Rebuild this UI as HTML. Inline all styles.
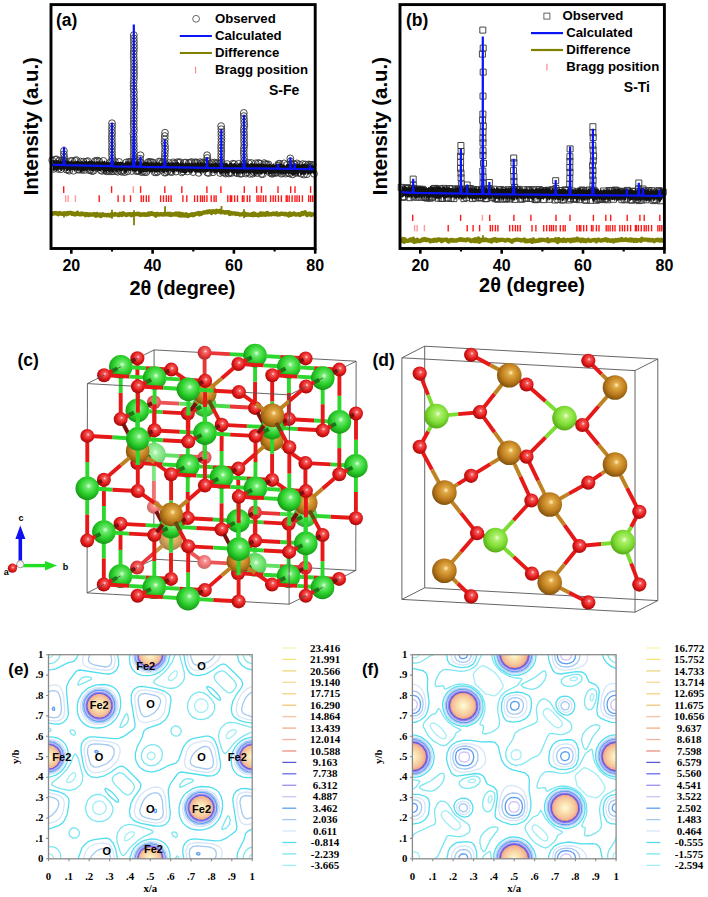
<!DOCTYPE html>
<html><head><meta charset="utf-8"><title>figure</title><style>
html,body{margin:0;padding:0;background:#fff;}
svg{display:block;}
text{font-family:"Liberation Sans",sans-serif;}
.pl{font-weight:bold;font-size:17.5px;}
.lg{font-weight:bold;font-size:13.2px;}
.sp{font-weight:bold;font-size:14px;}
.tk{font-weight:bold;font-size:16px;}
.ax{font-weight:bold;font-size:19.9px;}
.ay{font-weight:bold;font-size:20.4px;}
.fe{font-weight:bold;font-size:11px;}
.ai{font-weight:bold;font-size:9px;}
.tl{font-size:10.8px;}
.lv{font-size:11px;}
.sf{font-family:"Liberation Serif",serif;font-weight:bold;}
</style></head>
<body><svg width="708" height="897" viewBox="0 0 708 897">
<rect width="708" height="897" fill="#fff"/>
<line x1="63.7" y1="186.2" x2="63.7" y2="192.9" stroke="#ff1a1a" stroke-width="1.4"/>
<line x1="111.6" y1="186.2" x2="111.6" y2="192.9" stroke="#ff1a1a" stroke-width="1.4"/>
<line x1="133.3" y1="186.2" x2="133.3" y2="192.9" stroke="#ff9a9a" stroke-width="1.4"/>
<line x1="140.6" y1="186.2" x2="140.6" y2="192.9" stroke="#ff1a1a" stroke-width="1.4"/>
<line x1="164.8" y1="186.2" x2="164.8" y2="192.9" stroke="#ff1a1a" stroke-width="1.4"/>
<line x1="181.8" y1="186.2" x2="181.8" y2="192.9" stroke="#ff1a1a" stroke-width="1.4"/>
<line x1="206.9" y1="186.2" x2="206.9" y2="192.9" stroke="#ff1a1a" stroke-width="1.4"/>
<line x1="220.9" y1="186.2" x2="220.9" y2="192.9" stroke="#ff1a1a" stroke-width="1.4"/>
<line x1="244.3" y1="186.2" x2="244.3" y2="192.9" stroke="#ff1a1a" stroke-width="1.4"/>
<line x1="256.6" y1="186.2" x2="256.6" y2="192.9" stroke="#ff1a1a" stroke-width="1.4"/>
<line x1="261.5" y1="186.2" x2="261.5" y2="192.9" stroke="#ff1a1a" stroke-width="1.4"/>
<line x1="278.0" y1="186.2" x2="278.0" y2="192.9" stroke="#ff1a1a" stroke-width="1.4"/>
<line x1="290.7" y1="186.2" x2="290.7" y2="192.9" stroke="#ff1a1a" stroke-width="1.4"/>
<line x1="295.0" y1="186.2" x2="295.0" y2="192.9" stroke="#ff1a1a" stroke-width="1.4"/>
<line x1="310.6" y1="186.2" x2="310.6" y2="192.9" stroke="#ff1a1a" stroke-width="1.4"/>
<line x1="65.6" y1="195.3" x2="65.6" y2="202.0" stroke="#ff9a9a" stroke-width="1.4"/>
<line x1="68.1" y1="195.3" x2="68.1" y2="202.0" stroke="#ff9a9a" stroke-width="1.4"/>
<line x1="75.4" y1="195.3" x2="75.4" y2="202.0" stroke="#ff9a9a" stroke-width="1.4"/>
<line x1="99.2" y1="195.3" x2="99.2" y2="202.0" stroke="#ff1a1a" stroke-width="1.4"/>
<line x1="118.1" y1="195.3" x2="118.1" y2="202.0" stroke="#ff1a1a" stroke-width="1.4"/>
<line x1="124.0" y1="195.3" x2="124.0" y2="202.0" stroke="#ff1a1a" stroke-width="1.4"/>
<line x1="130.5" y1="195.3" x2="130.5" y2="202.0" stroke="#ff1a1a" stroke-width="1.4"/>
<line x1="141.2" y1="195.3" x2="141.2" y2="202.0" stroke="#ff1a1a" stroke-width="1.4"/>
<line x1="143.4" y1="195.3" x2="143.4" y2="202.0" stroke="#ff1a1a" stroke-width="1.4"/>
<line x1="146.3" y1="195.3" x2="146.3" y2="202.0" stroke="#ff1a1a" stroke-width="1.4"/>
<line x1="148.8" y1="195.3" x2="148.8" y2="202.0" stroke="#ff1a1a" stroke-width="1.4"/>
<line x1="160.6" y1="195.3" x2="160.6" y2="202.0" stroke="#ff1a1a" stroke-width="1.4"/>
<line x1="163.5" y1="195.3" x2="163.5" y2="202.0" stroke="#ff1a1a" stroke-width="1.4"/>
<line x1="166.3" y1="195.3" x2="166.3" y2="202.0" stroke="#ff1a1a" stroke-width="1.4"/>
<line x1="168.6" y1="195.3" x2="168.6" y2="202.0" stroke="#ff1a1a" stroke-width="1.4"/>
<line x1="171.1" y1="195.3" x2="171.1" y2="202.0" stroke="#ff1a1a" stroke-width="1.4"/>
<line x1="182.9" y1="195.3" x2="182.9" y2="202.0" stroke="#ff1a1a" stroke-width="1.4"/>
<line x1="186.8" y1="195.3" x2="186.8" y2="202.0" stroke="#ff1a1a" stroke-width="1.4"/>
<line x1="194.6" y1="195.3" x2="194.6" y2="202.0" stroke="#ff1a1a" stroke-width="1.4"/>
<line x1="197.5" y1="195.3" x2="197.5" y2="202.0" stroke="#ff1a1a" stroke-width="1.4"/>
<line x1="200.5" y1="195.3" x2="200.5" y2="202.0" stroke="#ff1a1a" stroke-width="1.4"/>
<line x1="202.4" y1="195.3" x2="202.4" y2="202.0" stroke="#ff1a1a" stroke-width="1.4"/>
<line x1="204.4" y1="195.3" x2="204.4" y2="202.0" stroke="#ff1a1a" stroke-width="1.4"/>
<line x1="206.9" y1="195.3" x2="206.9" y2="202.0" stroke="#ff1a1a" stroke-width="1.4"/>
<line x1="211.2" y1="195.3" x2="211.2" y2="202.0" stroke="#ff1a1a" stroke-width="1.4"/>
<line x1="214.1" y1="195.3" x2="214.1" y2="202.0" stroke="#ff1a1a" stroke-width="1.4"/>
<line x1="216.1" y1="195.3" x2="216.1" y2="202.0" stroke="#ff1a1a" stroke-width="1.4"/>
<line x1="227.8" y1="195.3" x2="227.8" y2="202.0" stroke="#ff1a1a" stroke-width="1.4"/>
<line x1="230.3" y1="195.3" x2="230.3" y2="202.0" stroke="#ff1a1a" stroke-width="1.4"/>
<line x1="231.7" y1="195.3" x2="231.7" y2="202.0" stroke="#ff1a1a" stroke-width="1.4"/>
<line x1="234.6" y1="195.3" x2="234.6" y2="202.0" stroke="#ff1a1a" stroke-width="1.4"/>
<line x1="237.5" y1="195.3" x2="237.5" y2="202.0" stroke="#ff1a1a" stroke-width="1.4"/>
<line x1="242.4" y1="195.3" x2="242.4" y2="202.0" stroke="#ff1a1a" stroke-width="1.4"/>
<line x1="243.9" y1="195.3" x2="243.9" y2="202.0" stroke="#ff1a1a" stroke-width="1.4"/>
<line x1="247.3" y1="195.3" x2="247.3" y2="202.0" stroke="#ff1a1a" stroke-width="1.4"/>
<line x1="249.8" y1="195.3" x2="249.8" y2="202.0" stroke="#ff1a1a" stroke-width="1.4"/>
<line x1="257.0" y1="195.3" x2="257.0" y2="202.0" stroke="#ff1a1a" stroke-width="1.4"/>
<line x1="258.9" y1="195.3" x2="258.9" y2="202.0" stroke="#ff1a1a" stroke-width="1.4"/>
<line x1="260.9" y1="195.3" x2="260.9" y2="202.0" stroke="#ff1a1a" stroke-width="1.4"/>
<line x1="263.4" y1="195.3" x2="263.4" y2="202.0" stroke="#ff1a1a" stroke-width="1.4"/>
<line x1="265.8" y1="195.3" x2="265.8" y2="202.0" stroke="#ff1a1a" stroke-width="1.4"/>
<line x1="270.6" y1="195.3" x2="270.6" y2="202.0" stroke="#ff1a1a" stroke-width="1.4"/>
<line x1="273.2" y1="195.3" x2="273.2" y2="202.0" stroke="#ff1a1a" stroke-width="1.4"/>
<line x1="275.5" y1="195.3" x2="275.5" y2="202.0" stroke="#ff1a1a" stroke-width="1.4"/>
<line x1="278.4" y1="195.3" x2="278.4" y2="202.0" stroke="#ff1a1a" stroke-width="1.4"/>
<line x1="281.4" y1="195.3" x2="281.4" y2="202.0" stroke="#ff1a1a" stroke-width="1.4"/>
<line x1="286.2" y1="195.3" x2="286.2" y2="202.0" stroke="#ff1a1a" stroke-width="1.4"/>
<line x1="287.2" y1="195.3" x2="287.2" y2="202.0" stroke="#ff1a1a" stroke-width="1.4"/>
<line x1="289.2" y1="195.3" x2="289.2" y2="202.0" stroke="#ff1a1a" stroke-width="1.4"/>
<line x1="292.1" y1="195.3" x2="292.1" y2="202.0" stroke="#ff1a1a" stroke-width="1.4"/>
<line x1="295.0" y1="195.3" x2="295.0" y2="202.0" stroke="#ff1a1a" stroke-width="1.4"/>
<line x1="297.0" y1="195.3" x2="297.0" y2="202.0" stroke="#ff1a1a" stroke-width="1.4"/>
<line x1="299.3" y1="195.3" x2="299.3" y2="202.0" stroke="#ff1a1a" stroke-width="1.4"/>
<line x1="302.4" y1="195.3" x2="302.4" y2="202.0" stroke="#ff1a1a" stroke-width="1.4"/>
<line x1="308.7" y1="195.3" x2="308.7" y2="202.0" stroke="#ff1a1a" stroke-width="1.4"/>
<line x1="310.6" y1="195.3" x2="310.6" y2="202.0" stroke="#ff1a1a" stroke-width="1.4"/>
<line x1="312.6" y1="195.3" x2="312.6" y2="202.0" stroke="#ff1a1a" stroke-width="1.4"/>
<line x1="314.5" y1="195.3" x2="314.5" y2="202.0" stroke="#ff1a1a" stroke-width="1.4"/>
<path d="M51.0,213.8 L52.0,213.9 L53.0,213.5 L54.0,213.1 L55.1,213.3 L56.1,213.0 L57.1,213.6 L58.1,214.3 L59.1,213.2 L60.1,213.1 L61.2,213.8 L62.2,213.8 L63.2,213.6 L64.2,213.1 L65.2,213.7 L66.2,214.2 L67.3,213.0 L68.3,213.6 L69.3,212.8 L70.3,213.2 L71.3,212.9 L72.3,213.9 L73.4,213.4 L74.4,214.3 L75.4,214.3 L76.4,214.1 L77.4,212.7 L78.4,214.0 L79.5,214.3 L80.5,214.4 L81.5,213.4 L82.5,214.1 L83.5,213.8 L84.5,214.0 L85.5,215.1 L86.6,214.0 L87.6,214.5 L88.6,215.1 L89.6,214.2 L90.6,214.5 L91.6,214.7 L92.7,214.7 L93.7,214.0 L94.7,214.8 L95.7,215.6 L96.7,213.9 L97.7,215.3 L98.8,214.9 L99.8,214.5 L100.8,216.1 L101.8,215.3 L102.8,214.2 L103.8,214.9 L104.9,215.2 L105.9,214.8 L106.9,215.3 L107.9,214.8 L108.9,215.2 L109.9,215.7 L111.0,214.4 L112.0,214.9 L113.0,214.5 L114.0,214.8 L115.0,214.0 L116.0,214.3 L117.0,214.5 L118.1,215.1 L119.1,215.2 L120.1,213.7 L121.1,214.0 L122.1,214.9 L123.1,213.3 L124.2,214.1 L125.2,214.3 L126.2,215.1 L127.2,214.8 L128.2,214.2 L129.2,214.1 L130.3,214.2 L131.3,215.2 L132.3,214.1 L133.3,214.1 L134.3,214.5 L135.3,214.2 L136.4,214.2 L137.4,213.6 L138.4,214.3 L139.4,214.0 L140.4,215.0 L141.4,214.7 L142.5,214.3 L143.5,214.7 L144.5,214.1 L145.5,214.9 L146.5,214.3 L147.5,214.7 L148.6,213.5 L149.6,214.5 L150.6,213.3 L151.6,213.1 L152.6,214.1 L153.6,213.8 L154.6,214.4 L155.7,215.6 L156.7,213.8 L157.7,213.9 L158.7,214.4 L159.7,214.6 L160.7,214.2 L161.8,214.2 L162.8,214.7 L163.8,214.6 L164.8,213.7 L165.8,214.3 L166.8,214.3 L167.9,213.7 L168.9,214.5 L169.9,213.8 L170.9,215.0 L171.9,214.5 L172.9,214.5 L174.0,214.1 L175.0,214.5 L176.0,213.4 L177.0,214.0 L178.0,215.0 L179.0,213.5 L180.1,215.4 L181.1,213.9 L182.1,215.5 L183.1,214.6 L184.1,215.6 L185.1,215.3 L186.1,214.3 L187.2,215.9 L188.2,216.0 L189.2,215.0 L190.2,214.8 L191.2,214.8 L192.2,214.2 L193.3,215.3 L194.3,214.1 L195.3,214.3 L196.3,213.6 L197.3,213.6 L198.3,213.0 L199.4,214.3 L200.4,213.3 L201.4,213.8 L202.4,213.1 L203.4,212.5 L204.4,212.5 L205.5,212.2 L206.5,212.4 L207.5,212.1 L208.5,212.0 L209.5,211.2 L210.5,211.5 L211.6,212.9 L212.6,211.4 L213.6,211.1 L214.6,211.9 L215.6,212.5 L216.6,210.8 L217.6,211.6 L218.7,211.4 L219.7,210.8 L220.7,212.4 L221.7,212.0 L222.7,212.2 L223.7,211.8 L224.8,212.7 L225.8,212.2 L226.8,212.6 L227.8,212.2 L228.8,212.2 L229.8,213.9 L230.9,212.9 L231.9,213.5 L232.9,213.4 L233.9,213.3 L234.9,213.4 L235.9,214.1 L237.0,213.7 L238.0,213.8 L239.0,214.0 L240.0,214.7 L241.0,214.5 L242.0,214.3 L243.1,213.8 L244.1,213.3 L245.1,214.8 L246.1,214.8 L247.1,214.2 L248.1,214.6 L249.2,214.7 L250.2,214.8 L251.2,214.8 L252.2,214.0 L253.2,215.2 L254.2,213.5 L255.2,214.8 L256.3,214.6 L257.3,214.8 L258.3,215.4 L259.3,215.2 L260.3,213.6 L261.3,213.3 L262.4,214.8 L263.4,213.7 L264.4,214.3 L265.4,214.8 L266.4,213.3 L267.4,213.0 L268.5,214.5 L269.5,214.3 L270.5,214.2 L271.5,214.3 L272.5,213.8 L273.5,213.4 L274.6,214.2 L275.6,213.7 L276.6,213.3 L277.6,214.6 L278.6,214.3 L279.6,214.5 L280.7,213.7 L281.7,213.9 L282.7,213.7 L283.7,213.8 L284.7,214.4 L285.7,213.8 L286.7,214.5 L287.8,214.5 L288.8,215.5 L289.8,213.5 L290.8,214.8 L291.8,214.2 L292.8,214.3 L293.9,213.4 L294.9,214.0 L295.9,214.7 L296.9,214.3 L297.9,214.3 L298.9,214.1 L300.0,215.0 L301.0,214.3 L302.0,213.0 L303.0,213.9 L304.0,213.1 L305.0,212.3 L306.1,214.0 L307.1,215.1 L308.1,214.3 L309.1,213.6 L310.1,213.7 L311.1,215.0 L312.2,214.4 L313.2,214.3 L314.2,214.3 L315.2,214.3" fill="none" stroke="#7f7f00" stroke-width="4.3" stroke-linejoin="round"/>
<line x1="134.0" y1="214.3" x2="134.0" y2="225.3" stroke="#7f7f00" stroke-width="1.8"/>
<line x1="134.0" y1="214.3" x2="134.0" y2="210.3" stroke="#7f7f00" stroke-width="1.8"/>
<line x1="112.0" y1="214.8" x2="112.0" y2="209.8" stroke="#7f7f00" stroke-width="1.8"/>
<line x1="112.0" y1="214.8" x2="112.0" y2="218.8" stroke="#7f7f00" stroke-width="1.8"/>
<line x1="165.0" y1="214.3" x2="165.0" y2="206.3" stroke="#7f7f00" stroke-width="1.8"/>
<line x1="64.0" y1="213.6" x2="64.0" y2="217.6" stroke="#7f7f00" stroke-width="1.8"/>
<line x1="221.5" y1="212.0" x2="221.5" y2="206.0" stroke="#7f7f00" stroke-width="1.8"/>
<line x1="244.0" y1="214.2" x2="244.0" y2="209.2" stroke="#7f7f00" stroke-width="1.8"/>
<line x1="244.0" y1="214.2" x2="244.0" y2="218.2" stroke="#7f7f00" stroke-width="1.8"/>
<line x1="207.0" y1="212.4" x2="207.0" y2="209.4" stroke="#7f7f00" stroke-width="1.8"/>
<path d="M48.8,160.3a3.4,3.4 0 1,0 6.8,0a3.4,3.4 0 1,0 -6.8,0M50.2,168.9a3.4,3.4 0 1,0 6.8,0a3.4,3.4 0 1,0 -6.8,0M51.7,159.6a3.4,3.4 0 1,0 6.8,0a3.4,3.4 0 1,0 -6.8,0M53.1,159.4a3.4,3.4 0 1,0 6.8,0a3.4,3.4 0 1,0 -6.8,0M54.5,168.9a3.4,3.4 0 1,0 6.8,0a3.4,3.4 0 1,0 -6.8,0M55.9,160.7a3.4,3.4 0 1,0 6.8,0a3.4,3.4 0 1,0 -6.8,0M57.4,169.3a3.4,3.4 0 1,0 6.8,0a3.4,3.4 0 1,0 -6.8,0M58.8,160.2a3.4,3.4 0 1,0 6.8,0a3.4,3.4 0 1,0 -6.8,0M60.2,160.5a3.4,3.4 0 1,0 6.8,0a3.4,3.4 0 1,0 -6.8,0M61.6,160.9a3.4,3.4 0 1,0 6.8,0a3.4,3.4 0 1,0 -6.8,0M63.0,169.6a3.4,3.4 0 1,0 6.8,0a3.4,3.4 0 1,0 -6.8,0M64.5,169.8a3.4,3.4 0 1,0 6.8,0a3.4,3.4 0 1,0 -6.8,0M65.9,170.7a3.4,3.4 0 1,0 6.8,0a3.4,3.4 0 1,0 -6.8,0M67.3,161.0a3.4,3.4 0 1,0 6.8,0a3.4,3.4 0 1,0 -6.8,0M68.7,161.0a3.4,3.4 0 1,0 6.8,0a3.4,3.4 0 1,0 -6.8,0M70.2,170.8a3.4,3.4 0 1,0 6.8,0a3.4,3.4 0 1,0 -6.8,0M71.6,160.7a3.4,3.4 0 1,0 6.8,0a3.4,3.4 0 1,0 -6.8,0M73.0,160.1a3.4,3.4 0 1,0 6.8,0a3.4,3.4 0 1,0 -6.8,0M74.4,169.6a3.4,3.4 0 1,0 6.8,0a3.4,3.4 0 1,0 -6.8,0M75.8,169.7a3.4,3.4 0 1,0 6.8,0a3.4,3.4 0 1,0 -6.8,0M77.3,161.6a3.4,3.4 0 1,0 6.8,0a3.4,3.4 0 1,0 -6.8,0M78.7,170.0a3.4,3.4 0 1,0 6.8,0a3.4,3.4 0 1,0 -6.8,0M80.1,161.7a3.4,3.4 0 1,0 6.8,0a3.4,3.4 0 1,0 -6.8,0M81.5,169.9a3.4,3.4 0 1,0 6.8,0a3.4,3.4 0 1,0 -6.8,0M83.0,161.7a3.4,3.4 0 1,0 6.8,0a3.4,3.4 0 1,0 -6.8,0M84.4,161.1a3.4,3.4 0 1,0 6.8,0a3.4,3.4 0 1,0 -6.8,0M85.8,170.2a3.4,3.4 0 1,0 6.8,0a3.4,3.4 0 1,0 -6.8,0M87.2,169.9a3.4,3.4 0 1,0 6.8,0a3.4,3.4 0 1,0 -6.8,0M88.7,171.1a3.4,3.4 0 1,0 6.8,0a3.4,3.4 0 1,0 -6.8,0M90.1,170.7a3.4,3.4 0 1,0 6.8,0a3.4,3.4 0 1,0 -6.8,0M91.5,161.1a3.4,3.4 0 1,0 6.8,0a3.4,3.4 0 1,0 -6.8,0M92.9,161.0a3.4,3.4 0 1,0 6.8,0a3.4,3.4 0 1,0 -6.8,0M94.3,160.6a3.4,3.4 0 1,0 6.8,0a3.4,3.4 0 1,0 -6.8,0M95.8,161.4a3.4,3.4 0 1,0 6.8,0a3.4,3.4 0 1,0 -6.8,0M97.2,170.1a3.4,3.4 0 1,0 6.8,0a3.4,3.4 0 1,0 -6.8,0M98.6,170.9a3.4,3.4 0 1,0 6.8,0a3.4,3.4 0 1,0 -6.8,0M100.0,160.9a3.4,3.4 0 1,0 6.8,0a3.4,3.4 0 1,0 -6.8,0M101.5,170.4a3.4,3.4 0 1,0 6.8,0a3.4,3.4 0 1,0 -6.8,0M102.9,171.3a3.4,3.4 0 1,0 6.8,0a3.4,3.4 0 1,0 -6.8,0M104.3,170.8a3.4,3.4 0 1,0 6.8,0a3.4,3.4 0 1,0 -6.8,0M105.7,171.4a3.4,3.4 0 1,0 6.8,0a3.4,3.4 0 1,0 -6.8,0M107.1,162.0a3.4,3.4 0 1,0 6.8,0a3.4,3.4 0 1,0 -6.8,0M108.6,171.4a3.4,3.4 0 1,0 6.8,0a3.4,3.4 0 1,0 -6.8,0M110.0,171.1a3.4,3.4 0 1,0 6.8,0a3.4,3.4 0 1,0 -6.8,0M111.4,161.6a3.4,3.4 0 1,0 6.8,0a3.4,3.4 0 1,0 -6.8,0M112.8,171.0a3.4,3.4 0 1,0 6.8,0a3.4,3.4 0 1,0 -6.8,0M114.3,171.8a3.4,3.4 0 1,0 6.8,0a3.4,3.4 0 1,0 -6.8,0M115.7,161.9a3.4,3.4 0 1,0 6.8,0a3.4,3.4 0 1,0 -6.8,0M117.1,171.0a3.4,3.4 0 1,0 6.8,0a3.4,3.4 0 1,0 -6.8,0M118.5,171.9a3.4,3.4 0 1,0 6.8,0a3.4,3.4 0 1,0 -6.8,0M120.0,170.4a3.4,3.4 0 1,0 6.8,0a3.4,3.4 0 1,0 -6.8,0M121.4,172.1a3.4,3.4 0 1,0 6.8,0a3.4,3.4 0 1,0 -6.8,0M122.8,162.5a3.4,3.4 0 1,0 6.8,0a3.4,3.4 0 1,0 -6.8,0M124.2,171.3a3.4,3.4 0 1,0 6.8,0a3.4,3.4 0 1,0 -6.8,0M125.6,161.7a3.4,3.4 0 1,0 6.8,0a3.4,3.4 0 1,0 -6.8,0M127.1,162.4a3.4,3.4 0 1,0 6.8,0a3.4,3.4 0 1,0 -6.8,0M128.5,171.0a3.4,3.4 0 1,0 6.8,0a3.4,3.4 0 1,0 -6.8,0M129.9,161.7a3.4,3.4 0 1,0 6.8,0a3.4,3.4 0 1,0 -6.8,0M131.3,161.2a3.4,3.4 0 1,0 6.8,0a3.4,3.4 0 1,0 -6.8,0M132.8,171.1a3.4,3.4 0 1,0 6.8,0a3.4,3.4 0 1,0 -6.8,0M134.2,170.6a3.4,3.4 0 1,0 6.8,0a3.4,3.4 0 1,0 -6.8,0M135.6,171.3a3.4,3.4 0 1,0 6.8,0a3.4,3.4 0 1,0 -6.8,0M137.0,162.7a3.4,3.4 0 1,0 6.8,0a3.4,3.4 0 1,0 -6.8,0M138.4,172.2a3.4,3.4 0 1,0 6.8,0a3.4,3.4 0 1,0 -6.8,0M139.9,171.2a3.4,3.4 0 1,0 6.8,0a3.4,3.4 0 1,0 -6.8,0M141.3,172.0a3.4,3.4 0 1,0 6.8,0a3.4,3.4 0 1,0 -6.8,0M142.7,172.3a3.4,3.4 0 1,0 6.8,0a3.4,3.4 0 1,0 -6.8,0M144.1,162.8a3.4,3.4 0 1,0 6.8,0a3.4,3.4 0 1,0 -6.8,0M145.6,161.7a3.4,3.4 0 1,0 6.8,0a3.4,3.4 0 1,0 -6.8,0M147.0,162.3a3.4,3.4 0 1,0 6.8,0a3.4,3.4 0 1,0 -6.8,0M148.4,162.2a3.4,3.4 0 1,0 6.8,0a3.4,3.4 0 1,0 -6.8,0M149.8,162.6a3.4,3.4 0 1,0 6.8,0a3.4,3.4 0 1,0 -6.8,0M151.2,172.2a3.4,3.4 0 1,0 6.8,0a3.4,3.4 0 1,0 -6.8,0M152.7,172.4a3.4,3.4 0 1,0 6.8,0a3.4,3.4 0 1,0 -6.8,0M154.1,171.9a3.4,3.4 0 1,0 6.8,0a3.4,3.4 0 1,0 -6.8,0M155.5,161.5a3.4,3.4 0 1,0 6.8,0a3.4,3.4 0 1,0 -6.8,0M156.9,161.9a3.4,3.4 0 1,0 6.8,0a3.4,3.4 0 1,0 -6.8,0M158.4,163.0a3.4,3.4 0 1,0 6.8,0a3.4,3.4 0 1,0 -6.8,0M159.8,162.2a3.4,3.4 0 1,0 6.8,0a3.4,3.4 0 1,0 -6.8,0M161.2,172.6a3.4,3.4 0 1,0 6.8,0a3.4,3.4 0 1,0 -6.8,0M162.6,172.5a3.4,3.4 0 1,0 6.8,0a3.4,3.4 0 1,0 -6.8,0M164.1,171.2a3.4,3.4 0 1,0 6.8,0a3.4,3.4 0 1,0 -6.8,0M165.5,163.0a3.4,3.4 0 1,0 6.8,0a3.4,3.4 0 1,0 -6.8,0M166.9,171.6a3.4,3.4 0 1,0 6.8,0a3.4,3.4 0 1,0 -6.8,0M168.3,172.2a3.4,3.4 0 1,0 6.8,0a3.4,3.4 0 1,0 -6.8,0M169.7,162.3a3.4,3.4 0 1,0 6.8,0a3.4,3.4 0 1,0 -6.8,0M171.2,163.4a3.4,3.4 0 1,0 6.8,0a3.4,3.4 0 1,0 -6.8,0M172.6,171.6a3.4,3.4 0 1,0 6.8,0a3.4,3.4 0 1,0 -6.8,0M174.0,162.1a3.4,3.4 0 1,0 6.8,0a3.4,3.4 0 1,0 -6.8,0M175.4,162.5a3.4,3.4 0 1,0 6.8,0a3.4,3.4 0 1,0 -6.8,0M176.9,162.2a3.4,3.4 0 1,0 6.8,0a3.4,3.4 0 1,0 -6.8,0M178.3,172.4a3.4,3.4 0 1,0 6.8,0a3.4,3.4 0 1,0 -6.8,0M179.7,171.5a3.4,3.4 0 1,0 6.8,0a3.4,3.4 0 1,0 -6.8,0M181.1,162.8a3.4,3.4 0 1,0 6.8,0a3.4,3.4 0 1,0 -6.8,0M182.5,162.6a3.4,3.4 0 1,0 6.8,0a3.4,3.4 0 1,0 -6.8,0M184.0,171.5a3.4,3.4 0 1,0 6.8,0a3.4,3.4 0 1,0 -6.8,0M185.4,163.0a3.4,3.4 0 1,0 6.8,0a3.4,3.4 0 1,0 -6.8,0M186.8,162.6a3.4,3.4 0 1,0 6.8,0a3.4,3.4 0 1,0 -6.8,0M188.2,162.0a3.4,3.4 0 1,0 6.8,0a3.4,3.4 0 1,0 -6.8,0M189.7,172.1a3.4,3.4 0 1,0 6.8,0a3.4,3.4 0 1,0 -6.8,0M191.1,162.7a3.4,3.4 0 1,0 6.8,0a3.4,3.4 0 1,0 -6.8,0M192.5,162.2a3.4,3.4 0 1,0 6.8,0a3.4,3.4 0 1,0 -6.8,0M193.9,162.9a3.4,3.4 0 1,0 6.8,0a3.4,3.4 0 1,0 -6.8,0M195.3,172.9a3.4,3.4 0 1,0 6.8,0a3.4,3.4 0 1,0 -6.8,0M196.8,162.1a3.4,3.4 0 1,0 6.8,0a3.4,3.4 0 1,0 -6.8,0M198.2,163.3a3.4,3.4 0 1,0 6.8,0a3.4,3.4 0 1,0 -6.8,0M199.6,162.4a3.4,3.4 0 1,0 6.8,0a3.4,3.4 0 1,0 -6.8,0M201.0,163.3a3.4,3.4 0 1,0 6.8,0a3.4,3.4 0 1,0 -6.8,0M202.5,162.8a3.4,3.4 0 1,0 6.8,0a3.4,3.4 0 1,0 -6.8,0M203.9,172.6a3.4,3.4 0 1,0 6.8,0a3.4,3.4 0 1,0 -6.8,0M205.3,173.0a3.4,3.4 0 1,0 6.8,0a3.4,3.4 0 1,0 -6.8,0M206.7,163.8a3.4,3.4 0 1,0 6.8,0a3.4,3.4 0 1,0 -6.8,0M208.2,162.5a3.4,3.4 0 1,0 6.8,0a3.4,3.4 0 1,0 -6.8,0M209.6,172.3a3.4,3.4 0 1,0 6.8,0a3.4,3.4 0 1,0 -6.8,0M211.0,162.5a3.4,3.4 0 1,0 6.8,0a3.4,3.4 0 1,0 -6.8,0M212.4,163.2a3.4,3.4 0 1,0 6.8,0a3.4,3.4 0 1,0 -6.8,0M213.8,163.2a3.4,3.4 0 1,0 6.8,0a3.4,3.4 0 1,0 -6.8,0M215.3,163.6a3.4,3.4 0 1,0 6.8,0a3.4,3.4 0 1,0 -6.8,0M216.7,173.0a3.4,3.4 0 1,0 6.8,0a3.4,3.4 0 1,0 -6.8,0M218.1,162.5a3.4,3.4 0 1,0 6.8,0a3.4,3.4 0 1,0 -6.8,0M219.5,172.2a3.4,3.4 0 1,0 6.8,0a3.4,3.4 0 1,0 -6.8,0M221.0,172.7a3.4,3.4 0 1,0 6.8,0a3.4,3.4 0 1,0 -6.8,0M222.4,173.6a3.4,3.4 0 1,0 6.8,0a3.4,3.4 0 1,0 -6.8,0M223.8,164.0a3.4,3.4 0 1,0 6.8,0a3.4,3.4 0 1,0 -6.8,0M225.2,173.5a3.4,3.4 0 1,0 6.8,0a3.4,3.4 0 1,0 -6.8,0M226.6,172.7a3.4,3.4 0 1,0 6.8,0a3.4,3.4 0 1,0 -6.8,0M228.1,173.0a3.4,3.4 0 1,0 6.8,0a3.4,3.4 0 1,0 -6.8,0M229.5,163.7a3.4,3.4 0 1,0 6.8,0a3.4,3.4 0 1,0 -6.8,0M230.9,164.1a3.4,3.4 0 1,0 6.8,0a3.4,3.4 0 1,0 -6.8,0M232.3,172.4a3.4,3.4 0 1,0 6.8,0a3.4,3.4 0 1,0 -6.8,0M233.8,173.3a3.4,3.4 0 1,0 6.8,0a3.4,3.4 0 1,0 -6.8,0M235.2,163.8a3.4,3.4 0 1,0 6.8,0a3.4,3.4 0 1,0 -6.8,0M236.6,173.7a3.4,3.4 0 1,0 6.8,0a3.4,3.4 0 1,0 -6.8,0M238.0,173.7a3.4,3.4 0 1,0 6.8,0a3.4,3.4 0 1,0 -6.8,0M239.4,164.4a3.4,3.4 0 1,0 6.8,0a3.4,3.4 0 1,0 -6.8,0M240.9,163.7a3.4,3.4 0 1,0 6.8,0a3.4,3.4 0 1,0 -6.8,0M242.3,173.5a3.4,3.4 0 1,0 6.8,0a3.4,3.4 0 1,0 -6.8,0M243.7,172.3a3.4,3.4 0 1,0 6.8,0a3.4,3.4 0 1,0 -6.8,0M245.1,162.9a3.4,3.4 0 1,0 6.8,0a3.4,3.4 0 1,0 -6.8,0M246.6,173.9a3.4,3.4 0 1,0 6.8,0a3.4,3.4 0 1,0 -6.8,0M248.0,163.0a3.4,3.4 0 1,0 6.8,0a3.4,3.4 0 1,0 -6.8,0M249.4,173.7a3.4,3.4 0 1,0 6.8,0a3.4,3.4 0 1,0 -6.8,0M250.8,172.5a3.4,3.4 0 1,0 6.8,0a3.4,3.4 0 1,0 -6.8,0M252.3,163.3a3.4,3.4 0 1,0 6.8,0a3.4,3.4 0 1,0 -6.8,0M253.7,173.0a3.4,3.4 0 1,0 6.8,0a3.4,3.4 0 1,0 -6.8,0M255.1,162.9a3.4,3.4 0 1,0 6.8,0a3.4,3.4 0 1,0 -6.8,0M256.5,163.7a3.4,3.4 0 1,0 6.8,0a3.4,3.4 0 1,0 -6.8,0M257.9,174.0a3.4,3.4 0 1,0 6.8,0a3.4,3.4 0 1,0 -6.8,0M259.4,174.1a3.4,3.4 0 1,0 6.8,0a3.4,3.4 0 1,0 -6.8,0M260.8,163.1a3.4,3.4 0 1,0 6.8,0a3.4,3.4 0 1,0 -6.8,0M262.2,164.1a3.4,3.4 0 1,0 6.8,0a3.4,3.4 0 1,0 -6.8,0M263.6,164.5a3.4,3.4 0 1,0 6.8,0a3.4,3.4 0 1,0 -6.8,0M265.1,164.4a3.4,3.4 0 1,0 6.8,0a3.4,3.4 0 1,0 -6.8,0M266.5,172.5a3.4,3.4 0 1,0 6.8,0a3.4,3.4 0 1,0 -6.8,0M267.9,173.6a3.4,3.4 0 1,0 6.8,0a3.4,3.4 0 1,0 -6.8,0M269.3,173.7a3.4,3.4 0 1,0 6.8,0a3.4,3.4 0 1,0 -6.8,0M270.7,172.7a3.4,3.4 0 1,0 6.8,0a3.4,3.4 0 1,0 -6.8,0M272.2,172.8a3.4,3.4 0 1,0 6.8,0a3.4,3.4 0 1,0 -6.8,0M273.6,172.7a3.4,3.4 0 1,0 6.8,0a3.4,3.4 0 1,0 -6.8,0M275.0,164.0a3.4,3.4 0 1,0 6.8,0a3.4,3.4 0 1,0 -6.8,0M276.4,163.7a3.4,3.4 0 1,0 6.8,0a3.4,3.4 0 1,0 -6.8,0M277.9,173.7a3.4,3.4 0 1,0 6.8,0a3.4,3.4 0 1,0 -6.8,0M279.3,173.1a3.4,3.4 0 1,0 6.8,0a3.4,3.4 0 1,0 -6.8,0M280.7,163.4a3.4,3.4 0 1,0 6.8,0a3.4,3.4 0 1,0 -6.8,0M282.1,173.6a3.4,3.4 0 1,0 6.8,0a3.4,3.4 0 1,0 -6.8,0M283.6,164.9a3.4,3.4 0 1,0 6.8,0a3.4,3.4 0 1,0 -6.8,0M285.0,173.1a3.4,3.4 0 1,0 6.8,0a3.4,3.4 0 1,0 -6.8,0M286.4,173.5a3.4,3.4 0 1,0 6.8,0a3.4,3.4 0 1,0 -6.8,0M287.8,163.8a3.4,3.4 0 1,0 6.8,0a3.4,3.4 0 1,0 -6.8,0M289.2,174.4a3.4,3.4 0 1,0 6.8,0a3.4,3.4 0 1,0 -6.8,0M290.7,164.4a3.4,3.4 0 1,0 6.8,0a3.4,3.4 0 1,0 -6.8,0M292.1,173.0a3.4,3.4 0 1,0 6.8,0a3.4,3.4 0 1,0 -6.8,0M293.5,163.4a3.4,3.4 0 1,0 6.8,0a3.4,3.4 0 1,0 -6.8,0M294.9,172.9a3.4,3.4 0 1,0 6.8,0a3.4,3.4 0 1,0 -6.8,0M296.4,164.8a3.4,3.4 0 1,0 6.8,0a3.4,3.4 0 1,0 -6.8,0M297.8,173.7a3.4,3.4 0 1,0 6.8,0a3.4,3.4 0 1,0 -6.8,0M299.2,164.1a3.4,3.4 0 1,0 6.8,0a3.4,3.4 0 1,0 -6.8,0M300.6,174.6a3.4,3.4 0 1,0 6.8,0a3.4,3.4 0 1,0 -6.8,0M302.0,164.5a3.4,3.4 0 1,0 6.8,0a3.4,3.4 0 1,0 -6.8,0M303.5,174.2a3.4,3.4 0 1,0 6.8,0a3.4,3.4 0 1,0 -6.8,0M304.9,164.5a3.4,3.4 0 1,0 6.8,0a3.4,3.4 0 1,0 -6.8,0M306.3,164.6a3.4,3.4 0 1,0 6.8,0a3.4,3.4 0 1,0 -6.8,0M307.7,164.8a3.4,3.4 0 1,0 6.8,0a3.4,3.4 0 1,0 -6.8,0M309.2,164.9a3.4,3.4 0 1,0 6.8,0a3.4,3.4 0 1,0 -6.8,0M310.6,173.8a3.4,3.4 0 1,0 6.8,0a3.4,3.4 0 1,0 -6.8,0M60.5,150.9a3.4,3.4 0 1,0 6.8,0a3.4,3.4 0 1,0 -6.8,0M60.4,154.2a3.4,3.4 0 1,0 6.8,0a3.4,3.4 0 1,0 -6.8,0M60.9,157.4a3.4,3.4 0 1,0 6.8,0a3.4,3.4 0 1,0 -6.8,0M60.5,160.7a3.4,3.4 0 1,0 6.8,0a3.4,3.4 0 1,0 -6.8,0M60.4,164.0a3.4,3.4 0 1,0 6.8,0a3.4,3.4 0 1,0 -6.8,0M108.6,123.2a3.4,3.4 0 1,0 6.8,0a3.4,3.4 0 1,0 -6.8,0M108.7,126.4a3.4,3.4 0 1,0 6.8,0a3.4,3.4 0 1,0 -6.8,0M108.5,129.6a3.4,3.4 0 1,0 6.8,0a3.4,3.4 0 1,0 -6.8,0M108.7,132.9a3.4,3.4 0 1,0 6.8,0a3.4,3.4 0 1,0 -6.8,0M108.5,136.1a3.4,3.4 0 1,0 6.8,0a3.4,3.4 0 1,0 -6.8,0M108.5,139.3a3.4,3.4 0 1,0 6.8,0a3.4,3.4 0 1,0 -6.8,0M108.6,142.5a3.4,3.4 0 1,0 6.8,0a3.4,3.4 0 1,0 -6.8,0M108.7,145.7a3.4,3.4 0 1,0 6.8,0a3.4,3.4 0 1,0 -6.8,0M108.5,149.0a3.4,3.4 0 1,0 6.8,0a3.4,3.4 0 1,0 -6.8,0M108.6,152.2a3.4,3.4 0 1,0 6.8,0a3.4,3.4 0 1,0 -6.8,0M108.6,155.4a3.4,3.4 0 1,0 6.8,0a3.4,3.4 0 1,0 -6.8,0M109.0,158.6a3.4,3.4 0 1,0 6.8,0a3.4,3.4 0 1,0 -6.8,0M108.5,161.8a3.4,3.4 0 1,0 6.8,0a3.4,3.4 0 1,0 -6.8,0M108.8,165.0a3.4,3.4 0 1,0 6.8,0a3.4,3.4 0 1,0 -6.8,0M130.4,35.1a3.4,3.4 0 1,0 6.8,0a3.4,3.4 0 1,0 -6.8,0M130.4,38.3a3.4,3.4 0 1,0 6.8,0a3.4,3.4 0 1,0 -6.8,0M130.5,41.5a3.4,3.4 0 1,0 6.8,0a3.4,3.4 0 1,0 -6.8,0M130.5,44.6a3.4,3.4 0 1,0 6.8,0a3.4,3.4 0 1,0 -6.8,0M130.6,47.8a3.4,3.4 0 1,0 6.8,0a3.4,3.4 0 1,0 -6.8,0M130.4,51.0a3.4,3.4 0 1,0 6.8,0a3.4,3.4 0 1,0 -6.8,0M130.3,54.2a3.4,3.4 0 1,0 6.8,0a3.4,3.4 0 1,0 -6.8,0M130.3,57.4a3.4,3.4 0 1,0 6.8,0a3.4,3.4 0 1,0 -6.8,0M130.5,60.5a3.4,3.4 0 1,0 6.8,0a3.4,3.4 0 1,0 -6.8,0M130.5,63.7a3.4,3.4 0 1,0 6.8,0a3.4,3.4 0 1,0 -6.8,0M130.6,66.9a3.4,3.4 0 1,0 6.8,0a3.4,3.4 0 1,0 -6.8,0M130.5,70.1a3.4,3.4 0 1,0 6.8,0a3.4,3.4 0 1,0 -6.8,0M130.6,73.2a3.4,3.4 0 1,0 6.8,0a3.4,3.4 0 1,0 -6.8,0M130.6,76.4a3.4,3.4 0 1,0 6.8,0a3.4,3.4 0 1,0 -6.8,0M130.4,79.6a3.4,3.4 0 1,0 6.8,0a3.4,3.4 0 1,0 -6.8,0M130.2,82.8a3.4,3.4 0 1,0 6.8,0a3.4,3.4 0 1,0 -6.8,0M130.2,86.0a3.4,3.4 0 1,0 6.8,0a3.4,3.4 0 1,0 -6.8,0M130.2,89.1a3.4,3.4 0 1,0 6.8,0a3.4,3.4 0 1,0 -6.8,0M130.6,92.3a3.4,3.4 0 1,0 6.8,0a3.4,3.4 0 1,0 -6.8,0M130.3,95.5a3.4,3.4 0 1,0 6.8,0a3.4,3.4 0 1,0 -6.8,0M130.6,98.7a3.4,3.4 0 1,0 6.8,0a3.4,3.4 0 1,0 -6.8,0M130.5,101.9a3.4,3.4 0 1,0 6.8,0a3.4,3.4 0 1,0 -6.8,0M130.7,105.0a3.4,3.4 0 1,0 6.8,0a3.4,3.4 0 1,0 -6.8,0M130.6,108.2a3.4,3.4 0 1,0 6.8,0a3.4,3.4 0 1,0 -6.8,0M130.4,111.4a3.4,3.4 0 1,0 6.8,0a3.4,3.4 0 1,0 -6.8,0M130.4,114.6a3.4,3.4 0 1,0 6.8,0a3.4,3.4 0 1,0 -6.8,0M130.4,117.8a3.4,3.4 0 1,0 6.8,0a3.4,3.4 0 1,0 -6.8,0M130.4,120.9a3.4,3.4 0 1,0 6.8,0a3.4,3.4 0 1,0 -6.8,0M130.3,124.1a3.4,3.4 0 1,0 6.8,0a3.4,3.4 0 1,0 -6.8,0M130.4,127.3a3.4,3.4 0 1,0 6.8,0a3.4,3.4 0 1,0 -6.8,0M130.6,130.5a3.4,3.4 0 1,0 6.8,0a3.4,3.4 0 1,0 -6.8,0M130.1,133.7a3.4,3.4 0 1,0 6.8,0a3.4,3.4 0 1,0 -6.8,0M130.4,136.8a3.4,3.4 0 1,0 6.8,0a3.4,3.4 0 1,0 -6.8,0M130.3,140.0a3.4,3.4 0 1,0 6.8,0a3.4,3.4 0 1,0 -6.8,0M130.4,143.2a3.4,3.4 0 1,0 6.8,0a3.4,3.4 0 1,0 -6.8,0M130.5,146.4a3.4,3.4 0 1,0 6.8,0a3.4,3.4 0 1,0 -6.8,0M130.4,149.5a3.4,3.4 0 1,0 6.8,0a3.4,3.4 0 1,0 -6.8,0M130.5,152.7a3.4,3.4 0 1,0 6.8,0a3.4,3.4 0 1,0 -6.8,0M130.2,155.9a3.4,3.4 0 1,0 6.8,0a3.4,3.4 0 1,0 -6.8,0M130.6,159.1a3.4,3.4 0 1,0 6.8,0a3.4,3.4 0 1,0 -6.8,0M130.3,162.3a3.4,3.4 0 1,0 6.8,0a3.4,3.4 0 1,0 -6.8,0M130.5,165.4a3.4,3.4 0 1,0 6.8,0a3.4,3.4 0 1,0 -6.8,0M137.1,155.2a3.4,3.4 0 1,0 6.8,0a3.4,3.4 0 1,0 -6.8,0M136.7,158.7a3.4,3.4 0 1,0 6.8,0a3.4,3.4 0 1,0 -6.8,0M137.0,162.1a3.4,3.4 0 1,0 6.8,0a3.4,3.4 0 1,0 -6.8,0M137.1,165.6a3.4,3.4 0 1,0 6.8,0a3.4,3.4 0 1,0 -6.8,0M161.6,132.7a3.4,3.4 0 1,0 6.8,0a3.4,3.4 0 1,0 -6.8,0M161.4,136.0a3.4,3.4 0 1,0 6.8,0a3.4,3.4 0 1,0 -6.8,0M161.4,139.4a3.4,3.4 0 1,0 6.8,0a3.4,3.4 0 1,0 -6.8,0M161.2,142.7a3.4,3.4 0 1,0 6.8,0a3.4,3.4 0 1,0 -6.8,0M161.6,146.0a3.4,3.4 0 1,0 6.8,0a3.4,3.4 0 1,0 -6.8,0M161.7,149.3a3.4,3.4 0 1,0 6.8,0a3.4,3.4 0 1,0 -6.8,0M161.4,152.7a3.4,3.4 0 1,0 6.8,0a3.4,3.4 0 1,0 -6.8,0M161.4,156.0a3.4,3.4 0 1,0 6.8,0a3.4,3.4 0 1,0 -6.8,0M161.2,159.3a3.4,3.4 0 1,0 6.8,0a3.4,3.4 0 1,0 -6.8,0M161.5,162.6a3.4,3.4 0 1,0 6.8,0a3.4,3.4 0 1,0 -6.8,0M161.8,166.0a3.4,3.4 0 1,0 6.8,0a3.4,3.4 0 1,0 -6.8,0M203.7,155.2a3.4,3.4 0 1,0 6.8,0a3.4,3.4 0 1,0 -6.8,0M203.8,158.0a3.4,3.4 0 1,0 6.8,0a3.4,3.4 0 1,0 -6.8,0M203.7,160.9a3.4,3.4 0 1,0 6.8,0a3.4,3.4 0 1,0 -6.8,0M203.5,163.7a3.4,3.4 0 1,0 6.8,0a3.4,3.4 0 1,0 -6.8,0M203.8,166.6a3.4,3.4 0 1,0 6.8,0a3.4,3.4 0 1,0 -6.8,0M217.7,126.1a3.4,3.4 0 1,0 6.8,0a3.4,3.4 0 1,0 -6.8,0M217.9,129.2a3.4,3.4 0 1,0 6.8,0a3.4,3.4 0 1,0 -6.8,0M217.9,132.4a3.4,3.4 0 1,0 6.8,0a3.4,3.4 0 1,0 -6.8,0M218.0,135.5a3.4,3.4 0 1,0 6.8,0a3.4,3.4 0 1,0 -6.8,0M218.0,138.6a3.4,3.4 0 1,0 6.8,0a3.4,3.4 0 1,0 -6.8,0M218.0,141.7a3.4,3.4 0 1,0 6.8,0a3.4,3.4 0 1,0 -6.8,0M217.8,144.9a3.4,3.4 0 1,0 6.8,0a3.4,3.4 0 1,0 -6.8,0M217.7,148.0a3.4,3.4 0 1,0 6.8,0a3.4,3.4 0 1,0 -6.8,0M217.9,151.1a3.4,3.4 0 1,0 6.8,0a3.4,3.4 0 1,0 -6.8,0M217.8,154.3a3.4,3.4 0 1,0 6.8,0a3.4,3.4 0 1,0 -6.8,0M217.7,157.4a3.4,3.4 0 1,0 6.8,0a3.4,3.4 0 1,0 -6.8,0M217.7,160.5a3.4,3.4 0 1,0 6.8,0a3.4,3.4 0 1,0 -6.8,0M217.8,163.7a3.4,3.4 0 1,0 6.8,0a3.4,3.4 0 1,0 -6.8,0M217.6,166.8a3.4,3.4 0 1,0 6.8,0a3.4,3.4 0 1,0 -6.8,0M240.4,112.9a3.4,3.4 0 1,0 6.8,0a3.4,3.4 0 1,0 -6.8,0M240.4,116.1a3.4,3.4 0 1,0 6.8,0a3.4,3.4 0 1,0 -6.8,0M240.6,119.3a3.4,3.4 0 1,0 6.8,0a3.4,3.4 0 1,0 -6.8,0M240.7,122.5a3.4,3.4 0 1,0 6.8,0a3.4,3.4 0 1,0 -6.8,0M240.9,125.7a3.4,3.4 0 1,0 6.8,0a3.4,3.4 0 1,0 -6.8,0M240.4,128.8a3.4,3.4 0 1,0 6.8,0a3.4,3.4 0 1,0 -6.8,0M240.5,132.0a3.4,3.4 0 1,0 6.8,0a3.4,3.4 0 1,0 -6.8,0M240.7,135.2a3.4,3.4 0 1,0 6.8,0a3.4,3.4 0 1,0 -6.8,0M240.6,138.4a3.4,3.4 0 1,0 6.8,0a3.4,3.4 0 1,0 -6.8,0M240.6,141.6a3.4,3.4 0 1,0 6.8,0a3.4,3.4 0 1,0 -6.8,0M240.9,144.8a3.4,3.4 0 1,0 6.8,0a3.4,3.4 0 1,0 -6.8,0M240.5,148.0a3.4,3.4 0 1,0 6.8,0a3.4,3.4 0 1,0 -6.8,0M240.4,151.2a3.4,3.4 0 1,0 6.8,0a3.4,3.4 0 1,0 -6.8,0M240.4,154.3a3.4,3.4 0 1,0 6.8,0a3.4,3.4 0 1,0 -6.8,0M240.7,157.5a3.4,3.4 0 1,0 6.8,0a3.4,3.4 0 1,0 -6.8,0M240.6,160.7a3.4,3.4 0 1,0 6.8,0a3.4,3.4 0 1,0 -6.8,0M240.4,163.9a3.4,3.4 0 1,0 6.8,0a3.4,3.4 0 1,0 -6.8,0M240.5,167.1a3.4,3.4 0 1,0 6.8,0a3.4,3.4 0 1,0 -6.8,0M274.7,165.7a3.4,3.4 0 1,0 6.8,0a3.4,3.4 0 1,0 -6.8,0M274.7,167.5a3.4,3.4 0 1,0 6.8,0a3.4,3.4 0 1,0 -6.8,0M286.9,158.4a3.4,3.4 0 1,0 6.8,0a3.4,3.4 0 1,0 -6.8,0M287.1,161.5a3.4,3.4 0 1,0 6.8,0a3.4,3.4 0 1,0 -6.8,0M287.1,164.6a3.4,3.4 0 1,0 6.8,0a3.4,3.4 0 1,0 -6.8,0M286.7,167.7a3.4,3.4 0 1,0 6.8,0a3.4,3.4 0 1,0 -6.8,0M291.3,164.4a3.4,3.4 0 1,0 6.8,0a3.4,3.4 0 1,0 -6.8,0M291.4,167.7a3.4,3.4 0 1,0 6.8,0a3.4,3.4 0 1,0 -6.8,0M306.5,166.4a3.4,3.4 0 1,0 6.8,0a3.4,3.4 0 1,0 -6.8,0M306.3,167.9a3.4,3.4 0 1,0 6.8,0a3.4,3.4 0 1,0 -6.8,0" fill="none" stroke="#333" stroke-width="0.9" opacity="1"/>
<path d="M52.5,160.6 L51.7,160.5 L52.5,160.3 L53.2,159.4 L53.9,160.6 L54.7,159.8 L55.4,161.0 L56.1,159.4 L56.9,160.2 L57.6,160.3 L58.3,159.4 L59.0,161.6 L59.8,161.4 L60.5,160.1 L61.2,161.0 L62.0,160.8 L62.7,158.7 L63.4,160.7 L64.2,160.5 L64.9,160.6 L65.6,159.9 L66.4,160.4 L67.1,160.5 L67.8,161.5 L68.6,160.9 L69.3,160.7 L70.0,161.8 L70.8,160.4 L71.5,160.5 L72.2,159.5 L72.9,161.9 L73.7,161.5 L74.4,161.5 L75.1,161.3 L75.9,161.0 L76.6,161.0 L77.3,160.7 L78.1,160.8 L78.8,161.0 L79.5,162.0 L80.3,161.4 L81.0,161.0 L81.7,160.6 L82.5,160.6 L83.2,162.2 L83.9,161.4 L84.7,161.1 L85.4,160.9 L86.1,160.3 L86.8,161.1 L87.6,161.8 L88.3,160.9 L89.0,161.0 L89.8,161.0 L90.5,161.3 L91.2,160.1 L92.0,161.1 L92.7,160.7 L93.4,161.9 L94.2,160.8 L94.9,161.7 L95.6,162.4 L96.4,161.1 L97.1,160.9 L97.8,161.5 L98.6,161.4 L99.3,160.7 L100.0,161.7 L100.8,162.8 L101.5,161.3 L102.2,161.3 L102.9,160.7 L103.7,161.7 L104.4,160.6 L105.1,160.7 L105.9,162.4 L106.6,160.9 L107.3,162.3 L108.1,162.6 L108.8,161.8 L109.5,162.0 L110.3,163.0 L111.0,161.5 L111.7,161.2 L112.5,160.7 L113.2,161.7 L113.9,162.7 L114.7,162.4 L115.4,161.1 L116.1,161.1 L116.8,161.4 L117.6,162.0 L118.3,161.6 L119.0,161.9 L119.8,162.0 L120.5,161.6 L121.2,161.8 L122.0,162.0 L122.7,161.8 L123.4,162.2 L124.2,163.2 L124.9,162.3 L125.6,161.9 L126.4,160.7 L127.1,162.2 L127.8,160.6 L128.6,161.0 L129.3,162.6 L130.0,162.5 L130.7,161.9 L131.5,160.8 L132.2,161.8 L132.9,161.6 L133.7,162.5 L134.4,163.6 L135.1,162.2 L135.9,161.5 L136.6,161.3 L137.3,162.1 L138.1,162.0 L138.8,161.3 L139.5,162.2 L140.3,161.3 L141.0,162.9 L141.7,162.9 L142.5,162.9 L143.2,161.9 L143.9,162.6 L144.6,162.1 L145.4,162.0 L146.1,162.0 L146.8,161.4 L147.6,161.3 L148.3,162.8 L149.0,162.2 L149.8,162.5 L150.5,163.0 L151.2,161.1 L152.0,161.8 L152.7,162.5 L153.4,162.6 L154.2,162.1 L154.9,163.1 L155.6,162.6 L156.4,161.6 L157.1,161.8 L157.8,163.0 L158.5,162.8 L159.3,161.1 L160.0,163.4 L160.7,162.9 L161.5,163.4 L162.2,162.2 L162.9,162.3 L163.7,161.7 L164.4,164.3 L165.1,162.4 L165.9,163.7 L166.6,162.1 L167.3,162.7 L168.1,161.4 L168.8,162.3 L169.5,163.3 L170.3,161.8 L171.0,163.4 L171.7,162.9 L172.5,161.9 L173.2,162.3 L173.9,162.4 L174.6,162.7 L175.4,162.3 L176.1,162.1 L176.8,162.5 L177.6,162.0 L178.3,161.9 L179.0,162.7 L179.8,163.4 L180.5,161.7 L181.2,162.8 L182.0,162.4 L182.7,162.1 L183.4,163.4 L184.2,162.5 L184.9,163.9 L185.6,162.3 L186.4,163.2 L187.1,162.7 L187.8,162.4 L188.5,163.3 L189.3,162.8 L190.0,163.4 L190.7,162.9 L191.5,162.2 L192.2,162.9 L192.9,163.0 L193.7,163.7 L194.4,162.4 L195.1,163.0 L195.9,161.8 L196.6,163.5 L197.3,162.3 L198.1,161.8 L198.8,163.0 L199.5,163.8 L200.3,162.0 L201.0,162.3 L201.7,162.6 L202.4,162.3 L203.2,163.4 L203.9,162.6 L204.6,162.6 L205.4,163.6 L206.1,162.6 L206.8,163.5 L207.6,162.5 L208.3,162.4 L209.0,161.9 L209.8,164.5 L210.5,163.0 L211.2,163.4 L212.0,163.2 L212.7,163.4 L213.4,163.3 L214.2,164.6 L214.9,162.6 L215.6,162.2 L216.3,162.6 L217.1,162.4 L217.8,163.9 L218.5,163.9 L219.3,162.7 L220.0,162.4 L220.7,163.1 L221.5,164.4 L222.2,161.4 L222.9,163.8 L223.7,162.7 L224.4,164.2 L225.1,162.7 L225.9,163.2 L226.6,162.4 L227.3,162.8 L228.1,164.4 L228.8,164.1 L229.5,163.2 L230.2,162.9 L231.0,162.2 L231.7,163.3 L232.4,163.5 L233.2,163.5 L233.9,163.5 L234.6,162.8 L235.4,163.5 L236.1,163.6 L236.8,164.5 L237.6,164.9 L238.3,163.5 L239.0,163.1 L239.8,163.6 L240.5,163.2 L241.2,163.1 L242.0,163.6 L242.7,162.9 L243.4,164.1 L244.2,163.6 L244.9,163.9 L245.6,163.6 L246.3,163.2 L247.1,163.1 L247.8,163.6 L248.5,163.4 L249.3,163.9 L250.0,163.8 L250.7,162.8 L251.5,163.8 L252.2,162.9 L252.9,163.4 L253.7,163.6 L254.4,162.4 L255.1,163.9 L255.9,164.0 L256.6,163.7 L257.3,163.6 L258.1,163.6 L258.8,163.2 L259.5,163.7 L260.2,163.5 L261.0,164.0 L261.7,163.1 L262.4,164.1 L263.2,164.0 L263.9,163.9 L264.6,163.7 L265.4,164.4 L266.1,162.8 L266.8,164.3 L267.6,164.2 L268.3,164.2 L269.0,164.3 L269.8,163.6 L270.5,163.9 L271.2,164.5 L272.0,164.4 L272.7,164.2 L273.4,163.0 L274.1,164.5 L274.9,164.9 L275.6,164.8 L276.3,164.3 L277.1,163.0 L277.8,164.8 L278.5,164.0 L279.3,162.4 L280.0,164.4 L280.7,163.1 L281.5,163.3 L282.2,163.7 L282.9,165.1 L283.7,163.9 L284.4,164.4 L285.1,165.5 L285.9,165.4 L286.6,164.2 L287.3,164.1 L288.0,163.4 L288.8,163.8 L289.5,164.6 L290.2,164.6 L291.0,164.4 L291.7,165.0 L292.4,163.8 L293.2,164.3 L293.9,164.8 L294.6,164.8 L295.4,165.1 L296.1,164.6 L296.8,164.2 L297.6,164.6 L298.3,163.7 L299.0,163.3 L299.8,164.8 L300.5,164.4 L301.2,164.6 L301.9,163.2 L302.7,164.2 L303.4,164.0 L304.1,163.9 L304.9,162.9 L305.6,164.2 L306.3,165.1 L307.1,164.8 L307.8,164.1 L308.5,164.5 L309.3,165.1 L310.0,162.6 L310.7,164.5 L311.5,164.9 L312.2,165.0 L312.9,165.8 L313.7,165.4 L314.4,164.8 L315.1,164.8 L315.1,175.3 L314.4,174.8 L313.7,174.4 L312.9,173.0 L312.2,173.5 L311.5,173.5 L310.7,174.7 L310.0,173.5 L309.3,174.1 L308.5,175.2 L307.8,173.4 L307.1,174.9 L306.3,172.3 L305.6,175.2 L304.9,174.2 L304.1,174.9 L303.4,174.7 L302.7,174.2 L301.9,174.9 L301.2,174.9 L300.5,174.8 L299.8,173.3 L299.0,172.4 L298.3,175.7 L297.6,175.9 L296.8,173.9 L296.1,174.9 L295.4,173.4 L294.6,176.2 L293.9,174.7 L293.2,175.2 L292.4,174.9 L291.7,174.3 L291.0,175.1 L290.2,173.7 L289.5,173.6 L288.8,174.1 L288.0,174.1 L287.3,173.6 L286.6,173.6 L285.9,174.0 L285.1,174.3 L284.4,173.4 L283.7,174.7 L282.9,174.4 L282.2,173.6 L281.5,175.1 L280.7,174.8 L280.0,173.6 L279.3,172.8 L278.5,173.9 L277.8,175.1 L277.1,172.9 L276.3,173.3 L275.6,175.0 L274.9,172.6 L274.1,175.0 L273.4,173.7 L272.7,173.2 L272.0,173.4 L271.2,174.8 L270.5,173.9 L269.8,174.0 L269.0,174.5 L268.3,174.6 L267.6,171.9 L266.8,173.3 L266.1,174.2 L265.4,173.8 L264.6,174.4 L263.9,174.0 L263.2,173.1 L262.4,173.9 L261.7,175.0 L261.0,173.7 L260.2,174.7 L259.5,172.5 L258.8,175.1 L258.1,173.8 L257.3,173.8 L256.6,174.3 L255.9,173.5 L255.1,175.5 L254.4,175.7 L253.7,174.6 L252.9,172.7 L252.2,173.8 L251.5,172.6 L250.7,174.2 L250.0,173.4 L249.3,172.7 L248.5,174.3 L247.8,173.5 L247.1,172.5 L246.3,173.4 L245.6,173.6 L244.9,173.3 L244.2,173.8 L243.4,173.1 L242.7,174.1 L242.0,173.9 L241.2,173.4 L240.5,172.6 L239.8,175.0 L239.0,173.6 L238.3,173.6 L237.6,174.1 L236.8,175.3 L236.1,174.2 L235.4,172.4 L234.6,174.1 L233.9,173.6 L233.2,174.5 L232.4,173.4 L231.7,173.3 L231.0,173.1 L230.2,171.7 L229.5,172.9 L228.8,174.4 L228.1,173.6 L227.3,173.2 L226.6,172.8 L225.9,173.9 L225.1,175.5 L224.4,173.1 L223.7,172.7 L222.9,174.0 L222.2,172.8 L221.5,174.2 L220.7,173.4 L220.0,174.5 L219.3,172.4 L218.5,172.1 L217.8,172.6 L217.1,173.7 L216.3,172.3 L215.6,173.0 L214.9,173.6 L214.2,173.8 L213.4,172.7 L212.7,171.5 L212.0,172.9 L211.2,173.2 L210.5,172.7 L209.8,171.7 L209.0,171.1 L208.3,172.6 L207.6,172.1 L206.8,172.1 L206.1,172.9 L205.4,172.5 L204.6,171.9 L203.9,173.6 L203.2,172.2 L202.4,172.5 L201.7,172.0 L201.0,175.2 L200.3,173.8 L199.5,172.8 L198.8,172.2 L198.1,173.3 L197.3,172.3 L196.6,172.9 L195.9,172.2 L195.1,172.7 L194.4,172.5 L193.7,171.3 L192.9,171.7 L192.2,172.9 L191.5,174.2 L190.7,171.5 L190.0,172.9 L189.3,172.5 L188.5,172.6 L187.8,171.4 L187.1,173.1 L186.4,173.0 L185.6,173.1 L184.9,173.8 L184.2,172.7 L183.4,173.2 L182.7,172.7 L182.0,172.9 L181.2,172.5 L180.5,173.2 L179.8,170.8 L179.0,172.0 L178.3,173.0 L177.6,171.5 L176.8,171.7 L176.1,171.8 L175.4,171.1 L174.6,172.3 L173.9,173.9 L173.2,172.8 L172.5,172.8 L171.7,171.9 L171.0,171.1 L170.3,172.1 L169.5,170.6 L168.8,171.6 L168.1,172.9 L167.3,171.8 L166.6,172.1 L165.9,173.0 L165.1,170.9 L164.4,173.6 L163.7,172.9 L162.9,172.9 L162.2,171.8 L161.5,171.7 L160.7,170.5 L160.0,173.6 L159.3,171.8 L158.5,172.3 L157.8,171.6 L157.1,173.6 L156.4,172.3 L155.6,172.4 L154.9,173.0 L154.2,172.0 L153.4,171.2 L152.7,172.8 L152.0,172.6 L151.2,171.9 L150.5,172.1 L149.8,174.2 L149.0,171.8 L148.3,171.1 L147.6,172.0 L146.8,171.7 L146.1,172.1 L145.4,171.8 L144.6,172.0 L143.9,172.0 L143.2,173.3 L142.5,171.4 L141.7,172.6 L141.0,173.2 L140.3,173.7 L139.5,173.6 L138.8,171.9 L138.1,170.4 L137.3,171.4 L136.6,171.4 L135.9,171.8 L135.1,171.6 L134.4,171.8 L133.7,172.1 L132.9,170.5 L132.2,172.1 L131.5,170.0 L130.7,171.9 L130.0,171.3 L129.3,170.7 L128.6,170.9 L127.8,170.1 L127.1,171.7 L126.4,173.5 L125.6,172.7 L124.9,171.9 L124.2,172.8 L123.4,169.6 L122.7,171.3 L122.0,171.1 L121.2,171.3 L120.5,170.9 L119.8,171.9 L119.0,170.1 L118.3,171.3 L117.6,172.2 L116.8,171.9 L116.1,171.4 L115.4,172.1 L114.7,169.7 L113.9,172.1 L113.2,172.0 L112.5,173.0 L111.7,173.2 L111.0,171.0 L110.3,172.0 L109.5,171.8 L108.8,172.5 L108.1,171.0 L107.3,171.1 L106.6,173.2 L105.9,172.0 L105.1,171.2 L104.4,172.2 L103.7,173.6 L102.9,170.9 L102.2,170.3 L101.5,169.8 L100.8,171.9 L100.0,171.0 L99.3,170.9 L98.6,170.5 L97.8,171.1 L97.1,172.2 L96.4,170.2 L95.6,170.8 L94.9,170.3 L94.2,171.5 L93.4,170.8 L92.7,171.6 L92.0,171.2 L91.2,170.9 L90.5,170.3 L89.8,171.6 L89.0,169.7 L88.3,169.5 L87.6,170.2 L86.8,171.3 L86.1,171.0 L85.4,170.0 L84.7,170.8 L83.9,172.3 L83.2,171.1 L82.5,170.9 L81.7,172.6 L81.0,172.8 L80.3,171.9 L79.5,170.4 L78.8,170.2 L78.1,171.6 L77.3,170.4 L76.6,170.8 L75.9,169.8 L75.1,170.9 L74.4,171.3 L73.7,170.0 L72.9,170.8 L72.2,169.8 L71.5,169.7 L70.8,171.5 L70.0,170.3 L69.3,171.4 L68.6,170.1 L67.8,170.9 L67.1,170.9 L66.4,171.4 L65.6,169.0 L64.9,169.8 L64.2,170.7 L63.4,169.5 L62.7,169.0 L62.0,171.2 L61.2,171.0 L60.5,170.1 L59.8,170.1 L59.0,169.3 L58.3,171.5 L57.6,170.1 L56.9,171.3 L56.1,170.3 L55.4,170.0 L54.7,169.9 L53.9,171.8 L53.2,170.8 L52.5,169.9 L51.7,169.4 L52.5,170.5Z" fill="#111"/>
<path d="M51.0,164.6 L63.3,165.1 L63.9,159.7 L64.0,146.8 L64.1,159.7 L64.7,165.2 L111.3,166.2 L111.9,153.2 L112.0,122.7 L112.1,153.2 L112.7,166.3 L133.1,166.6 L133.7,124.0 L133.8,24.5 L133.9,124.0 L134.5,166.7 L139.8,166.7 L140.4,163.6 L140.5,156.4 L140.6,163.6 L141.2,166.8 L164.1,167.1 L164.7,158.8 L164.8,139.2 L164.9,158.8 L165.5,167.2 L206.3,167.8 L206.9,164.6 L207.0,157.3 L207.1,164.6 L207.7,167.8 L220.6,168.0 L221.2,156.4 L221.3,129.3 L221.4,156.4 L222.0,168.0 L243.3,168.3 L243.9,152.2 L244.0,114.8 L244.1,152.2 L244.7,168.3 L277.3,168.7 L277.9,167.3 L278.0,164.0 L278.1,167.3 L278.7,168.7 L289.7,168.9 L290.3,165.4 L290.4,157.3 L290.5,165.4 L291.1,168.9 L294.0,168.9 L294.6,167.2 L294.7,163.0 L294.8,167.2 L295.4,169.0 L309.3,169.1 L309.9,167.9 L310.0,165.0 L310.1,167.9 L310.7,169.1 L315.2,169.2" fill="none" stroke="#0a14f5" stroke-width="2.2" stroke-linejoin="miter" stroke-miterlimit="1.5"/>
<rect x="51" y="4.6" width="264.2" height="243.9" fill="none" stroke="#000" stroke-width="2.9"/>
<line x1="71.3" y1="248.5" x2="71.3" y2="253.7" stroke="#000" stroke-width="2.6"/>
<line x1="152.6" y1="248.5" x2="152.6" y2="253.7" stroke="#000" stroke-width="2.6"/>
<line x1="233.9" y1="248.5" x2="233.9" y2="253.7" stroke="#000" stroke-width="2.6"/>
<line x1="315.2" y1="248.5" x2="315.2" y2="253.7" stroke="#000" stroke-width="2.6"/>
<line x1="112.0" y1="248.5" x2="112.0" y2="251.5" stroke="#000" stroke-width="2.2"/>
<line x1="193.3" y1="248.5" x2="193.3" y2="251.5" stroke="#000" stroke-width="2.2"/>
<line x1="274.6" y1="248.5" x2="274.6" y2="251.5" stroke="#000" stroke-width="2.2"/>
<text x="71.3" y="271.2" class="tk" text-anchor="middle">20</text>
<text x="152.6" y="271.2" class="tk" text-anchor="middle">40</text>
<text x="233.9" y="271.2" class="tk" text-anchor="middle">60</text>
<text x="315.2" y="271.2" class="tk" text-anchor="middle">80</text>
<line x1="412.7" y1="214.8" x2="412.7" y2="220.9" stroke="#ff1a1a" stroke-width="1.4"/>
<line x1="460.6" y1="214.8" x2="460.6" y2="220.9" stroke="#ff1a1a" stroke-width="1.4"/>
<line x1="482.4" y1="214.8" x2="482.4" y2="220.9" stroke="#ff9a9a" stroke-width="1.4"/>
<line x1="489.7" y1="214.8" x2="489.7" y2="220.9" stroke="#ff1a1a" stroke-width="1.4"/>
<line x1="513.9" y1="214.8" x2="513.9" y2="220.9" stroke="#ff1a1a" stroke-width="1.4"/>
<line x1="530.9" y1="214.8" x2="530.9" y2="220.9" stroke="#ff1a1a" stroke-width="1.4"/>
<line x1="556.0" y1="214.8" x2="556.0" y2="220.9" stroke="#ff1a1a" stroke-width="1.4"/>
<line x1="570.0" y1="214.8" x2="570.0" y2="220.9" stroke="#ff1a1a" stroke-width="1.4"/>
<line x1="593.4" y1="214.8" x2="593.4" y2="220.9" stroke="#ff1a1a" stroke-width="1.4"/>
<line x1="605.8" y1="214.8" x2="605.8" y2="220.9" stroke="#ff1a1a" stroke-width="1.4"/>
<line x1="610.7" y1="214.8" x2="610.7" y2="220.9" stroke="#ff1a1a" stroke-width="1.4"/>
<line x1="627.2" y1="214.8" x2="627.2" y2="220.9" stroke="#ff1a1a" stroke-width="1.4"/>
<line x1="639.9" y1="214.8" x2="639.9" y2="220.9" stroke="#ff1a1a" stroke-width="1.4"/>
<line x1="644.2" y1="214.8" x2="644.2" y2="220.9" stroke="#ff1a1a" stroke-width="1.4"/>
<line x1="659.8" y1="214.8" x2="659.8" y2="220.9" stroke="#ff1a1a" stroke-width="1.4"/>
<line x1="414.6" y1="224.9" x2="414.6" y2="231.4" stroke="#ff9a9a" stroke-width="1.4"/>
<line x1="417.1" y1="224.9" x2="417.1" y2="231.4" stroke="#ff9a9a" stroke-width="1.4"/>
<line x1="424.4" y1="224.9" x2="424.4" y2="231.4" stroke="#ff9a9a" stroke-width="1.4"/>
<line x1="448.2" y1="224.9" x2="448.2" y2="231.4" stroke="#ff1a1a" stroke-width="1.4"/>
<line x1="467.2" y1="224.9" x2="467.2" y2="231.4" stroke="#ff1a1a" stroke-width="1.4"/>
<line x1="473.1" y1="224.9" x2="473.1" y2="231.4" stroke="#ff1a1a" stroke-width="1.4"/>
<line x1="479.6" y1="224.9" x2="479.6" y2="231.4" stroke="#ff1a1a" stroke-width="1.4"/>
<line x1="490.3" y1="224.9" x2="490.3" y2="231.4" stroke="#ff1a1a" stroke-width="1.4"/>
<line x1="492.5" y1="224.9" x2="492.5" y2="231.4" stroke="#ff1a1a" stroke-width="1.4"/>
<line x1="495.4" y1="224.9" x2="495.4" y2="231.4" stroke="#ff1a1a" stroke-width="1.4"/>
<line x1="497.9" y1="224.9" x2="497.9" y2="231.4" stroke="#ff1a1a" stroke-width="1.4"/>
<line x1="509.7" y1="224.9" x2="509.7" y2="231.4" stroke="#ff1a1a" stroke-width="1.4"/>
<line x1="512.6" y1="224.9" x2="512.6" y2="231.4" stroke="#ff1a1a" stroke-width="1.4"/>
<line x1="515.4" y1="224.9" x2="515.4" y2="231.4" stroke="#ff1a1a" stroke-width="1.4"/>
<line x1="517.7" y1="224.9" x2="517.7" y2="231.4" stroke="#ff1a1a" stroke-width="1.4"/>
<line x1="520.2" y1="224.9" x2="520.2" y2="231.4" stroke="#ff1a1a" stroke-width="1.4"/>
<line x1="532.0" y1="224.9" x2="532.0" y2="231.4" stroke="#ff1a1a" stroke-width="1.4"/>
<line x1="535.9" y1="224.9" x2="535.9" y2="231.4" stroke="#ff1a1a" stroke-width="1.4"/>
<line x1="543.7" y1="224.9" x2="543.7" y2="231.4" stroke="#ff1a1a" stroke-width="1.4"/>
<line x1="546.6" y1="224.9" x2="546.6" y2="231.4" stroke="#ff1a1a" stroke-width="1.4"/>
<line x1="549.6" y1="224.9" x2="549.6" y2="231.4" stroke="#ff1a1a" stroke-width="1.4"/>
<line x1="551.5" y1="224.9" x2="551.5" y2="231.4" stroke="#ff1a1a" stroke-width="1.4"/>
<line x1="553.5" y1="224.9" x2="553.5" y2="231.4" stroke="#ff1a1a" stroke-width="1.4"/>
<line x1="556.0" y1="224.9" x2="556.0" y2="231.4" stroke="#ff1a1a" stroke-width="1.4"/>
<line x1="560.3" y1="224.9" x2="560.3" y2="231.4" stroke="#ff1a1a" stroke-width="1.4"/>
<line x1="563.2" y1="224.9" x2="563.2" y2="231.4" stroke="#ff1a1a" stroke-width="1.4"/>
<line x1="565.2" y1="224.9" x2="565.2" y2="231.4" stroke="#ff1a1a" stroke-width="1.4"/>
<line x1="576.9" y1="224.9" x2="576.9" y2="231.4" stroke="#ff1a1a" stroke-width="1.4"/>
<line x1="579.4" y1="224.9" x2="579.4" y2="231.4" stroke="#ff1a1a" stroke-width="1.4"/>
<line x1="580.8" y1="224.9" x2="580.8" y2="231.4" stroke="#ff1a1a" stroke-width="1.4"/>
<line x1="583.7" y1="224.9" x2="583.7" y2="231.4" stroke="#ff1a1a" stroke-width="1.4"/>
<line x1="586.6" y1="224.9" x2="586.6" y2="231.4" stroke="#ff1a1a" stroke-width="1.4"/>
<line x1="591.5" y1="224.9" x2="591.5" y2="231.4" stroke="#ff1a1a" stroke-width="1.4"/>
<line x1="593.0" y1="224.9" x2="593.0" y2="231.4" stroke="#ff1a1a" stroke-width="1.4"/>
<line x1="596.4" y1="224.9" x2="596.4" y2="231.4" stroke="#ff1a1a" stroke-width="1.4"/>
<line x1="599.0" y1="224.9" x2="599.0" y2="231.4" stroke="#ff1a1a" stroke-width="1.4"/>
<line x1="606.2" y1="224.9" x2="606.2" y2="231.4" stroke="#ff1a1a" stroke-width="1.4"/>
<line x1="608.1" y1="224.9" x2="608.1" y2="231.4" stroke="#ff1a1a" stroke-width="1.4"/>
<line x1="610.1" y1="224.9" x2="610.1" y2="231.4" stroke="#ff1a1a" stroke-width="1.4"/>
<line x1="612.6" y1="224.9" x2="612.6" y2="231.4" stroke="#ff1a1a" stroke-width="1.4"/>
<line x1="615.0" y1="224.9" x2="615.0" y2="231.4" stroke="#ff1a1a" stroke-width="1.4"/>
<line x1="619.8" y1="224.9" x2="619.8" y2="231.4" stroke="#ff1a1a" stroke-width="1.4"/>
<line x1="622.4" y1="224.9" x2="622.4" y2="231.4" stroke="#ff1a1a" stroke-width="1.4"/>
<line x1="624.7" y1="224.9" x2="624.7" y2="231.4" stroke="#ff1a1a" stroke-width="1.4"/>
<line x1="627.6" y1="224.9" x2="627.6" y2="231.4" stroke="#ff1a1a" stroke-width="1.4"/>
<line x1="630.6" y1="224.9" x2="630.6" y2="231.4" stroke="#ff1a1a" stroke-width="1.4"/>
<line x1="635.4" y1="224.9" x2="635.4" y2="231.4" stroke="#ff1a1a" stroke-width="1.4"/>
<line x1="636.4" y1="224.9" x2="636.4" y2="231.4" stroke="#ff1a1a" stroke-width="1.4"/>
<line x1="638.4" y1="224.9" x2="638.4" y2="231.4" stroke="#ff1a1a" stroke-width="1.4"/>
<line x1="641.3" y1="224.9" x2="641.3" y2="231.4" stroke="#ff1a1a" stroke-width="1.4"/>
<line x1="644.2" y1="224.9" x2="644.2" y2="231.4" stroke="#ff1a1a" stroke-width="1.4"/>
<line x1="646.2" y1="224.9" x2="646.2" y2="231.4" stroke="#ff1a1a" stroke-width="1.4"/>
<line x1="648.5" y1="224.9" x2="648.5" y2="231.4" stroke="#ff1a1a" stroke-width="1.4"/>
<line x1="651.6" y1="224.9" x2="651.6" y2="231.4" stroke="#ff1a1a" stroke-width="1.4"/>
<line x1="657.9" y1="224.9" x2="657.9" y2="231.4" stroke="#ff1a1a" stroke-width="1.4"/>
<line x1="659.8" y1="224.9" x2="659.8" y2="231.4" stroke="#ff1a1a" stroke-width="1.4"/>
<line x1="661.8" y1="224.9" x2="661.8" y2="231.4" stroke="#ff1a1a" stroke-width="1.4"/>
<line x1="663.7" y1="224.9" x2="663.7" y2="231.4" stroke="#ff1a1a" stroke-width="1.4"/>
<path d="M400.0,240.0 L401.0,240.7 L402.0,241.1 L403.1,238.9 L404.1,241.8 L405.1,239.5 L406.1,240.8 L407.1,240.9 L408.1,240.8 L409.2,240.3 L410.2,239.5 L411.2,240.6 L412.2,239.8 L413.2,238.7 L414.2,241.9 L415.3,240.6 L416.3,241.3 L417.3,239.7 L418.3,241.1 L419.3,241.2 L420.3,241.1 L421.4,240.2 L422.4,239.5 L423.4,240.1 L424.4,238.9 L425.4,239.2 L426.4,240.3 L427.5,239.6 L428.5,240.1 L429.5,240.1 L430.5,241.4 L431.5,241.0 L432.5,240.2 L433.6,240.9 L434.6,239.7 L435.6,240.0 L436.6,240.7 L437.6,239.5 L438.6,240.0 L439.7,239.4 L440.7,240.3 L441.7,241.2 L442.7,239.7 L443.7,240.3 L444.7,239.7 L445.8,239.5 L446.8,239.5 L447.8,241.1 L448.8,241.6 L449.8,240.5 L450.8,239.8 L451.9,240.6 L452.9,240.0 L453.9,240.7 L454.9,240.4 L455.9,240.4 L456.9,240.6 L458.0,239.9 L459.0,240.0 L460.0,239.2 L461.0,239.9 L462.0,239.3 L463.0,240.1 L464.1,239.6 L465.1,240.3 L466.1,240.5 L467.1,239.3 L468.1,239.7 L469.2,239.6 L470.2,240.6 L471.2,241.2 L472.2,240.7 L473.2,240.0 L474.2,241.1 L475.3,239.3 L476.3,241.1 L477.3,239.8 L478.3,238.5 L479.3,241.8 L480.3,241.1 L481.4,239.6 L482.4,240.3 L483.4,240.1 L484.4,240.3 L485.4,239.3 L486.4,239.8 L487.5,240.5 L488.5,240.3 L489.5,240.9 L490.5,240.2 L491.5,241.6 L492.5,239.8 L493.6,240.4 L494.6,239.1 L495.6,239.4 L496.6,241.0 L497.6,239.6 L498.6,240.5 L499.7,240.2 L500.7,239.6 L501.7,240.0 L502.7,239.9 L503.7,239.9 L504.7,240.7 L505.8,240.6 L506.8,239.9 L507.8,239.7 L508.8,240.4 L509.8,240.1 L510.8,240.8 L511.9,241.8 L512.9,240.7 L513.9,240.2 L514.9,240.1 L515.9,239.7 L516.9,239.7 L518.0,239.6 L519.0,240.0 L520.0,239.9 L521.0,240.6 L522.0,240.0 L523.0,240.1 L524.1,239.5 L525.1,241.2 L526.1,240.5 L527.1,241.3 L528.1,240.7 L529.1,241.1 L530.2,240.1 L531.2,240.6 L532.2,241.8 L533.2,239.5 L534.2,240.9 L535.3,241.2 L536.3,240.5 L537.3,240.7 L538.3,241.0 L539.3,239.8 L540.3,240.5 L541.4,239.7 L542.4,239.8 L543.4,239.8 L544.4,240.1 L545.4,240.3 L546.4,240.5 L547.5,239.3 L548.5,241.4 L549.5,240.9 L550.5,240.6 L551.5,240.0 L552.5,240.1 L553.6,240.5 L554.6,240.5 L555.6,239.2 L556.6,240.7 L557.6,242.0 L558.6,239.1 L559.7,240.8 L560.7,240.4 L561.7,240.1 L562.7,241.0 L563.7,239.5 L564.7,240.3 L565.8,241.1 L566.8,240.1 L567.8,239.9 L568.8,240.3 L569.8,239.9 L570.8,241.2 L571.9,239.6 L572.9,240.7 L573.9,239.4 L574.9,240.6 L575.9,240.1 L576.9,238.6 L578.0,240.2 L579.0,239.5 L580.0,239.9 L581.0,241.1 L582.0,239.5 L583.0,239.5 L584.1,241.1 L585.1,240.3 L586.1,241.2 L587.1,240.4 L588.1,239.7 L589.1,240.2 L590.2,241.0 L591.2,240.8 L592.2,240.2 L593.2,240.2 L594.2,240.1 L595.2,239.8 L596.3,241.4 L597.3,240.2 L598.3,239.5 L599.3,239.9 L600.3,240.6 L601.4,240.6 L602.4,240.1 L603.4,239.8 L604.4,240.2 L605.4,239.2 L606.4,239.4 L607.5,240.7 L608.5,239.9 L609.5,240.4 L610.5,241.0 L611.5,240.6 L612.5,240.2 L613.6,241.5 L614.6,240.6 L615.6,240.0 L616.6,240.7 L617.6,240.5 L618.6,239.7 L619.7,240.2 L620.7,240.1 L621.7,239.0 L622.7,240.1 L623.7,240.0 L624.7,239.9 L625.8,239.2 L626.8,240.0 L627.8,240.2 L628.8,240.3 L629.8,239.5 L630.8,240.6 L631.9,239.5 L632.9,240.1 L633.9,241.0 L634.9,239.8 L635.9,239.9 L636.9,240.9 L638.0,240.0 L639.0,240.0 L640.0,240.3 L641.0,240.8 L642.0,238.8 L643.0,239.7 L644.1,239.6 L645.1,239.5 L646.1,239.7 L647.1,239.7 L648.1,240.4 L649.1,239.7 L650.2,240.3 L651.2,240.4 L652.2,239.8 L653.2,240.3 L654.2,241.2 L655.2,240.4 L656.3,239.8 L657.3,240.2 L658.3,239.6 L659.3,240.4 L660.3,240.7 L661.3,239.7 L662.4,240.1 L663.4,240.9 L664.4,239.9" fill="none" stroke="#7f7f00" stroke-width="4.2" stroke-linejoin="round"/>
<line x1="483.0" y1="240.2" x2="483.0" y2="235.2" stroke="#7f7f00" stroke-width="1.8"/>
<line x1="461.0" y1="240.2" x2="461.0" y2="237.2" stroke="#7f7f00" stroke-width="1.8"/>
<line x1="514.0" y1="240.2" x2="514.0" y2="238.2" stroke="#7f7f00" stroke-width="1.8"/>
<line x1="593.0" y1="240.2" x2="593.0" y2="238.2" stroke="#7f7f00" stroke-width="1.8"/>
<path d="M398.2,184.4h6.0v6.0h-6.0zM399.6,194.4h6.0v6.0h-6.0zM401.1,193.7h6.0v6.0h-6.0zM402.5,185.6h6.0v6.0h-6.0zM403.9,184.6h6.0v6.0h-6.0zM405.3,185.5h6.0v6.0h-6.0zM406.8,194.7h6.0v6.0h-6.0zM408.2,185.5h6.0v6.0h-6.0zM409.6,185.3h6.0v6.0h-6.0zM411.0,193.8h6.0v6.0h-6.0zM412.5,185.9h6.0v6.0h-6.0zM413.9,194.3h6.0v6.0h-6.0zM415.3,186.3h6.0v6.0h-6.0zM416.7,186.2h6.0v6.0h-6.0zM418.2,194.2h6.0v6.0h-6.0zM419.6,186.3h6.0v6.0h-6.0zM421.0,194.2h6.0v6.0h-6.0zM422.4,194.5h6.0v6.0h-6.0zM423.8,195.1h6.0v6.0h-6.0zM425.3,193.8h6.0v6.0h-6.0zM426.7,195.1h6.0v6.0h-6.0zM428.1,194.9h6.0v6.0h-6.0zM429.5,194.0h6.0v6.0h-6.0zM431.0,185.6h6.0v6.0h-6.0zM432.4,185.4h6.0v6.0h-6.0zM433.8,186.4h6.0v6.0h-6.0zM435.2,195.2h6.0v6.0h-6.0zM436.7,185.7h6.0v6.0h-6.0zM438.1,195.3h6.0v6.0h-6.0zM439.5,195.5h6.0v6.0h-6.0zM440.9,185.4h6.0v6.0h-6.0zM442.4,186.3h6.0v6.0h-6.0zM443.8,194.9h6.0v6.0h-6.0zM445.2,195.3h6.0v6.0h-6.0zM446.6,185.5h6.0v6.0h-6.0zM448.0,195.3h6.0v6.0h-6.0zM449.5,185.9h6.0v6.0h-6.0zM450.9,195.6h6.0v6.0h-6.0zM452.3,186.3h6.0v6.0h-6.0zM453.7,187.1h6.0v6.0h-6.0zM455.2,185.8h6.0v6.0h-6.0zM456.6,186.3h6.0v6.0h-6.0zM458.0,186.9h6.0v6.0h-6.0zM459.4,186.5h6.0v6.0h-6.0zM460.9,195.6h6.0v6.0h-6.0zM462.3,186.0h6.0v6.0h-6.0zM463.7,194.7h6.0v6.0h-6.0zM465.1,185.8h6.0v6.0h-6.0zM466.6,185.7h6.0v6.0h-6.0zM468.0,185.8h6.0v6.0h-6.0zM469.4,195.6h6.0v6.0h-6.0zM470.8,186.7h6.0v6.0h-6.0zM472.3,195.0h6.0v6.0h-6.0zM473.7,187.0h6.0v6.0h-6.0zM475.1,186.7h6.0v6.0h-6.0zM476.5,194.5h6.0v6.0h-6.0zM477.9,195.1h6.0v6.0h-6.0zM479.4,186.4h6.0v6.0h-6.0zM480.8,186.1h6.0v6.0h-6.0zM482.2,195.7h6.0v6.0h-6.0zM483.6,195.6h6.0v6.0h-6.0zM485.1,186.9h6.0v6.0h-6.0zM486.5,186.1h6.0v6.0h-6.0zM487.9,187.3h6.0v6.0h-6.0zM489.3,194.6h6.0v6.0h-6.0zM490.8,186.2h6.0v6.0h-6.0zM492.2,195.7h6.0v6.0h-6.0zM493.6,195.7h6.0v6.0h-6.0zM495.0,196.2h6.0v6.0h-6.0zM496.5,186.9h6.0v6.0h-6.0zM497.9,186.6h6.0v6.0h-6.0zM499.3,196.0h6.0v6.0h-6.0zM500.7,187.3h6.0v6.0h-6.0zM502.1,196.1h6.0v6.0h-6.0zM503.6,195.5h6.0v6.0h-6.0zM505.0,186.7h6.0v6.0h-6.0zM506.4,196.1h6.0v6.0h-6.0zM507.8,195.0h6.0v6.0h-6.0zM509.3,186.6h6.0v6.0h-6.0zM510.7,186.8h6.0v6.0h-6.0zM512.1,196.4h6.0v6.0h-6.0zM513.5,186.4h6.0v6.0h-6.0zM515.0,186.4h6.0v6.0h-6.0zM516.4,187.2h6.0v6.0h-6.0zM517.8,196.1h6.0v6.0h-6.0zM519.2,196.1h6.0v6.0h-6.0zM520.7,186.8h6.0v6.0h-6.0zM522.1,195.4h6.0v6.0h-6.0zM523.5,195.0h6.0v6.0h-6.0zM524.9,186.6h6.0v6.0h-6.0zM526.4,187.7h6.0v6.0h-6.0zM527.8,195.5h6.0v6.0h-6.0zM529.2,187.2h6.0v6.0h-6.0zM530.6,186.6h6.0v6.0h-6.0zM532.0,196.6h6.0v6.0h-6.0zM533.5,196.6h6.0v6.0h-6.0zM534.9,195.9h6.0v6.0h-6.0zM536.3,186.5h6.0v6.0h-6.0zM537.7,187.8h6.0v6.0h-6.0zM539.2,187.7h6.0v6.0h-6.0zM540.6,196.6h6.0v6.0h-6.0zM542.0,187.5h6.0v6.0h-6.0zM543.4,187.9h6.0v6.0h-6.0zM544.9,187.2h6.0v6.0h-6.0zM546.3,196.3h6.0v6.0h-6.0zM547.7,188.0h6.0v6.0h-6.0zM549.1,186.8h6.0v6.0h-6.0zM550.6,187.0h6.0v6.0h-6.0zM552.0,197.0h6.0v6.0h-6.0zM553.4,188.0h6.0v6.0h-6.0zM554.8,196.4h6.0v6.0h-6.0zM556.3,187.5h6.0v6.0h-6.0zM557.7,187.6h6.0v6.0h-6.0zM559.1,197.0h6.0v6.0h-6.0zM560.5,196.8h6.0v6.0h-6.0zM561.9,187.0h6.0v6.0h-6.0zM563.4,187.0h6.0v6.0h-6.0zM564.8,187.5h6.0v6.0h-6.0zM566.2,197.0h6.0v6.0h-6.0zM567.6,195.6h6.0v6.0h-6.0zM569.1,188.0h6.0v6.0h-6.0zM570.5,196.1h6.0v6.0h-6.0zM571.9,196.2h6.0v6.0h-6.0zM573.3,195.8h6.0v6.0h-6.0zM574.8,188.4h6.0v6.0h-6.0zM576.2,196.7h6.0v6.0h-6.0zM577.6,188.0h6.0v6.0h-6.0zM579.0,187.0h6.0v6.0h-6.0zM580.5,187.5h6.0v6.0h-6.0zM581.9,196.9h6.0v6.0h-6.0zM583.3,197.2h6.0v6.0h-6.0zM584.7,188.0h6.0v6.0h-6.0zM586.1,187.0h6.0v6.0h-6.0zM587.6,197.3h6.0v6.0h-6.0zM589.0,188.4h6.0v6.0h-6.0zM590.4,187.2h6.0v6.0h-6.0zM591.8,188.0h6.0v6.0h-6.0zM593.3,197.3h6.0v6.0h-6.0zM594.7,196.1h6.0v6.0h-6.0zM596.1,196.4h6.0v6.0h-6.0zM597.5,196.2h6.0v6.0h-6.0zM599.0,196.6h6.0v6.0h-6.0zM600.4,188.0h6.0v6.0h-6.0zM601.8,195.9h6.0v6.0h-6.0zM603.2,195.9h6.0v6.0h-6.0zM604.7,196.8h6.0v6.0h-6.0zM606.1,187.5h6.0v6.0h-6.0zM607.5,187.8h6.0v6.0h-6.0zM608.9,187.8h6.0v6.0h-6.0zM610.4,196.3h6.0v6.0h-6.0zM611.8,187.2h6.0v6.0h-6.0zM613.2,187.3h6.0v6.0h-6.0zM614.6,188.1h6.0v6.0h-6.0zM616.0,188.9h6.0v6.0h-6.0zM617.5,188.6h6.0v6.0h-6.0zM618.9,196.7h6.0v6.0h-6.0zM620.3,188.2h6.0v6.0h-6.0zM621.7,196.8h6.0v6.0h-6.0zM623.2,196.0h6.0v6.0h-6.0zM624.6,187.4h6.0v6.0h-6.0zM626.0,189.0h6.0v6.0h-6.0zM627.4,196.8h6.0v6.0h-6.0zM628.9,197.2h6.0v6.0h-6.0zM630.3,188.4h6.0v6.0h-6.0zM631.7,188.2h6.0v6.0h-6.0zM633.1,196.6h6.0v6.0h-6.0zM634.6,196.2h6.0v6.0h-6.0zM636.0,197.6h6.0v6.0h-6.0zM637.4,188.6h6.0v6.0h-6.0zM638.8,197.1h6.0v6.0h-6.0zM640.2,187.7h6.0v6.0h-6.0zM641.7,188.9h6.0v6.0h-6.0zM643.1,196.8h6.0v6.0h-6.0zM644.5,189.1h6.0v6.0h-6.0zM645.9,187.5h6.0v6.0h-6.0zM647.4,189.0h6.0v6.0h-6.0zM648.8,187.7h6.0v6.0h-6.0zM650.2,197.6h6.0v6.0h-6.0zM651.6,196.7h6.0v6.0h-6.0zM653.1,197.1h6.0v6.0h-6.0zM654.5,188.3h6.0v6.0h-6.0zM655.9,187.6h6.0v6.0h-6.0zM657.3,197.8h6.0v6.0h-6.0zM658.8,188.3h6.0v6.0h-6.0zM660.2,189.1h6.0v6.0h-6.0zM410.2,176.1h6.0v6.0h-6.0zM410.3,182.1h6.0v6.0h-6.0zM457.9,142.5h6.0v6.0h-6.0zM458.1,148.5h6.0v6.0h-6.0zM457.6,153.3h6.0v6.0h-6.0zM457.6,159.3h6.0v6.0h-6.0zM457.5,165.3h6.0v6.0h-6.0zM458.0,170.1h6.0v6.0h-6.0zM458.1,174.9h6.0v6.0h-6.0zM458.4,180.9h6.0v6.0h-6.0zM464.2,182.0h6.0v6.0h-6.0zM479.8,27.1h6.0v6.0h-6.0zM480.2,45.1h6.0v6.0h-6.0zM479.4,51.1h6.0v6.0h-6.0zM480.2,69.1h6.0v6.0h-6.0zM480.0,93.1h6.0v6.0h-6.0zM479.9,111.1h6.0v6.0h-6.0zM479.6,117.1h6.0v6.0h-6.0zM480.3,123.1h6.0v6.0h-6.0zM480.0,129.1h6.0v6.0h-6.0zM479.9,135.1h6.0v6.0h-6.0zM480.0,139.9h6.0v6.0h-6.0zM480.0,147.7h6.0v6.0h-6.0zM480.0,152.5h6.0v6.0h-6.0zM480.5,160.3h6.0v6.0h-6.0zM479.8,168.1h6.0v6.0h-6.0zM480.1,174.1h6.0v6.0h-6.0zM480.0,180.1h6.0v6.0h-6.0zM486.4,179.5h6.0v6.0h-6.0zM510.7,155.0h6.0v6.0h-6.0zM510.9,159.8h6.0v6.0h-6.0zM510.5,167.6h6.0v6.0h-6.0zM510.9,173.6h6.0v6.0h-6.0zM510.9,178.4h6.0v6.0h-6.0zM511.6,184.4h6.0v6.0h-6.0zM552.7,177.7h6.0v6.0h-6.0zM552.9,185.5h6.0v6.0h-6.0zM567.1,145.9h6.0v6.0h-6.0zM566.9,153.7h6.0v6.0h-6.0zM566.9,158.5h6.0v6.0h-6.0zM566.8,164.5h6.0v6.0h-6.0zM567.0,169.3h6.0v6.0h-6.0zM566.8,175.3h6.0v6.0h-6.0zM566.7,181.3h6.0v6.0h-6.0zM589.9,123.7h6.0v6.0h-6.0zM589.9,129.7h6.0v6.0h-6.0zM590.2,134.5h6.0v6.0h-6.0zM589.8,142.3h6.0v6.0h-6.0zM590.1,147.1h6.0v6.0h-6.0zM590.6,153.1h6.0v6.0h-6.0zM590.3,157.9h6.0v6.0h-6.0zM589.6,162.7h6.0v6.0h-6.0zM590.0,167.5h6.0v6.0h-6.0zM589.7,172.3h6.0v6.0h-6.0zM590.1,177.1h6.0v6.0h-6.0zM589.8,183.1h6.0v6.0h-6.0zM623.9,188.0h6.0v6.0h-6.0zM635.8,180.0h6.0v6.0h-6.0zM635.5,186.0h6.0v6.0h-6.0zM640.0,186.0h6.0v6.0h-6.0zM656.5,189.0h6.0v6.0h-6.0z" fill="none" stroke="#333" stroke-width="0.9" opacity="1"/>
<path d="M401.5,186.3 L400.7,185.6 L401.5,185.8 L402.2,186.0 L402.9,188.0 L403.7,186.2 L404.4,186.1 L405.1,186.1 L405.9,186.5 L406.6,187.1 L407.3,186.8 L408.1,188.1 L408.8,186.8 L409.5,187.7 L410.3,186.9 L411.0,187.2 L411.7,185.7 L412.4,186.7 L413.2,186.7 L413.9,186.6 L414.6,185.3 L415.4,187.5 L416.1,186.6 L416.8,186.6 L417.6,186.7 L418.3,186.8 L419.0,187.2 L419.8,186.1 L420.5,186.3 L421.2,187.2 L422.0,187.1 L422.7,186.8 L423.4,186.6 L424.2,186.5 L424.9,187.0 L425.6,187.9 L426.4,186.4 L427.1,188.2 L427.8,187.7 L428.6,186.8 L429.3,187.7 L430.0,186.1 L430.8,186.0 L431.5,186.3 L432.2,186.9 L432.9,187.0 L433.7,186.9 L434.4,187.3 L435.1,185.8 L435.9,187.6 L436.6,186.3 L437.3,186.8 L438.1,187.0 L438.8,186.5 L439.5,186.4 L440.3,186.7 L441.0,187.4 L441.7,187.8 L442.5,187.8 L443.2,186.7 L443.9,186.9 L444.7,186.8 L445.4,187.8 L446.1,186.0 L446.9,188.3 L447.6,187.1 L448.3,187.0 L449.1,187.7 L449.8,188.2 L450.5,187.8 L451.3,188.3 L452.0,187.7 L452.7,188.4 L453.4,188.5 L454.2,187.5 L454.9,188.6 L455.6,187.7 L456.4,187.7 L457.1,187.0 L457.8,187.4 L458.6,188.2 L459.3,186.7 L460.0,188.1 L460.8,187.9 L461.5,187.9 L462.2,186.2 L463.0,187.6 L463.7,188.2 L464.4,187.2 L465.2,187.8 L465.9,186.1 L466.6,188.2 L467.4,187.3 L468.1,188.4 L468.8,186.5 L469.6,188.3 L470.3,187.7 L471.0,188.4 L471.8,187.2 L472.5,187.4 L473.2,189.4 L474.0,187.3 L474.7,187.4 L475.4,187.7 L476.1,187.2 L476.9,188.7 L477.6,189.1 L478.3,187.4 L479.1,186.7 L479.8,188.8 L480.5,188.7 L481.3,188.5 L482.0,188.8 L482.7,187.4 L483.5,187.9 L484.2,187.0 L484.9,187.0 L485.7,188.7 L486.4,187.6 L487.1,189.6 L487.9,188.1 L488.6,187.6 L489.3,188.6 L490.1,189.3 L490.8,188.4 L491.5,187.3 L492.3,188.4 L493.0,189.1 L493.7,187.8 L494.5,187.6 L495.2,188.9 L495.9,188.3 L496.6,187.4 L497.4,187.9 L498.1,187.7 L498.8,188.4 L499.6,188.3 L500.3,189.0 L501.0,188.7 L501.8,187.1 L502.5,188.5 L503.2,188.9 L504.0,188.6 L504.7,189.0 L505.4,187.9 L506.2,187.6 L506.9,188.9 L507.6,187.6 L508.4,186.8 L509.1,189.0 L509.8,187.8 L510.6,188.1 L511.3,187.4 L512.0,187.4 L512.8,187.5 L513.5,188.1 L514.2,188.6 L515.0,186.8 L515.7,188.9 L516.4,187.6 L517.1,187.7 L517.9,188.9 L518.6,188.4 L519.3,187.4 L520.1,189.7 L520.8,187.8 L521.5,188.6 L522.3,188.6 L523.0,189.5 L523.7,188.2 L524.5,189.2 L525.2,188.0 L525.9,189.3 L526.7,188.0 L527.4,188.3 L528.1,189.9 L528.9,188.8 L529.6,188.6 L530.3,190.1 L531.1,188.8 L531.8,188.0 L532.5,189.1 L533.3,187.8 L534.0,189.4 L534.7,189.4 L535.5,188.2 L536.2,188.2 L536.9,188.7 L537.7,188.6 L538.4,188.0 L539.1,189.0 L539.8,187.2 L540.6,188.4 L541.3,188.4 L542.0,188.5 L542.8,188.9 L543.5,187.8 L544.2,189.1 L545.0,188.6 L545.7,188.3 L546.4,187.8 L547.2,187.9 L547.9,189.0 L548.6,188.1 L549.4,188.8 L550.1,189.5 L550.8,189.5 L551.6,189.9 L552.3,188.6 L553.0,188.0 L553.8,189.5 L554.5,189.0 L555.2,189.6 L556.0,188.8 L556.7,189.7 L557.4,189.4 L558.2,189.3 L558.9,189.2 L559.6,189.1 L560.3,189.0 L561.1,189.0 L561.8,189.6 L562.5,188.5 L563.3,190.1 L564.0,188.8 L564.7,189.6 L565.5,188.9 L566.2,188.8 L566.9,190.4 L567.7,188.7 L568.4,188.1 L569.1,188.5 L569.9,188.7 L570.6,190.5 L571.3,189.1 L572.1,189.6 L572.8,188.3 L573.5,189.2 L574.3,189.5 L575.0,190.3 L575.7,188.5 L576.5,189.4 L577.2,189.2 L577.9,188.3 L578.7,189.0 L579.4,188.9 L580.1,187.4 L580.8,189.5 L581.6,189.5 L582.3,188.8 L583.0,188.2 L583.8,190.1 L584.5,189.3 L585.2,189.8 L586.0,190.1 L586.7,188.8 L587.4,189.7 L588.2,189.0 L588.9,189.1 L589.6,189.1 L590.4,189.2 L591.1,189.9 L591.8,189.3 L592.6,189.1 L593.3,189.0 L594.0,189.4 L594.8,188.6 L595.5,188.9 L596.2,189.2 L597.0,188.8 L597.7,189.1 L598.4,188.8 L599.2,190.6 L599.9,190.2 L600.6,189.6 L601.4,189.2 L602.1,190.8 L602.8,189.5 L603.5,189.2 L604.3,189.5 L605.0,189.5 L605.7,190.3 L606.5,189.3 L607.2,190.8 L607.9,188.7 L608.7,189.8 L609.4,188.6 L610.1,190.6 L610.9,189.1 L611.6,189.3 L612.3,190.0 L613.1,190.2 L613.8,188.6 L614.5,189.1 L615.3,188.4 L616.0,189.5 L616.7,189.3 L617.5,189.2 L618.2,188.9 L618.9,189.1 L619.7,188.9 L620.4,189.8 L621.1,190.5 L621.9,188.1 L622.6,189.4 L623.3,189.2 L624.0,189.8 L624.8,188.8 L625.5,189.4 L626.2,188.8 L627.0,190.0 L627.7,189.6 L628.4,189.4 L629.2,189.8 L629.9,189.3 L630.6,188.4 L631.4,189.9 L632.1,189.7 L632.8,189.4 L633.6,190.2 L634.3,190.4 L635.0,188.8 L635.8,189.0 L636.5,190.7 L637.2,190.6 L638.0,189.1 L638.7,188.8 L639.4,189.1 L640.2,189.2 L640.9,188.5 L641.6,189.6 L642.4,188.7 L643.1,188.8 L643.8,190.3 L644.5,189.2 L645.3,189.6 L646.0,190.1 L646.7,190.2 L647.5,189.4 L648.2,189.7 L648.9,189.1 L649.7,190.9 L650.4,190.1 L651.1,188.9 L651.9,189.7 L652.6,190.2 L653.3,190.0 L654.1,191.0 L654.8,190.7 L655.5,189.3 L656.3,189.7 L657.0,188.8 L657.7,189.9 L658.5,189.9 L659.2,191.6 L659.9,189.8 L660.7,188.3 L661.4,189.3 L662.1,189.9 L662.9,188.9 L663.6,189.2 L664.3,189.5 L664.3,200.4 L663.6,200.1 L662.9,197.5 L662.1,199.8 L661.4,200.0 L660.7,201.4 L659.9,203.1 L659.2,201.6 L658.5,201.4 L657.7,199.2 L657.0,200.2 L656.3,199.2 L655.5,199.5 L654.8,200.3 L654.1,200.9 L653.3,200.9 L652.6,199.3 L651.9,199.2 L651.1,200.3 L650.4,201.0 L649.7,200.8 L648.9,202.6 L648.2,200.1 L647.5,200.9 L646.7,201.4 L646.0,201.8 L645.3,200.2 L644.5,200.2 L643.8,201.9 L643.1,199.7 L642.4,199.8 L641.6,200.6 L640.9,201.1 L640.2,200.8 L639.4,200.2 L638.7,200.5 L638.0,200.2 L637.2,201.2 L636.5,200.4 L635.8,201.4 L635.0,199.5 L634.3,199.8 L633.6,199.8 L632.8,200.2 L632.1,200.2 L631.4,200.0 L630.6,200.6 L629.9,201.3 L629.2,200.5 L628.4,198.6 L627.7,200.4 L627.0,197.0 L626.2,199.8 L625.5,200.3 L624.8,200.4 L624.0,200.4 L623.3,199.6 L622.6,199.9 L621.9,199.5 L621.1,200.0 L620.4,201.2 L619.7,199.6 L618.9,201.0 L618.2,199.7 L617.5,201.1 L616.7,201.4 L616.0,199.1 L615.3,200.3 L614.5,200.9 L613.8,199.7 L613.1,199.8 L612.3,200.3 L611.6,199.8 L610.9,199.8 L610.1,198.6 L609.4,201.3 L608.7,200.7 L607.9,200.8 L607.2,199.7 L606.5,199.5 L605.7,199.9 L605.0,200.2 L604.3,199.8 L603.5,200.1 L602.8,201.0 L602.1,199.8 L601.4,200.4 L600.6,199.1 L599.9,199.8 L599.2,200.1 L598.4,199.1 L597.7,199.1 L597.0,200.3 L596.2,199.9 L595.5,199.5 L594.8,201.1 L594.0,200.6 L593.3,201.7 L592.6,201.3 L591.8,199.1 L591.1,198.5 L590.4,199.1 L589.6,199.8 L588.9,200.0 L588.2,199.2 L587.4,199.6 L586.7,201.0 L586.0,199.0 L585.2,201.3 L584.5,200.6 L583.8,200.5 L583.0,200.0 L582.3,201.2 L581.6,201.2 L580.8,199.0 L580.1,200.8 L579.4,199.5 L578.7,199.2 L577.9,200.1 L577.2,201.7 L576.5,200.9 L575.7,199.1 L575.0,198.9 L574.3,198.7 L573.5,201.5 L572.8,199.1 L572.1,199.1 L571.3,199.9 L570.6,199.6 L569.9,198.0 L569.1,199.6 L568.4,199.0 L567.7,200.6 L566.9,199.2 L566.2,199.0 L565.5,199.6 L564.7,198.4 L564.0,200.6 L563.3,200.6 L562.5,201.7 L561.8,201.0 L561.1,197.8 L560.3,200.3 L559.6,200.0 L558.9,199.8 L558.2,200.4 L557.4,199.8 L556.7,199.1 L556.0,199.9 L555.2,200.0 L554.5,197.9 L553.8,201.3 L553.0,199.0 L552.3,199.4 L551.6,199.3 L550.8,198.6 L550.1,199.8 L549.4,200.4 L548.6,198.7 L547.9,201.9 L547.2,200.0 L546.4,198.3 L545.7,198.3 L545.0,198.5 L544.2,198.6 L543.5,200.3 L542.8,198.8 L542.0,199.2 L541.3,198.9 L540.6,200.7 L539.8,199.5 L539.1,198.9 L538.4,199.5 L537.7,198.7 L536.9,200.1 L536.2,197.9 L535.5,198.1 L534.7,197.9 L534.0,199.1 L533.3,199.9 L532.5,201.1 L531.8,199.5 L531.1,198.6 L530.3,199.1 L529.6,198.1 L528.9,199.2 L528.1,199.3 L527.4,198.8 L526.7,198.3 L525.9,198.6 L525.2,198.7 L524.5,199.1 L523.7,199.5 L523.0,200.6 L522.3,197.9 L521.5,199.7 L520.8,198.6 L520.1,198.9 L519.3,197.6 L518.6,198.4 L517.9,199.0 L517.1,199.0 L516.4,200.4 L515.7,197.5 L515.0,200.8 L514.2,199.7 L513.5,199.9 L512.8,199.6 L512.0,200.5 L511.3,199.6 L510.6,199.6 L509.8,199.7 L509.1,199.5 L508.4,197.9 L507.6,200.1 L506.9,199.0 L506.2,198.7 L505.4,198.4 L504.7,198.2 L504.0,199.7 L503.2,200.1 L502.5,199.3 L501.8,198.2 L501.0,200.4 L500.3,198.1 L499.6,200.2 L498.8,199.6 L498.1,199.3 L497.4,198.8 L496.6,199.0 L495.9,198.5 L495.2,201.2 L494.5,199.9 L493.7,197.6 L493.0,199.0 L492.3,196.4 L491.5,199.5 L490.8,199.9 L490.1,198.5 L489.3,199.0 L488.6,199.6 L487.9,197.4 L487.1,199.1 L486.4,198.3 L485.7,199.7 L484.9,199.1 L484.2,199.5 L483.5,199.2 L482.7,198.6 L482.0,198.1 L481.3,198.7 L480.5,199.6 L479.8,199.8 L479.1,197.5 L478.3,199.8 L477.6,197.9 L476.9,198.7 L476.1,198.8 L475.4,198.4 L474.7,199.2 L474.0,199.6 L473.2,198.6 L472.5,200.1 L471.8,199.2 L471.0,198.6 L470.3,198.3 L469.6,200.3 L468.8,198.5 L468.1,198.5 L467.4,196.6 L466.6,197.9 L465.9,200.5 L465.2,197.4 L464.4,199.0 L463.7,198.0 L463.0,200.3 L462.2,198.8 L461.5,199.4 L460.8,198.2 L460.0,197.6 L459.3,200.0 L458.6,199.4 L457.8,197.4 L457.1,198.1 L456.4,199.0 L455.6,199.8 L454.9,197.2 L454.2,200.1 L453.4,197.1 L452.7,197.5 L452.0,197.8 L451.3,198.4 L450.5,198.4 L449.8,196.8 L449.1,198.4 L448.3,197.2 L447.6,197.6 L446.9,198.0 L446.1,198.3 L445.4,197.7 L444.7,199.5 L443.9,198.7 L443.2,197.9 L442.5,197.0 L441.7,198.0 L441.0,197.3 L440.3,199.8 L439.5,198.1 L438.8,199.4 L438.1,198.6 L437.3,198.6 L436.6,198.8 L435.9,198.9 L435.1,199.6 L434.4,197.7 L433.7,197.5 L432.9,198.4 L432.2,197.3 L431.5,197.1 L430.8,198.1 L430.0,197.3 L429.3,198.1 L428.6,199.8 L427.8,197.5 L427.1,198.1 L426.4,198.6 L425.6,195.8 L424.9,197.3 L424.2,198.2 L423.4,196.6 L422.7,196.8 L422.0,199.0 L421.2,198.6 L420.5,196.4 L419.8,198.1 L419.0,197.7 L418.3,197.6 L417.6,197.2 L416.8,198.8 L416.1,197.9 L415.4,199.2 L414.6,198.5 L413.9,196.7 L413.2,196.0 L412.4,197.8 L411.7,198.5 L411.0,198.7 L410.3,196.5 L409.5,197.7 L408.8,197.1 L408.1,198.1 L407.3,197.4 L406.6,195.9 L405.9,198.0 L405.1,196.6 L404.4,196.1 L403.7,196.8 L402.9,196.8 L402.2,197.9 L401.5,196.4 L400.7,197.0 L401.5,197.3Z" fill="#111"/>
<path d="M400.0,192.2 L412.5,192.8 L413.1,188.6 L413.2,178.7 L413.3,188.6 L413.9,192.8 L460.2,193.7 L460.8,180.3 L460.9,149.0 L461.0,180.3 L461.6,193.7 L466.5,193.8 L467.1,191.0 L467.2,184.6 L467.3,191.0 L467.9,193.8 L482.1,194.0 L482.7,146.8 L482.8,36.6 L482.9,146.8 L483.5,194.0 L488.7,194.1 L489.3,190.5 L489.4,182.0 L489.5,190.5 L490.1,194.1 L513.0,194.4 L513.6,183.7 L513.7,158.7 L513.8,183.7 L514.4,194.4 L555.0,194.8 L555.6,190.4 L555.7,180.0 L555.8,190.4 L556.4,194.8 L569.4,195.0 L570.0,180.4 L570.1,146.5 L570.2,180.4 L570.8,195.0 L592.2,195.2 L592.8,175.2 L592.9,128.7 L593.0,175.2 L593.6,195.2 L626.2,195.5 L626.8,193.5 L626.9,189.0 L627.0,193.5 L627.6,195.5 L638.1,195.6 L638.7,191.7 L638.8,182.7 L638.9,191.7 L639.5,195.6 L642.3,195.6 L642.9,193.3 L643.0,188.0 L643.1,193.3 L643.7,195.6 L658.8,195.8 L659.4,194.0 L659.5,190.0 L659.6,194.0 L660.2,195.8 L664.4,195.8" fill="none" stroke="#0a14f5" stroke-width="2.2" stroke-linejoin="miter" stroke-miterlimit="1.5"/>
<rect x="400" y="4.6" width="264.4" height="243.9" fill="none" stroke="#000" stroke-width="2.9"/>
<line x1="420.3" y1="248.5" x2="420.3" y2="253.7" stroke="#000" stroke-width="2.6"/>
<line x1="501.7" y1="248.5" x2="501.7" y2="253.7" stroke="#000" stroke-width="2.6"/>
<line x1="583.0" y1="248.5" x2="583.0" y2="253.7" stroke="#000" stroke-width="2.6"/>
<line x1="664.4" y1="248.5" x2="664.4" y2="253.7" stroke="#000" stroke-width="2.6"/>
<line x1="461.0" y1="248.5" x2="461.0" y2="251.5" stroke="#000" stroke-width="2.2"/>
<line x1="542.4" y1="248.5" x2="542.4" y2="251.5" stroke="#000" stroke-width="2.2"/>
<line x1="623.7" y1="248.5" x2="623.7" y2="251.5" stroke="#000" stroke-width="2.2"/>
<text x="420.3" y="271.2" class="tk" text-anchor="middle">20</text>
<text x="501.7" y="271.2" class="tk" text-anchor="middle">40</text>
<text x="583.0" y="271.2" class="tk" text-anchor="middle">60</text>
<text x="664.4" y="271.2" class="tk" text-anchor="middle">80</text>
<text x="56" y="26.2" class="pl">(a)</text>
<text x="406" y="26.2" class="pl">(b)</text>
<circle cx="196.1" cy="18.8" r="3.4" fill="none" stroke="#555" stroke-width="0.9"/>
<line x1="179.8" y1="36" x2="211.9" y2="36" stroke="#0a14f5" stroke-width="2.2"/>
<line x1="179.8" y1="53" x2="211.9" y2="53" stroke="#7f7f00" stroke-width="2.2"/>
<line x1="195.6" y1="66.8" x2="195.6" y2="73.2" stroke="#ff8080" stroke-width="1.1"/>
<text x="214.9" y="23.2" class="lg">Observed</text>
<text x="214.9" y="40.2" class="lg">Calculated</text>
<text x="214.9" y="56.8" class="lg">Difference</text>
<text x="214.9" y="73.8" class="lg">Bragg position</text>
<text x="269" y="95" class="sp">S-Fe</text>
<rect x="543.9" y="13.1" width="6" height="6" fill="none" stroke="#555" stroke-width="0.9"/>
<line x1="531" y1="33.1" x2="563" y2="33.1" stroke="#0a14f5" stroke-width="2.2"/>
<line x1="531" y1="50" x2="563" y2="50" stroke="#7f7f00" stroke-width="2.2"/>
<line x1="546.9" y1="63.8" x2="546.9" y2="70.4" stroke="#ff8080" stroke-width="1.1"/>
<text x="562.4" y="20" class="lg">Observed</text>
<text x="566.2" y="36.9" class="lg">Calculated</text>
<text x="566.2" y="53.8" class="lg">Difference</text>
<text x="566.2" y="71.2" class="lg">Bragg position</text>
<text x="623.8" y="92" class="sp">S-Ti</text>
<text x="182.4" y="294.5" class="ax" text-anchor="middle">2θ (degree)</text>
<text x="532" y="292.3" class="ax" text-anchor="middle">2θ (degree)</text>
<text transform="translate(37.9,126.2) rotate(-90)" class="ay" text-anchor="middle">Intensity (a.u.)</text>
<text transform="translate(387.3,126.1) rotate(-90)" class="ay" text-anchor="middle">Intensity (a.u.)</text>
<defs><radialGradient id="gG0" cx="0.55" cy="0.42" r="0.62" fx="0.56" fy="0.40"><stop offset="0" stop-color="#ebffeb"/><stop offset="0.18" stop-color="#6eeb6e"/><stop offset="0.6" stop-color="#28cd28"/><stop offset="1" stop-color="#148c14"/></radialGradient><radialGradient id="gG1" cx="0.55" cy="0.42" r="0.62" fx="0.56" fy="0.40"><stop offset="0" stop-color="#eeffee"/><stop offset="0.18" stop-color="#81ee81"/><stop offset="0.6" stop-color="#44d444"/><stop offset="1" stop-color="#339b33"/></radialGradient><radialGradient id="gG2" cx="0.55" cy="0.42" r="0.62" fx="0.56" fy="0.40"><stop offset="0" stop-color="#f0fff0"/><stop offset="0.18" stop-color="#94f094"/><stop offset="0.6" stop-color="#60da60"/><stop offset="1" stop-color="#51aa51"/></radialGradient><radialGradient id="gG3" cx="0.55" cy="0.42" r="0.62" fx="0.56" fy="0.40"><stop offset="0" stop-color="#f3fff3"/><stop offset="0.18" stop-color="#a7f3a7"/><stop offset="0.6" stop-color="#7ce07c"/><stop offset="1" stop-color="#70b970"/></radialGradient><radialGradient id="gG4" cx="0.55" cy="0.42" r="0.62" fx="0.56" fy="0.40"><stop offset="0" stop-color="#f5fff5"/><stop offset="0.18" stop-color="#b9f5b9"/><stop offset="0.6" stop-color="#98e798"/><stop offset="1" stop-color="#8ec88e"/></radialGradient><radialGradient id="gR0" cx="0.55" cy="0.42" r="0.62" fx="0.56" fy="0.40"><stop offset="0" stop-color="#ffebeb"/><stop offset="0.18" stop-color="#f55a5a"/><stop offset="0.6" stop-color="#e11919"/><stop offset="1" stop-color="#960505"/></radialGradient><radialGradient id="gR1" cx="0.55" cy="0.42" r="0.62" fx="0.56" fy="0.40"><stop offset="0" stop-color="#ffeeee"/><stop offset="0.18" stop-color="#f66f6f"/><stop offset="0.6" stop-color="#e53737"/><stop offset="1" stop-color="#a42626"/></radialGradient><radialGradient id="gR2" cx="0.55" cy="0.42" r="0.62" fx="0.56" fy="0.40"><stop offset="0" stop-color="#fff0f0"/><stop offset="0.18" stop-color="#f88585"/><stop offset="0.6" stop-color="#e95555"/><stop offset="1" stop-color="#b14646"/></radialGradient><radialGradient id="gR3" cx="0.55" cy="0.42" r="0.62" fx="0.56" fy="0.40"><stop offset="0" stop-color="#fff3f3"/><stop offset="0.18" stop-color="#f99a9a"/><stop offset="0.6" stop-color="#ed7373"/><stop offset="1" stop-color="#bf6666"/></radialGradient><radialGradient id="gR4" cx="0.55" cy="0.42" r="0.62" fx="0.56" fy="0.40"><stop offset="0" stop-color="#fff5f5"/><stop offset="0.18" stop-color="#fab0b0"/><stop offset="0.6" stop-color="#f19191"/><stop offset="1" stop-color="#cd8787"/></radialGradient><radialGradient id="gB0" cx="0.55" cy="0.42" r="0.62" fx="0.56" fy="0.40"><stop offset="0" stop-color="#fff5c8"/><stop offset="0.18" stop-color="#e1aa46"/><stop offset="0.6" stop-color="#be7d1e"/><stop offset="1" stop-color="#784b0a"/></radialGradient><radialGradient id="gB1" cx="0.55" cy="0.42" r="0.62" fx="0.56" fy="0.40"><stop offset="0" stop-color="#fff6cf"/><stop offset="0.18" stop-color="#e5b55e"/><stop offset="0.6" stop-color="#c68e3b"/><stop offset="1" stop-color="#8a622a"/></radialGradient><radialGradient id="gB2" cx="0.55" cy="0.42" r="0.62" fx="0.56" fy="0.40"><stop offset="0" stop-color="#fff8d6"/><stop offset="0.18" stop-color="#e9c076"/><stop offset="0.6" stop-color="#cf9f58"/><stop offset="1" stop-color="#9b7a4a"/></radialGradient><radialGradient id="gB3" cx="0.55" cy="0.42" r="0.62" fx="0.56" fy="0.40"><stop offset="0" stop-color="#fff9dd"/><stop offset="0.18" stop-color="#edcb8e"/><stop offset="0.6" stop-color="#d7b076"/><stop offset="1" stop-color="#ad916a"/></radialGradient><radialGradient id="gB4" cx="0.55" cy="0.42" r="0.62" fx="0.56" fy="0.40"><stop offset="0" stop-color="#fffae5"/><stop offset="0.18" stop-color="#f1d6a6"/><stop offset="0.6" stop-color="#e0c193"/><stop offset="1" stop-color="#bea989"/></radialGradient><radialGradient id="gL0" cx="0.55" cy="0.42" r="0.62" fx="0.56" fy="0.40"><stop offset="0" stop-color="#f5ffe1"/><stop offset="0.18" stop-color="#aff06e"/><stop offset="0.6" stop-color="#7ddc32"/><stop offset="1" stop-color="#50a014"/></radialGradient><radialGradient id="gL1" cx="0.55" cy="0.42" r="0.62" fx="0.56" fy="0.40"><stop offset="0" stop-color="#f6ffe5"/><stop offset="0.18" stop-color="#b9f281"/><stop offset="0.6" stop-color="#8ee14d"/><stop offset="1" stop-color="#67ac33"/></radialGradient><radialGradient id="gL2" cx="0.55" cy="0.42" r="0.62" fx="0.56" fy="0.40"><stop offset="0" stop-color="#f8ffe9"/><stop offset="0.18" stop-color="#c4f494"/><stop offset="0.6" stop-color="#9fe567"/><stop offset="1" stop-color="#7eb951"/></radialGradient><radialGradient id="gL3" cx="0.55" cy="0.42" r="0.62" fx="0.56" fy="0.40"><stop offset="0" stop-color="#f9ffed"/><stop offset="0.18" stop-color="#cef6a7"/><stop offset="0.6" stop-color="#b0ea82"/><stop offset="1" stop-color="#94c570"/></radialGradient><radialGradient id="gL4" cx="0.55" cy="0.42" r="0.62" fx="0.56" fy="0.40"><stop offset="0" stop-color="#fafff1"/><stop offset="0.18" stop-color="#d9f8b9"/><stop offset="0.6" stop-color="#c1ee9d"/><stop offset="1" stop-color="#abd18e"/></radialGradient></defs>
<line x1="153.8" y1="559.2" x2="153.8" y2="533.0" stroke="#555" stroke-width="0.9"/>
<line x1="153.8" y1="559.2" x2="179.1" y2="560.6" stroke="#555" stroke-width="0.9"/>
<line x1="153.8" y1="533.0" x2="153.9" y2="506.9" stroke="#555" stroke-width="0.9"/>
<line x1="153.9" y1="506.9" x2="153.9" y2="480.7" stroke="#555" stroke-width="0.9"/>
<line x1="179.1" y1="560.6" x2="204.3" y2="562.0" stroke="#555" stroke-width="0.9"/>
<line x1="153.8" y1="559.2" x2="145.5" y2="563.4" stroke="#555" stroke-width="0.9"/>
<line x1="153.9" y1="480.7" x2="154.0" y2="454.6" stroke="#555" stroke-width="0.9"/>
<line x1="154.0" y1="454.6" x2="154.0" y2="428.4" stroke="#555" stroke-width="0.9"/>
<line x1="204.3" y1="562.0" x2="229.6" y2="563.4" stroke="#555" stroke-width="0.9"/>
<circle cx="153.9" cy="506.9" r="7.0" fill="url(#gR3)"/>
<line x1="153.9" y1="500.5" x2="153.9" y2="480.7" stroke="#f07373" stroke-width="3.9"/>
<line x1="154.0" y1="428.4" x2="154.0" y2="402.2" stroke="#555" stroke-width="0.9"/>
<line x1="153.9" y1="465.3" x2="153.9" y2="480.7" stroke="#7fe77f" stroke-width="3.9"/>
<line x1="156.2" y1="511.3" x2="162.3" y2="522.8" stroke="#7f0e0e" stroke-width="3.9"/>
<circle cx="204.3" cy="562.0" r="7.0" fill="url(#gR3)"/>
<line x1="229.6" y1="563.4" x2="254.8" y2="564.9" stroke="#555" stroke-width="0.9"/>
<line x1="154.0" y1="402.2" x2="154.1" y2="376.1" stroke="#555" stroke-width="0.9"/>
<circle cx="154.0" cy="454.6" r="11.8" fill="url(#gG3)"/>
<line x1="154.0" y1="443.8" x2="154.0" y2="428.4" stroke="#64e164" stroke-width="3.9"/>
<line x1="210.4" y1="562.4" x2="229.6" y2="563.4" stroke="#ec5555" stroke-width="3.9"/>
<line x1="154.1" y1="376.1" x2="154.1" y2="349.9" stroke="#555" stroke-width="0.9"/>
<line x1="199.6" y1="558.8" x2="187.5" y2="550.3" stroke="#ec5555" stroke-width="3.9"/>
<line x1="164.3" y1="455.1" x2="179.2" y2="456.0" stroke="#64e164" stroke-width="3.9"/>
<line x1="154.0" y1="408.6" x2="154.0" y2="428.4" stroke="#ec5555" stroke-width="3.9"/>
<line x1="254.8" y1="564.9" x2="280.1" y2="566.3" stroke="#555" stroke-width="0.9"/>
<line x1="145.5" y1="563.4" x2="137.1" y2="567.6" stroke="#555" stroke-width="0.9"/>
<circle cx="154.0" cy="402.2" r="7.0" fill="url(#gR2)"/>
<line x1="154.1" y1="349.9" x2="179.4" y2="351.3" stroke="#555" stroke-width="0.9"/>
<line x1="244.5" y1="564.3" x2="229.6" y2="563.4" stroke="#64e164" stroke-width="3.9"/>
<line x1="198.3" y1="457.0" x2="179.2" y2="456.0" stroke="#ec5555" stroke-width="3.9"/>
<line x1="150.5" y1="456.3" x2="145.6" y2="458.8" stroke="#197619" stroke-width="3.9"/>
<line x1="166.8" y1="531.2" x2="162.3" y2="522.8" stroke="#cfa25c" stroke-width="3.9"/>
<line x1="160.1" y1="402.6" x2="179.3" y2="403.6" stroke="#ec5555" stroke-width="3.9"/>
<line x1="178.7" y1="544.2" x2="187.5" y2="550.3" stroke="#cfa25c" stroke-width="3.9"/>
<circle cx="254.8" cy="564.9" r="11.8" fill="url(#gG2)"/>
<line x1="280.1" y1="566.3" x2="305.3" y2="567.7" stroke="#555" stroke-width="0.9"/>
<circle cx="204.5" cy="457.4" r="7.0" fill="url(#gR2)"/>
<line x1="254.8" y1="554.1" x2="254.8" y2="538.7" stroke="#64e164" stroke-width="3.9"/>
<line x1="179.4" y1="351.3" x2="204.6" y2="352.7" stroke="#555" stroke-width="0.9"/>
<line x1="154.1" y1="349.9" x2="145.8" y2="354.1" stroke="#555" stroke-width="0.9"/>
<line x1="204.5" y1="451.0" x2="204.5" y2="431.2" stroke="#ec5555" stroke-width="3.9"/>
<line x1="265.1" y1="565.4" x2="280.1" y2="566.3" stroke="#64e164" stroke-width="3.9"/>
<circle cx="170.8" cy="538.7" r="11.8" fill="url(#gB2)"/>
<line x1="194.2" y1="404.5" x2="179.3" y2="403.6" stroke="#64e164" stroke-width="3.9"/>
<line x1="152.0" y1="403.2" x2="145.7" y2="406.4" stroke="#7f0e0e" stroke-width="3.9"/>
<line x1="254.9" y1="518.9" x2="254.8" y2="538.7" stroke="#e93737" stroke-width="3.9"/>
<line x1="162.8" y1="545.5" x2="153.9" y2="553.1" stroke="#c69240" stroke-width="3.9"/>
<line x1="204.5" y1="415.8" x2="204.5" y2="431.2" stroke="#48dc48" stroke-width="3.9"/>
<line x1="305.3" y1="567.7" x2="330.6" y2="569.1" stroke="#555" stroke-width="0.9"/>
<circle cx="254.9" cy="512.5" r="7.0" fill="url(#gR1)"/>
<circle cx="204.5" cy="405.1" r="11.8" fill="url(#gG1)"/>
<line x1="204.6" y1="352.7" x2="229.9" y2="354.1" stroke="#555" stroke-width="0.9"/>
<line x1="299.2" y1="567.3" x2="280.1" y2="566.3" stroke="#e93737" stroke-width="3.9"/>
<line x1="251.4" y1="566.6" x2="246.5" y2="569.1" stroke="#197619" stroke-width="3.9"/>
<line x1="204.5" y1="394.3" x2="204.6" y2="378.9" stroke="#48dc48" stroke-width="3.9"/>
<line x1="261.0" y1="512.9" x2="280.1" y2="513.9" stroke="#e93737" stroke-width="3.9"/>
<line x1="141.8" y1="563.6" x2="153.9" y2="553.1" stroke="#e93737" stroke-width="3.9"/>
<line x1="202.4" y1="458.4" x2="196.1" y2="461.6" stroke="#7f0e0e" stroke-width="3.9"/>
<line x1="174.7" y1="533.8" x2="179.2" y2="528.4" stroke="#694813" stroke-width="3.9"/>
<line x1="214.8" y1="405.6" x2="229.8" y2="406.5" stroke="#48dc48" stroke-width="3.9"/>
<circle cx="305.3" cy="567.7" r="7.0" fill="url(#gR1)"/>
<line x1="330.6" y1="569.1" x2="355.8" y2="570.5" stroke="#555" stroke-width="0.9"/>
<circle cx="137.1" cy="567.6" r="7.0" fill="url(#gR1)"/>
<line x1="204.6" y1="359.1" x2="204.6" y2="378.9" stroke="#e93737" stroke-width="3.9"/>
<line x1="137.1" y1="567.6" x2="128.8" y2="571.8" stroke="#555" stroke-width="0.9"/>
<line x1="305.3" y1="561.3" x2="305.3" y2="541.5" stroke="#e93737" stroke-width="3.9"/>
<circle cx="204.6" cy="352.7" r="7.0" fill="url(#gR1)"/>
<line x1="229.9" y1="354.1" x2="255.1" y2="355.6" stroke="#555" stroke-width="0.9"/>
<line x1="295.1" y1="514.8" x2="280.1" y2="513.9" stroke="#48dc48" stroke-width="3.9"/>
<line x1="252.9" y1="513.5" x2="246.5" y2="516.7" stroke="#7f0e0e" stroke-width="3.9"/>
<line x1="139.3" y1="462.0" x2="145.6" y2="458.8" stroke="#e93737" stroke-width="3.9"/>
<line x1="248.9" y1="407.5" x2="229.8" y2="406.5" stroke="#e93737" stroke-width="3.9"/>
<line x1="201.1" y1="406.8" x2="196.2" y2="409.3" stroke="#197619" stroke-width="3.9"/>
<line x1="305.4" y1="526.1" x2="305.3" y2="541.5" stroke="#48dc48" stroke-width="3.9"/>
<line x1="355.8" y1="570.5" x2="355.8" y2="544.3" stroke="#555" stroke-width="0.9"/>
<line x1="210.7" y1="353.1" x2="229.9" y2="354.1" stroke="#e93737" stroke-width="3.9"/>
<circle cx="305.4" cy="515.4" r="11.8" fill="url(#gG1)"/>
<circle cx="255.0" cy="407.9" r="7.0" fill="url(#gR0)"/>
<line x1="305.4" y1="504.6" x2="305.4" y2="489.2" stroke="#2dd72d" stroke-width="3.9"/>
<line x1="355.8" y1="544.3" x2="355.9" y2="518.2" stroke="#555" stroke-width="0.9"/>
<line x1="255.1" y1="355.6" x2="280.4" y2="357.0" stroke="#555" stroke-width="0.9"/>
<line x1="145.8" y1="354.1" x2="137.4" y2="358.3" stroke="#555" stroke-width="0.9"/>
<line x1="303.3" y1="568.7" x2="297.0" y2="571.9" stroke="#7f0e0e" stroke-width="3.9"/>
<line x1="255.0" y1="401.5" x2="255.1" y2="381.7" stroke="#e61919" stroke-width="3.9"/>
<line x1="135.1" y1="568.6" x2="128.8" y2="571.8" stroke="#7f0e0e" stroke-width="3.9"/>
<line x1="315.7" y1="515.9" x2="330.6" y2="516.8" stroke="#2dd72d" stroke-width="3.9"/>
<line x1="140.8" y1="408.9" x2="145.7" y2="406.4" stroke="#2dd72d" stroke-width="3.9"/>
<line x1="244.8" y1="355.0" x2="229.9" y2="354.1" stroke="#2dd72d" stroke-width="3.9"/>
<line x1="305.4" y1="469.4" x2="305.4" y2="489.2" stroke="#e61919" stroke-width="3.9"/>
<line x1="355.9" y1="518.2" x2="355.9" y2="492.0" stroke="#555" stroke-width="0.9"/>
<line x1="185.3" y1="521.0" x2="179.2" y2="528.4" stroke="#e61919" stroke-width="3.9"/>
<line x1="355.8" y1="570.5" x2="347.5" y2="574.7" stroke="#555" stroke-width="0.9"/>
<line x1="255.1" y1="366.3" x2="255.1" y2="381.7" stroke="#2dd72d" stroke-width="3.9"/>
<line x1="257.4" y1="412.3" x2="263.5" y2="423.8" stroke="#7f0e0e" stroke-width="3.9"/>
<circle cx="305.4" cy="463.0" r="7.0" fill="url(#gR0)"/>
<circle cx="137.3" cy="463.0" r="7.0" fill="url(#gR0)"/>
<circle cx="255.1" cy="355.6" r="11.8" fill="url(#gG0)"/>
<line x1="280.4" y1="357.0" x2="305.6" y2="358.4" stroke="#555" stroke-width="0.9"/>
<line x1="355.9" y1="492.0" x2="355.9" y2="465.9" stroke="#555" stroke-width="0.9"/>
<line x1="137.3" y1="456.6" x2="137.3" y2="436.8" stroke="#e61919" stroke-width="3.9"/>
<line x1="240.1" y1="572.3" x2="246.5" y2="569.1" stroke="#e61919" stroke-width="3.9"/>
<line x1="349.8" y1="517.8" x2="330.6" y2="516.8" stroke="#e61919" stroke-width="3.9"/>
<line x1="302.0" y1="517.1" x2="297.0" y2="519.6" stroke="#197619" stroke-width="3.9"/>
<line x1="311.6" y1="463.4" x2="330.7" y2="464.4" stroke="#e61919" stroke-width="3.9"/>
<line x1="191.2" y1="464.1" x2="196.1" y2="461.6" stroke="#2dd72d" stroke-width="3.9"/>
<line x1="143.4" y1="463.3" x2="162.5" y2="464.4" stroke="#e61919" stroke-width="3.9"/>
<line x1="300.8" y1="459.8" x2="288.7" y2="451.3" stroke="#e61919" stroke-width="3.9"/>
<line x1="265.4" y1="356.1" x2="280.4" y2="357.0" stroke="#2dd72d" stroke-width="3.9"/>
<line x1="355.9" y1="465.9" x2="356.0" y2="439.7" stroke="#555" stroke-width="0.9"/>
<line x1="137.3" y1="421.4" x2="137.3" y2="436.8" stroke="#2dd72d" stroke-width="3.9"/>
<circle cx="355.9" cy="518.2" r="7.0" fill="url(#gR0)"/>
<line x1="128.8" y1="571.8" x2="120.5" y2="576.1" stroke="#555" stroke-width="0.9"/>
<circle cx="187.7" cy="518.1" r="7.0" fill="url(#gR0)"/>
<circle cx="137.3" cy="410.6" r="11.8" fill="url(#gG0)"/>
<line x1="355.9" y1="511.8" x2="355.9" y2="492.0" stroke="#e61919" stroke-width="3.9"/>
<line x1="305.6" y1="358.4" x2="330.9" y2="359.8" stroke="#555" stroke-width="0.9"/>
<line x1="187.7" y1="511.8" x2="187.7" y2="492.0" stroke="#e61919" stroke-width="3.9"/>
<line x1="356.0" y1="439.7" x2="356.0" y2="413.5" stroke="#555" stroke-width="0.9"/>
<line x1="137.4" y1="399.9" x2="137.4" y2="384.5" stroke="#2dd72d" stroke-width="3.9"/>
<line x1="241.6" y1="519.2" x2="246.5" y2="516.7" stroke="#2dd72d" stroke-width="3.9"/>
<line x1="193.8" y1="518.5" x2="212.9" y2="519.5" stroke="#e61919" stroke-width="3.9"/>
<line x1="345.6" y1="465.3" x2="330.7" y2="464.4" stroke="#2dd72d" stroke-width="3.9"/>
<line x1="177.5" y1="465.2" x2="162.5" y2="464.4" stroke="#2dd72d" stroke-width="3.9"/>
<line x1="189.9" y1="412.5" x2="196.2" y2="409.3" stroke="#e61919" stroke-width="3.9"/>
<line x1="147.7" y1="411.2" x2="162.6" y2="412.1" stroke="#2dd72d" stroke-width="3.9"/>
<line x1="299.5" y1="358.0" x2="280.4" y2="357.0" stroke="#e61919" stroke-width="3.9"/>
<line x1="251.7" y1="357.3" x2="246.8" y2="359.8" stroke="#197619" stroke-width="3.9"/>
<line x1="267.9" y1="432.2" x2="263.5" y2="423.8" stroke="#be8223" stroke-width="3.9"/>
<line x1="355.9" y1="476.6" x2="355.9" y2="492.0" stroke="#2dd72d" stroke-width="3.9"/>
<line x1="187.8" y1="476.5" x2="187.7" y2="492.0" stroke="#2dd72d" stroke-width="3.9"/>
<circle cx="238.1" cy="573.3" r="7.0" fill="url(#gR0)"/>
<line x1="356.0" y1="413.5" x2="356.1" y2="387.4" stroke="#555" stroke-width="0.9"/>
<line x1="279.8" y1="445.2" x2="288.7" y2="451.3" stroke="#be8223" stroke-width="3.9"/>
<line x1="137.4" y1="364.7" x2="137.4" y2="384.5" stroke="#e61919" stroke-width="3.9"/>
<circle cx="355.9" cy="465.9" r="11.8" fill="url(#gG0)"/>
<circle cx="187.8" cy="465.8" r="11.8" fill="url(#gG0)"/>
<line x1="238.1" y1="566.9" x2="238.2" y2="547.1" stroke="#e61919" stroke-width="3.9"/>
<circle cx="305.6" cy="358.4" r="7.0" fill="url(#gR0)"/>
<line x1="330.9" y1="359.8" x2="356.1" y2="361.2" stroke="#555" stroke-width="0.9"/>
<circle cx="137.4" cy="358.3" r="7.0" fill="url(#gR0)"/>
<line x1="356.0" y1="455.1" x2="356.0" y2="439.7" stroke="#2dd72d" stroke-width="3.9"/>
<line x1="137.4" y1="358.3" x2="129.1" y2="362.5" stroke="#555" stroke-width="0.9"/>
<line x1="187.8" y1="455.1" x2="187.8" y2="439.6" stroke="#2dd72d" stroke-width="3.9"/>
<line x1="292.0" y1="574.4" x2="297.0" y2="571.9" stroke="#2dd72d" stroke-width="3.9"/>
<line x1="244.2" y1="573.6" x2="263.4" y2="574.7" stroke="#e61919" stroke-width="3.9"/>
<line x1="123.9" y1="574.3" x2="128.8" y2="571.8" stroke="#2dd72d" stroke-width="3.9"/>
<line x1="356.1" y1="387.4" x2="356.1" y2="361.2" stroke="#555" stroke-width="0.9"/>
<line x1="227.9" y1="520.4" x2="212.9" y2="519.5" stroke="#2dd72d" stroke-width="3.9"/>
<line x1="185.7" y1="519.1" x2="179.4" y2="522.3" stroke="#7f0e0e" stroke-width="3.9"/>
<line x1="198.1" y1="466.4" x2="213.0" y2="467.2" stroke="#2dd72d" stroke-width="3.9"/>
<circle cx="271.9" cy="439.7" r="11.8" fill="url(#gB0)"/>
<line x1="181.7" y1="413.1" x2="162.6" y2="412.1" stroke="#e61919" stroke-width="3.9"/>
<line x1="133.9" y1="412.4" x2="129.0" y2="414.9" stroke="#197619" stroke-width="3.9"/>
<line x1="238.2" y1="531.7" x2="238.2" y2="547.1" stroke="#2dd72d" stroke-width="3.9"/>
<line x1="356.0" y1="419.9" x2="356.0" y2="439.7" stroke="#e61919" stroke-width="3.9"/>
<line x1="187.8" y1="419.8" x2="187.8" y2="439.6" stroke="#e61919" stroke-width="3.9"/>
<line x1="347.5" y1="574.7" x2="339.1" y2="578.9" stroke="#555" stroke-width="0.9"/>
<line x1="264.0" y1="446.5" x2="255.1" y2="454.1" stroke="#be8223" stroke-width="3.9"/>
<circle cx="238.2" cy="520.9" r="11.8" fill="url(#gG0)"/>
<circle cx="356.0" cy="413.5" r="7.0" fill="url(#gR0)"/>
<circle cx="187.8" cy="413.5" r="7.0" fill="url(#gR0)"/>
<line x1="238.2" y1="510.2" x2="238.2" y2="494.8" stroke="#2dd72d" stroke-width="3.9"/>
<line x1="278.3" y1="575.5" x2="263.4" y2="574.7" stroke="#2dd72d" stroke-width="3.9"/>
<line x1="290.7" y1="522.8" x2="297.0" y2="519.6" stroke="#e61919" stroke-width="3.9"/>
<line x1="248.5" y1="521.5" x2="263.4" y2="522.4" stroke="#2dd72d" stroke-width="3.9"/>
<line x1="352.5" y1="467.6" x2="347.6" y2="470.1" stroke="#197619" stroke-width="3.9"/>
<line x1="232.2" y1="468.3" x2="213.0" y2="467.2" stroke="#e61919" stroke-width="3.9"/>
<line x1="184.4" y1="467.5" x2="179.4" y2="470.0" stroke="#197619" stroke-width="3.9"/>
<line x1="243.0" y1="464.6" x2="255.1" y2="454.1" stroke="#e61919" stroke-width="3.9"/>
<line x1="303.6" y1="359.4" x2="297.3" y2="362.6" stroke="#7f0e0e" stroke-width="3.9"/>
<line x1="275.9" y1="434.8" x2="280.4" y2="429.4" stroke="#694813" stroke-width="3.9"/>
<line x1="135.4" y1="359.3" x2="129.1" y2="362.5" stroke="#7f0e0e" stroke-width="3.9"/>
<line x1="238.3" y1="475.0" x2="238.2" y2="494.8" stroke="#e61919" stroke-width="3.9"/>
<circle cx="288.6" cy="576.1" r="11.8" fill="url(#gG0)"/>
<circle cx="120.5" cy="576.1" r="11.8" fill="url(#gG0)"/>
<line x1="120.5" y1="576.1" x2="112.1" y2="580.3" stroke="#555" stroke-width="0.9"/>
<circle cx="238.3" cy="468.6" r="7.0" fill="url(#gR0)"/>
<line x1="288.6" y1="565.4" x2="288.7" y2="549.9" stroke="#2dd72d" stroke-width="3.9"/>
<line x1="120.5" y1="565.3" x2="120.5" y2="549.9" stroke="#2dd72d" stroke-width="3.9"/>
<line x1="356.1" y1="361.2" x2="347.8" y2="365.4" stroke="#555" stroke-width="0.9"/>
<line x1="190.2" y1="410.6" x2="196.3" y2="403.2" stroke="#7f0e0e" stroke-width="3.9"/>
<line x1="298.9" y1="576.7" x2="313.9" y2="577.5" stroke="#2dd72d" stroke-width="3.9"/>
<line x1="130.8" y1="576.6" x2="145.7" y2="577.5" stroke="#2dd72d" stroke-width="3.9"/>
<line x1="282.6" y1="523.4" x2="263.4" y2="522.4" stroke="#e61919" stroke-width="3.9"/>
<line x1="234.8" y1="522.7" x2="229.9" y2="525.2" stroke="#197619" stroke-width="3.9"/>
<line x1="354.0" y1="414.5" x2="347.7" y2="417.7" stroke="#7f0e0e" stroke-width="3.9"/>
<line x1="288.7" y1="530.1" x2="288.7" y2="549.9" stroke="#e61919" stroke-width="3.9"/>
<line x1="240.4" y1="363.0" x2="246.8" y2="359.8" stroke="#e61919" stroke-width="3.9"/>
<line x1="120.5" y1="530.1" x2="120.5" y2="549.9" stroke="#e61919" stroke-width="3.9"/>
<circle cx="288.7" cy="523.8" r="7.0" fill="url(#gR0)"/>
<circle cx="120.5" cy="523.7" r="7.0" fill="url(#gR0)"/>
<line x1="129.1" y1="362.5" x2="120.8" y2="366.8" stroke="#555" stroke-width="0.9"/>
<line x1="333.0" y1="578.6" x2="313.9" y2="577.5" stroke="#e61919" stroke-width="3.9"/>
<line x1="285.2" y1="577.8" x2="280.3" y2="580.3" stroke="#197619" stroke-width="3.9"/>
<line x1="164.8" y1="578.5" x2="145.7" y2="577.5" stroke="#e61919" stroke-width="3.9"/>
<line x1="117.0" y1="577.8" x2="112.1" y2="580.3" stroke="#197619" stroke-width="3.9"/>
<line x1="174.4" y1="524.8" x2="179.4" y2="522.3" stroke="#2dd72d" stroke-width="3.9"/>
<line x1="126.6" y1="524.1" x2="145.8" y2="525.1" stroke="#e61919" stroke-width="3.9"/>
<line x1="236.3" y1="469.6" x2="229.9" y2="472.8" stroke="#7f0e0e" stroke-width="3.9"/>
<line x1="122.7" y1="418.1" x2="129.0" y2="414.9" stroke="#e61919" stroke-width="3.9"/>
<circle cx="339.1" cy="578.9" r="7.0" fill="url(#gR0)"/>
<line x1="339.1" y1="578.9" x2="330.8" y2="583.1" stroke="#555" stroke-width="0.9"/>
<circle cx="171.0" cy="578.9" r="7.0" fill="url(#gR0)"/>
<line x1="286.5" y1="422.0" x2="280.4" y2="429.4" stroke="#e61919" stroke-width="3.9"/>
<line x1="291.1" y1="520.9" x2="297.2" y2="513.5" stroke="#7f0e0e" stroke-width="3.9"/>
<line x1="171.0" y1="572.5" x2="171.0" y2="552.7" stroke="#e61919" stroke-width="3.9"/>
<circle cx="238.4" cy="364.0" r="7.0" fill="url(#gR0)"/>
<line x1="160.7" y1="526.0" x2="145.8" y2="525.1" stroke="#2dd72d" stroke-width="3.9"/>
<line x1="341.3" y1="473.3" x2="347.6" y2="470.1" stroke="#e61919" stroke-width="3.9"/>
<line x1="118.5" y1="524.7" x2="112.2" y2="527.9" stroke="#7f0e0e" stroke-width="3.9"/>
<line x1="200.8" y1="397.8" x2="196.3" y2="403.2" stroke="#be8223" stroke-width="3.9"/>
<line x1="173.1" y1="473.2" x2="179.4" y2="470.0" stroke="#e61919" stroke-width="3.9"/>
<line x1="233.7" y1="368.0" x2="221.6" y2="378.5" stroke="#e61919" stroke-width="3.9"/>
<line x1="292.3" y1="365.1" x2="297.3" y2="362.6" stroke="#2dd72d" stroke-width="3.9"/>
<line x1="244.5" y1="364.3" x2="263.7" y2="365.4" stroke="#e61919" stroke-width="3.9"/>
<line x1="171.0" y1="537.3" x2="171.0" y2="552.7" stroke="#2dd72d" stroke-width="3.9"/>
<line x1="124.2" y1="365.0" x2="129.1" y2="362.5" stroke="#2dd72d" stroke-width="3.9"/>
<line x1="112.1" y1="580.3" x2="103.8" y2="584.5" stroke="#555" stroke-width="0.9"/>
<circle cx="171.0" cy="526.6" r="11.8" fill="url(#gG0)"/>
<circle cx="288.9" cy="419.1" r="7.0" fill="url(#gR0)"/>
<circle cx="120.7" cy="419.1" r="7.0" fill="url(#gR0)"/>
<line x1="347.8" y1="365.4" x2="339.4" y2="369.6" stroke="#555" stroke-width="0.9"/>
<line x1="171.0" y1="515.8" x2="171.1" y2="500.4" stroke="#2dd72d" stroke-width="3.9"/>
<line x1="212.7" y1="386.1" x2="221.6" y2="378.5" stroke="#be8223" stroke-width="3.9"/>
<line x1="337.1" y1="579.9" x2="330.8" y2="583.1" stroke="#7f0e0e" stroke-width="3.9"/>
<line x1="288.9" y1="412.8" x2="288.9" y2="393.0" stroke="#e61919" stroke-width="3.9"/>
<line x1="168.9" y1="579.9" x2="162.6" y2="583.1" stroke="#7f0e0e" stroke-width="3.9"/>
<line x1="120.7" y1="412.7" x2="120.7" y2="392.9" stroke="#e61919" stroke-width="3.9"/>
<line x1="223.5" y1="528.4" x2="229.9" y2="525.2" stroke="#e61919" stroke-width="3.9"/>
<line x1="181.3" y1="527.1" x2="196.3" y2="528.0" stroke="#2dd72d" stroke-width="3.9"/>
<line x1="342.8" y1="420.2" x2="347.7" y2="417.7" stroke="#2dd72d" stroke-width="3.9"/>
<line x1="295.0" y1="419.5" x2="314.1" y2="420.5" stroke="#e61919" stroke-width="3.9"/>
<line x1="278.6" y1="366.2" x2="263.7" y2="365.4" stroke="#2dd72d" stroke-width="3.9"/>
<circle cx="204.8" cy="392.9" r="11.8" fill="url(#gB0)"/>
<line x1="171.1" y1="480.6" x2="171.1" y2="500.4" stroke="#e61919" stroke-width="3.9"/>
<line x1="288.9" y1="377.5" x2="288.9" y2="393.0" stroke="#2dd72d" stroke-width="3.9"/>
<line x1="120.7" y1="377.5" x2="120.7" y2="392.9" stroke="#2dd72d" stroke-width="3.9"/>
<line x1="123.0" y1="423.5" x2="129.1" y2="435.0" stroke="#7f0e0e" stroke-width="3.9"/>
<circle cx="339.3" cy="474.3" r="7.0" fill="url(#gR0)"/>
<circle cx="171.1" cy="474.2" r="7.0" fill="url(#gR0)"/>
<circle cx="288.9" cy="366.8" r="11.8" fill="url(#gG0)"/>
<circle cx="120.8" cy="366.8" r="11.8" fill="url(#gG0)"/>
<line x1="339.3" y1="467.9" x2="339.3" y2="448.1" stroke="#e61919" stroke-width="3.9"/>
<line x1="120.8" y1="366.8" x2="112.4" y2="371.0" stroke="#555" stroke-width="0.9"/>
<line x1="196.9" y1="387.4" x2="188.0" y2="381.3" stroke="#be8223" stroke-width="3.9"/>
<line x1="301.7" y1="508.1" x2="297.2" y2="513.5" stroke="#be8223" stroke-width="3.9"/>
<line x1="274.0" y1="583.5" x2="280.3" y2="580.3" stroke="#e61919" stroke-width="3.9"/>
<line x1="334.6" y1="478.3" x2="322.5" y2="488.8" stroke="#e61919" stroke-width="3.9"/>
<line x1="105.8" y1="583.5" x2="112.1" y2="580.3" stroke="#e61919" stroke-width="3.9"/>
<line x1="215.4" y1="529.0" x2="196.3" y2="528.0" stroke="#e61919" stroke-width="3.9"/>
<line x1="167.6" y1="528.3" x2="162.7" y2="530.8" stroke="#197619" stroke-width="3.9"/>
<line x1="208.8" y1="400.4" x2="213.2" y2="408.8" stroke="#694813" stroke-width="3.9"/>
<line x1="225.0" y1="475.3" x2="229.9" y2="472.8" stroke="#2dd72d" stroke-width="3.9"/>
<line x1="177.2" y1="474.6" x2="196.4" y2="475.6" stroke="#e61919" stroke-width="3.9"/>
<line x1="329.0" y1="421.4" x2="314.1" y2="420.5" stroke="#2dd72d" stroke-width="3.9"/>
<line x1="286.8" y1="420.1" x2="280.5" y2="423.3" stroke="#7f0e0e" stroke-width="3.9"/>
<line x1="299.2" y1="367.4" x2="314.2" y2="368.2" stroke="#2dd72d" stroke-width="3.9"/>
<line x1="166.4" y1="471.0" x2="154.3" y2="462.5" stroke="#e61919" stroke-width="3.9"/>
<line x1="131.1" y1="367.3" x2="146.0" y2="368.2" stroke="#2dd72d" stroke-width="3.9"/>
<line x1="339.3" y1="432.7" x2="339.3" y2="448.1" stroke="#2dd72d" stroke-width="3.9"/>
<line x1="330.8" y1="583.1" x2="322.5" y2="587.4" stroke="#555" stroke-width="0.9"/>
<circle cx="221.5" cy="529.4" r="7.0" fill="url(#gR0)"/>
<line x1="313.6" y1="496.4" x2="322.5" y2="488.8" stroke="#be8223" stroke-width="3.9"/>
<circle cx="339.4" cy="421.9" r="11.8" fill="url(#gG0)"/>
<line x1="221.5" y1="523.0" x2="221.6" y2="503.2" stroke="#e61919" stroke-width="3.9"/>
<line x1="339.4" y1="411.2" x2="339.4" y2="395.8" stroke="#2dd72d" stroke-width="3.9"/>
<circle cx="305.7" cy="503.2" r="11.8" fill="url(#gB0)"/>
<line x1="107.3" y1="530.4" x2="112.2" y2="527.9" stroke="#2dd72d" stroke-width="3.9"/>
<line x1="211.3" y1="476.5" x2="196.4" y2="475.6" stroke="#2dd72d" stroke-width="3.9"/>
<line x1="175.9" y1="372.8" x2="188.0" y2="381.3" stroke="#e61919" stroke-width="3.9"/>
<line x1="333.3" y1="369.3" x2="314.2" y2="368.2" stroke="#e61919" stroke-width="3.9"/>
<line x1="285.5" y1="368.5" x2="280.6" y2="371.0" stroke="#197619" stroke-width="3.9"/>
<line x1="165.1" y1="369.2" x2="146.0" y2="368.2" stroke="#e61919" stroke-width="3.9"/>
<line x1="117.3" y1="368.5" x2="112.4" y2="371.0" stroke="#197619" stroke-width="3.9"/>
<line x1="133.6" y1="443.4" x2="129.1" y2="435.0" stroke="#be8223" stroke-width="3.9"/>
<line x1="221.6" y1="487.8" x2="221.6" y2="503.2" stroke="#2dd72d" stroke-width="3.9"/>
<line x1="223.9" y1="533.8" x2="230.0" y2="545.3" stroke="#7f0e0e" stroke-width="3.9"/>
<circle cx="272.0" cy="584.5" r="7.0" fill="url(#gR0)"/>
<line x1="339.4" y1="376.0" x2="339.4" y2="395.8" stroke="#e61919" stroke-width="3.9"/>
<circle cx="103.8" cy="584.5" r="7.0" fill="url(#gR0)"/>
<line x1="145.5" y1="456.4" x2="154.3" y2="462.5" stroke="#be8223" stroke-width="3.9"/>
<line x1="103.8" y1="584.5" x2="95.4" y2="588.7" stroke="#555" stroke-width="0.9"/>
<circle cx="221.6" cy="477.1" r="11.8" fill="url(#gG0)"/>
<line x1="297.7" y1="497.7" x2="288.9" y2="491.6" stroke="#be8223" stroke-width="3.9"/>
<circle cx="339.4" cy="369.6" r="7.0" fill="url(#gR0)"/>
<line x1="103.8" y1="578.1" x2="103.8" y2="558.3" stroke="#e61919" stroke-width="3.9"/>
<line x1="339.4" y1="369.6" x2="331.1" y2="373.8" stroke="#555" stroke-width="0.9"/>
<circle cx="171.3" cy="369.6" r="7.0" fill="url(#gR0)"/>
<line x1="219.3" y1="420.3" x2="213.2" y2="408.8" stroke="#e61919" stroke-width="3.9"/>
<line x1="221.6" y1="466.3" x2="221.6" y2="450.9" stroke="#2dd72d" stroke-width="3.9"/>
<line x1="309.6" y1="510.7" x2="314.1" y2="519.1" stroke="#694813" stroke-width="3.9"/>
<line x1="325.9" y1="585.6" x2="330.8" y2="583.1" stroke="#2dd72d" stroke-width="3.9"/>
<line x1="278.1" y1="584.9" x2="297.2" y2="585.9" stroke="#e61919" stroke-width="3.9"/>
<line x1="157.7" y1="585.6" x2="162.6" y2="583.1" stroke="#2dd72d" stroke-width="3.9"/>
<line x1="109.9" y1="584.8" x2="129.0" y2="585.9" stroke="#e61919" stroke-width="3.9"/>
<line x1="267.3" y1="581.3" x2="255.2" y2="572.8" stroke="#e61919" stroke-width="3.9"/>
<line x1="231.9" y1="477.6" x2="246.9" y2="478.5" stroke="#2dd72d" stroke-width="3.9"/>
<line x1="335.9" y1="423.7" x2="331.0" y2="426.2" stroke="#197619" stroke-width="3.9"/>
<circle cx="137.6" cy="450.9" r="11.8" fill="url(#gB0)"/>
<line x1="103.8" y1="542.9" x2="103.8" y2="558.3" stroke="#2dd72d" stroke-width="3.9"/>
<line x1="221.7" y1="431.1" x2="221.6" y2="450.9" stroke="#e61919" stroke-width="3.9"/>
<line x1="129.6" y1="457.7" x2="120.7" y2="465.3" stroke="#be8223" stroke-width="3.9"/>
<circle cx="103.9" cy="532.1" r="11.8" fill="url(#gG0)"/>
<circle cx="221.7" cy="424.7" r="7.0" fill="url(#gR0)"/>
<line x1="103.9" y1="521.4" x2="103.9" y2="506.0" stroke="#2dd72d" stroke-width="3.9"/>
<line x1="112.4" y1="371.0" x2="104.1" y2="375.2" stroke="#555" stroke-width="0.9"/>
<line x1="312.1" y1="586.8" x2="297.2" y2="585.9" stroke="#2dd72d" stroke-width="3.9"/>
<line x1="276.8" y1="483.1" x2="288.9" y2="491.6" stroke="#e61919" stroke-width="3.9"/>
<line x1="144.0" y1="586.7" x2="129.0" y2="585.9" stroke="#2dd72d" stroke-width="3.9"/>
<line x1="156.4" y1="534.0" x2="162.7" y2="530.8" stroke="#e61919" stroke-width="3.9"/>
<line x1="114.2" y1="532.7" x2="129.1" y2="533.6" stroke="#2dd72d" stroke-width="3.9"/>
<line x1="266.0" y1="479.5" x2="246.9" y2="478.5" stroke="#e61919" stroke-width="3.9"/>
<line x1="218.2" y1="478.8" x2="213.3" y2="481.3" stroke="#197619" stroke-width="3.9"/>
<line x1="234.4" y1="553.7" x2="230.0" y2="545.3" stroke="#be8223" stroke-width="3.9"/>
<line x1="275.6" y1="425.8" x2="280.5" y2="423.3" stroke="#2dd72d" stroke-width="3.9"/>
<line x1="227.8" y1="425.1" x2="246.9" y2="426.1" stroke="#e61919" stroke-width="3.9"/>
<line x1="337.4" y1="370.6" x2="331.1" y2="373.8" stroke="#7f0e0e" stroke-width="3.9"/>
<line x1="108.6" y1="475.8" x2="120.7" y2="465.3" stroke="#e61919" stroke-width="3.9"/>
<line x1="169.2" y1="370.6" x2="162.9" y2="373.8" stroke="#7f0e0e" stroke-width="3.9"/>
<line x1="141.5" y1="446.0" x2="146.0" y2="440.6" stroke="#694813" stroke-width="3.9"/>
<line x1="246.3" y1="566.7" x2="255.2" y2="572.8" stroke="#be8223" stroke-width="3.9"/>
<line x1="103.9" y1="486.2" x2="103.9" y2="506.0" stroke="#e61919" stroke-width="3.9"/>
<circle cx="322.5" cy="587.4" r="11.8" fill="url(#gG0)"/>
<line x1="322.5" y1="587.4" x2="314.1" y2="591.6" stroke="#555" stroke-width="0.9"/>
<circle cx="154.3" cy="587.3" r="11.8" fill="url(#gG0)"/>
<circle cx="272.1" cy="479.9" r="7.0" fill="url(#gR0)"/>
<line x1="320.2" y1="530.6" x2="314.1" y2="519.1" stroke="#e61919" stroke-width="3.9"/>
<circle cx="103.9" cy="479.8" r="7.0" fill="url(#gR0)"/>
<line x1="322.5" y1="576.6" x2="322.5" y2="561.2" stroke="#2dd72d" stroke-width="3.9"/>
<line x1="154.3" y1="576.6" x2="154.3" y2="561.1" stroke="#2dd72d" stroke-width="3.9"/>
<line x1="272.1" y1="473.5" x2="272.1" y2="453.7" stroke="#e61919" stroke-width="3.9"/>
<line x1="164.6" y1="587.9" x2="179.5" y2="588.7" stroke="#2dd72d" stroke-width="3.9"/>
<circle cx="238.4" cy="561.2" r="11.8" fill="url(#gB0)"/>
<line x1="148.2" y1="534.6" x2="129.1" y2="533.6" stroke="#e61919" stroke-width="3.9"/>
<line x1="100.4" y1="533.9" x2="95.5" y2="536.4" stroke="#197619" stroke-width="3.9"/>
<line x1="261.9" y1="427.0" x2="246.9" y2="426.1" stroke="#2dd72d" stroke-width="3.9"/>
<line x1="219.7" y1="425.7" x2="213.3" y2="428.9" stroke="#7f0e0e" stroke-width="3.9"/>
<line x1="322.5" y1="541.4" x2="322.5" y2="561.2" stroke="#e61919" stroke-width="3.9"/>
<line x1="274.3" y1="374.2" x2="280.6" y2="371.0" stroke="#e61919" stroke-width="3.9"/>
<line x1="154.3" y1="541.3" x2="154.3" y2="561.1" stroke="#e61919" stroke-width="3.9"/>
<line x1="106.1" y1="374.2" x2="112.4" y2="371.0" stroke="#e61919" stroke-width="3.9"/>
<line x1="230.5" y1="568.0" x2="221.6" y2="575.6" stroke="#be8223" stroke-width="3.9"/>
<line x1="272.2" y1="438.3" x2="272.1" y2="453.7" stroke="#2dd72d" stroke-width="3.9"/>
<circle cx="322.5" cy="535.0" r="7.0" fill="url(#gR0)"/>
<line x1="95.4" y1="588.7" x2="87.1" y2="592.9" stroke="#555" stroke-width="0.9"/>
<circle cx="154.3" cy="535.0" r="7.0" fill="url(#gR0)"/>
<circle cx="272.2" cy="427.6" r="11.8" fill="url(#gG0)"/>
<line x1="331.1" y1="373.8" x2="322.8" y2="378.1" stroke="#555" stroke-width="0.9"/>
<line x1="319.0" y1="589.1" x2="314.1" y2="591.6" stroke="#197619" stroke-width="3.9"/>
<line x1="272.2" y1="416.8" x2="272.2" y2="401.4" stroke="#2dd72d" stroke-width="3.9"/>
<line x1="198.7" y1="589.8" x2="179.5" y2="588.7" stroke="#e61919" stroke-width="3.9"/>
<line x1="150.9" y1="589.0" x2="145.9" y2="591.5" stroke="#197619" stroke-width="3.9"/>
<line x1="209.5" y1="586.1" x2="221.6" y2="575.6" stroke="#e61919" stroke-width="3.9"/>
<line x1="270.1" y1="480.9" x2="263.8" y2="484.1" stroke="#7f0e0e" stroke-width="3.9"/>
<line x1="242.4" y1="556.3" x2="246.9" y2="550.9" stroke="#694813" stroke-width="3.9"/>
<line x1="101.9" y1="480.8" x2="95.6" y2="484.0" stroke="#7f0e0e" stroke-width="3.9"/>
<line x1="324.7" y1="429.4" x2="331.0" y2="426.2" stroke="#e61919" stroke-width="3.9"/>
<line x1="282.5" y1="428.1" x2="297.4" y2="429.0" stroke="#2dd72d" stroke-width="3.9"/>
<circle cx="204.8" cy="590.1" r="7.0" fill="url(#gR0)"/>
<line x1="272.2" y1="381.6" x2="272.2" y2="401.4" stroke="#e61919" stroke-width="3.9"/>
<line x1="152.1" y1="433.2" x2="146.0" y2="440.6" stroke="#e61919" stroke-width="3.9"/>
<line x1="156.7" y1="532.1" x2="162.8" y2="524.7" stroke="#7f0e0e" stroke-width="3.9"/>
<circle cx="272.3" cy="375.2" r="7.0" fill="url(#gR0)"/>
<circle cx="104.1" cy="375.2" r="7.0" fill="url(#gR0)"/>
<line x1="104.1" y1="375.2" x2="95.7" y2="379.4" stroke="#555" stroke-width="0.9"/>
<line x1="320.5" y1="536.0" x2="314.2" y2="539.2" stroke="#7f0e0e" stroke-width="3.9"/>
<line x1="206.9" y1="484.5" x2="213.3" y2="481.3" stroke="#e61919" stroke-width="3.9"/>
<line x1="316.6" y1="430.0" x2="297.4" y2="429.0" stroke="#e61919" stroke-width="3.9"/>
<line x1="268.8" y1="429.3" x2="263.8" y2="431.8" stroke="#197619" stroke-width="3.9"/>
<line x1="326.2" y1="376.3" x2="331.1" y2="373.8" stroke="#2dd72d" stroke-width="3.9"/>
<line x1="278.4" y1="375.6" x2="297.5" y2="376.6" stroke="#e61919" stroke-width="3.9"/>
<line x1="158.0" y1="376.3" x2="162.9" y2="373.8" stroke="#2dd72d" stroke-width="3.9"/>
<line x1="110.2" y1="375.5" x2="129.3" y2="376.6" stroke="#e61919" stroke-width="3.9"/>
<line x1="87.1" y1="592.9" x2="87.1" y2="566.7" stroke="#555" stroke-width="0.9"/>
<line x1="314.1" y1="591.6" x2="305.8" y2="595.8" stroke="#555" stroke-width="0.9"/>
<line x1="87.1" y1="592.9" x2="112.4" y2="594.3" stroke="#555" stroke-width="0.9"/>
<circle cx="322.7" cy="430.4" r="7.0" fill="url(#gR0)"/>
<circle cx="154.5" cy="430.3" r="7.0" fill="url(#gR0)"/>
<line x1="87.1" y1="566.7" x2="87.2" y2="540.6" stroke="#555" stroke-width="0.9"/>
<line x1="322.7" y1="424.0" x2="322.7" y2="404.2" stroke="#e61919" stroke-width="3.9"/>
<line x1="202.8" y1="591.1" x2="196.4" y2="594.3" stroke="#7f0e0e" stroke-width="3.9"/>
<line x1="154.5" y1="424.0" x2="154.5" y2="404.2" stroke="#e61919" stroke-width="3.9"/>
<line x1="89.2" y1="539.6" x2="95.5" y2="536.4" stroke="#e61919" stroke-width="3.9"/>
<line x1="208.4" y1="431.4" x2="213.3" y2="428.9" stroke="#2dd72d" stroke-width="3.9"/>
<line x1="160.6" y1="430.7" x2="179.8" y2="431.7" stroke="#e61919" stroke-width="3.9"/>
<line x1="312.4" y1="377.5" x2="297.5" y2="376.6" stroke="#2dd72d" stroke-width="3.9"/>
<line x1="144.3" y1="377.4" x2="129.3" y2="376.6" stroke="#2dd72d" stroke-width="3.9"/>
<line x1="253.0" y1="543.5" x2="246.9" y2="550.9" stroke="#e61919" stroke-width="3.9"/>
<line x1="87.2" y1="540.6" x2="87.2" y2="514.4" stroke="#555" stroke-width="0.9"/>
<line x1="322.7" y1="388.8" x2="322.7" y2="404.2" stroke="#2dd72d" stroke-width="3.9"/>
<line x1="154.6" y1="388.7" x2="154.5" y2="404.2" stroke="#2dd72d" stroke-width="3.9"/>
<line x1="112.4" y1="594.3" x2="137.6" y2="595.7" stroke="#555" stroke-width="0.9"/>
<circle cx="204.9" cy="485.5" r="7.0" fill="url(#gR0)"/>
<circle cx="322.8" cy="378.1" r="11.8" fill="url(#gG0)"/>
<line x1="322.8" y1="378.1" x2="314.4" y2="382.3" stroke="#555" stroke-width="0.9"/>
<circle cx="154.6" cy="378.0" r="11.8" fill="url(#gG0)"/>
<line x1="204.9" y1="479.1" x2="205.0" y2="459.3" stroke="#e61919" stroke-width="3.9"/>
<line x1="307.8" y1="594.8" x2="314.1" y2="591.6" stroke="#e61919" stroke-width="3.9"/>
<line x1="87.2" y1="514.4" x2="87.3" y2="488.3" stroke="#555" stroke-width="0.9"/>
<line x1="167.3" y1="519.3" x2="162.8" y2="524.7" stroke="#be8223" stroke-width="3.9"/>
<line x1="139.6" y1="594.7" x2="145.9" y2="591.5" stroke="#e61919" stroke-width="3.9"/>
<line x1="200.2" y1="489.5" x2="188.1" y2="500.0" stroke="#e61919" stroke-width="3.9"/>
<line x1="258.8" y1="486.6" x2="263.8" y2="484.1" stroke="#2dd72d" stroke-width="3.9"/>
<line x1="211.0" y1="485.8" x2="230.2" y2="486.9" stroke="#e61919" stroke-width="3.9"/>
<line x1="90.7" y1="486.5" x2="95.6" y2="484.0" stroke="#2dd72d" stroke-width="3.9"/>
<line x1="194.7" y1="432.6" x2="179.8" y2="431.7" stroke="#2dd72d" stroke-width="3.9"/>
<line x1="152.5" y1="431.3" x2="146.2" y2="434.5" stroke="#7f0e0e" stroke-width="3.9"/>
<line x1="164.9" y1="378.6" x2="179.8" y2="379.4" stroke="#2dd72d" stroke-width="3.9"/>
<line x1="205.0" y1="443.9" x2="205.0" y2="459.3" stroke="#2dd72d" stroke-width="3.9"/>
<line x1="87.3" y1="488.3" x2="87.3" y2="462.1" stroke="#555" stroke-width="0.9"/>
<line x1="137.6" y1="595.7" x2="162.9" y2="597.1" stroke="#555" stroke-width="0.9"/>
<circle cx="255.3" cy="540.6" r="7.0" fill="url(#gR0)"/>
<circle cx="87.2" cy="540.6" r="7.0" fill="url(#gR0)"/>
<line x1="179.2" y1="507.6" x2="188.1" y2="500.0" stroke="#be8223" stroke-width="3.9"/>
<circle cx="205.0" cy="433.1" r="11.8" fill="url(#gG0)"/>
<line x1="255.4" y1="534.3" x2="255.4" y2="514.5" stroke="#e61919" stroke-width="3.9"/>
<line x1="87.2" y1="534.2" x2="87.2" y2="514.4" stroke="#e61919" stroke-width="3.9"/>
<line x1="95.7" y1="379.4" x2="87.4" y2="383.6" stroke="#555" stroke-width="0.9"/>
<line x1="205.0" y1="422.4" x2="205.0" y2="407.0" stroke="#2dd72d" stroke-width="3.9"/>
<line x1="309.3" y1="541.7" x2="314.2" y2="539.2" stroke="#2dd72d" stroke-width="3.9"/>
<line x1="261.5" y1="541.0" x2="280.6" y2="542.0" stroke="#e61919" stroke-width="3.9"/>
<line x1="87.3" y1="462.1" x2="87.3" y2="435.9" stroke="#555" stroke-width="0.9"/>
<line x1="245.1" y1="487.7" x2="230.2" y2="486.9" stroke="#2dd72d" stroke-width="3.9"/>
<circle cx="171.3" cy="514.4" r="11.8" fill="url(#gB0)"/>
<line x1="257.5" y1="435.0" x2="263.8" y2="431.8" stroke="#e61919" stroke-width="3.9"/>
<line x1="215.3" y1="433.7" x2="230.2" y2="434.6" stroke="#2dd72d" stroke-width="3.9"/>
<line x1="319.3" y1="379.8" x2="314.4" y2="382.3" stroke="#197619" stroke-width="3.9"/>
<line x1="199.0" y1="380.5" x2="179.8" y2="379.4" stroke="#e61919" stroke-width="3.9"/>
<line x1="151.2" y1="379.7" x2="146.2" y2="382.2" stroke="#197619" stroke-width="3.9"/>
<line x1="255.4" y1="499.0" x2="255.4" y2="514.5" stroke="#2dd72d" stroke-width="3.9"/>
<line x1="87.2" y1="499.0" x2="87.2" y2="514.4" stroke="#2dd72d" stroke-width="3.9"/>
<circle cx="305.8" cy="595.8" r="7.0" fill="url(#gR0)"/>
<line x1="305.8" y1="595.8" x2="297.4" y2="600.0" stroke="#555" stroke-width="0.9"/>
<circle cx="137.6" cy="595.7" r="7.0" fill="url(#gR0)"/>
<line x1="205.1" y1="387.2" x2="205.0" y2="407.0" stroke="#e61919" stroke-width="3.9"/>
<line x1="162.9" y1="597.1" x2="188.1" y2="598.6" stroke="#555" stroke-width="0.9"/>
<line x1="87.3" y1="435.9" x2="87.4" y2="409.8" stroke="#555" stroke-width="0.9"/>
<circle cx="255.4" cy="488.3" r="11.8" fill="url(#gG0)"/>
<circle cx="87.3" cy="488.3" r="11.8" fill="url(#gG0)"/>
<line x1="305.8" y1="589.4" x2="305.8" y2="569.6" stroke="#e61919" stroke-width="3.9"/>
<line x1="163.4" y1="508.9" x2="154.5" y2="502.8" stroke="#be8223" stroke-width="3.9"/>
<circle cx="205.1" cy="380.8" r="7.0" fill="url(#gR0)"/>
<line x1="255.4" y1="477.6" x2="255.5" y2="462.1" stroke="#2dd72d" stroke-width="3.9"/>
<line x1="87.3" y1="477.5" x2="87.3" y2="462.1" stroke="#2dd72d" stroke-width="3.9"/>
<line x1="175.3" y1="521.9" x2="179.7" y2="530.3" stroke="#694813" stroke-width="3.9"/>
<line x1="191.5" y1="596.8" x2="196.4" y2="594.3" stroke="#2dd72d" stroke-width="3.9"/>
<line x1="143.7" y1="596.1" x2="162.9" y2="597.1" stroke="#e61919" stroke-width="3.9"/>
<line x1="295.5" y1="542.9" x2="280.6" y2="542.0" stroke="#2dd72d" stroke-width="3.9"/>
<line x1="253.3" y1="541.6" x2="247.0" y2="544.8" stroke="#7f0e0e" stroke-width="3.9"/>
<line x1="265.7" y1="488.9" x2="280.7" y2="489.7" stroke="#2dd72d" stroke-width="3.9"/>
<line x1="87.4" y1="409.8" x2="87.4" y2="383.6" stroke="#555" stroke-width="0.9"/>
<line x1="97.6" y1="488.8" x2="112.5" y2="489.7" stroke="#2dd72d" stroke-width="3.9"/>
<line x1="249.4" y1="435.6" x2="230.2" y2="434.6" stroke="#e61919" stroke-width="3.9"/>
<line x1="201.6" y1="434.9" x2="196.7" y2="437.4" stroke="#197619" stroke-width="3.9"/>
<line x1="305.8" y1="554.2" x2="305.8" y2="569.6" stroke="#2dd72d" stroke-width="3.9"/>
<line x1="255.5" y1="442.3" x2="255.5" y2="462.1" stroke="#e61919" stroke-width="3.9"/>
<line x1="87.3" y1="442.3" x2="87.3" y2="462.1" stroke="#e61919" stroke-width="3.9"/>
<line x1="188.1" y1="598.6" x2="213.4" y2="600.0" stroke="#555" stroke-width="0.9"/>
<circle cx="305.8" cy="543.4" r="11.8" fill="url(#gG0)"/>
<circle cx="255.5" cy="436.0" r="7.0" fill="url(#gR0)"/>
<circle cx="87.3" cy="435.9" r="7.0" fill="url(#gR0)"/>
<line x1="305.9" y1="532.7" x2="305.9" y2="517.3" stroke="#2dd72d" stroke-width="3.9"/>
<line x1="314.4" y1="382.3" x2="306.1" y2="386.5" stroke="#555" stroke-width="0.9"/>
<line x1="87.4" y1="383.6" x2="112.7" y2="385.0" stroke="#555" stroke-width="0.9"/>
<line x1="177.8" y1="598.0" x2="162.9" y2="597.1" stroke="#2dd72d" stroke-width="3.9"/>
<line x1="142.4" y1="494.3" x2="154.5" y2="502.8" stroke="#e61919" stroke-width="3.9"/>
<line x1="299.8" y1="490.8" x2="280.7" y2="489.7" stroke="#e61919" stroke-width="3.9"/>
<line x1="252.0" y1="490.0" x2="247.1" y2="492.5" stroke="#197619" stroke-width="3.9"/>
<line x1="131.6" y1="490.7" x2="112.5" y2="489.7" stroke="#e61919" stroke-width="3.9"/>
<line x1="141.2" y1="437.0" x2="146.2" y2="434.5" stroke="#2dd72d" stroke-width="3.9"/>
<line x1="93.4" y1="436.3" x2="112.6" y2="437.3" stroke="#e61919" stroke-width="3.9"/>
<line x1="203.1" y1="381.8" x2="196.7" y2="385.0" stroke="#7f0e0e" stroke-width="3.9"/>
<line x1="305.9" y1="497.5" x2="305.9" y2="517.3" stroke="#e61919" stroke-width="3.9"/>
<circle cx="188.1" cy="598.6" r="11.8" fill="url(#gG0)"/>
<line x1="213.4" y1="600.0" x2="238.6" y2="601.4" stroke="#555" stroke-width="0.9"/>
<circle cx="305.9" cy="491.1" r="7.0" fill="url(#gR0)"/>
<circle cx="137.8" cy="491.1" r="7.0" fill="url(#gR0)"/>
<line x1="185.8" y1="541.8" x2="179.7" y2="530.3" stroke="#e61919" stroke-width="3.9"/>
<line x1="188.1" y1="587.8" x2="188.1" y2="572.4" stroke="#2dd72d" stroke-width="3.9"/>
<line x1="257.9" y1="433.1" x2="264.0" y2="425.7" stroke="#7f0e0e" stroke-width="3.9"/>
<line x1="112.7" y1="385.0" x2="137.9" y2="386.4" stroke="#555" stroke-width="0.9"/>
<line x1="137.8" y1="484.7" x2="137.8" y2="464.9" stroke="#e61919" stroke-width="3.9"/>
<line x1="198.4" y1="599.1" x2="213.4" y2="600.0" stroke="#2dd72d" stroke-width="3.9"/>
<line x1="302.4" y1="545.2" x2="297.5" y2="547.7" stroke="#197619" stroke-width="3.9"/>
<line x1="127.5" y1="438.2" x2="112.6" y2="437.3" stroke="#2dd72d" stroke-width="3.9"/>
<line x1="308.1" y1="385.5" x2="314.4" y2="382.3" stroke="#e61919" stroke-width="3.9"/>
<line x1="188.2" y1="552.6" x2="188.1" y2="572.4" stroke="#e61919" stroke-width="3.9"/>
<line x1="139.9" y1="385.4" x2="146.2" y2="382.2" stroke="#e61919" stroke-width="3.9"/>
<line x1="137.8" y1="449.5" x2="137.8" y2="464.9" stroke="#2dd72d" stroke-width="3.9"/>
<line x1="297.4" y1="600.0" x2="289.1" y2="604.2" stroke="#555" stroke-width="0.9"/>
<line x1="238.6" y1="601.4" x2="263.9" y2="602.8" stroke="#555" stroke-width="0.9"/>
<circle cx="188.2" cy="546.2" r="7.0" fill="url(#gR0)"/>
<circle cx="137.8" cy="438.8" r="11.8" fill="url(#gG0)"/>
<line x1="137.9" y1="386.4" x2="163.2" y2="387.8" stroke="#555" stroke-width="0.9"/>
<line x1="232.5" y1="601.0" x2="213.4" y2="600.0" stroke="#e61919" stroke-width="3.9"/>
<line x1="137.8" y1="428.0" x2="137.9" y2="412.6" stroke="#2dd72d" stroke-width="3.9"/>
<line x1="242.1" y1="547.3" x2="247.0" y2="544.8" stroke="#2dd72d" stroke-width="3.9"/>
<line x1="194.3" y1="546.6" x2="213.4" y2="547.6" stroke="#e61919" stroke-width="3.9"/>
<line x1="303.9" y1="492.1" x2="297.6" y2="495.3" stroke="#7f0e0e" stroke-width="3.9"/>
<line x1="190.3" y1="440.6" x2="196.7" y2="437.4" stroke="#e61919" stroke-width="3.9"/>
<line x1="148.1" y1="439.3" x2="163.1" y2="440.2" stroke="#2dd72d" stroke-width="3.9"/>
<circle cx="238.6" cy="601.4" r="7.0" fill="url(#gR0)"/>
<line x1="263.9" y1="602.8" x2="289.1" y2="604.2" stroke="#555" stroke-width="0.9"/>
<line x1="137.9" y1="392.8" x2="137.9" y2="412.6" stroke="#e61919" stroke-width="3.9"/>
<line x1="238.6" y1="595.0" x2="238.6" y2="575.2" stroke="#e61919" stroke-width="3.9"/>
<circle cx="306.1" cy="386.5" r="7.0" fill="url(#gR0)"/>
<line x1="306.1" y1="386.5" x2="297.7" y2="390.7" stroke="#555" stroke-width="0.9"/>
<circle cx="137.9" cy="386.4" r="7.0" fill="url(#gR0)"/>
<line x1="163.2" y1="387.8" x2="188.4" y2="389.3" stroke="#555" stroke-width="0.9"/>
<line x1="228.4" y1="548.5" x2="213.4" y2="547.6" stroke="#2dd72d" stroke-width="3.9"/>
<line x1="268.5" y1="420.3" x2="264.0" y2="425.7" stroke="#be8223" stroke-width="3.9"/>
<line x1="240.8" y1="495.7" x2="247.1" y2="492.5" stroke="#e61919" stroke-width="3.9"/>
<line x1="301.4" y1="390.5" x2="289.3" y2="401.0" stroke="#e61919" stroke-width="3.9"/>
<line x1="182.2" y1="441.2" x2="163.1" y2="440.2" stroke="#e61919" stroke-width="3.9"/>
<line x1="238.7" y1="559.8" x2="238.6" y2="575.2" stroke="#2dd72d" stroke-width="3.9"/>
<line x1="289.1" y1="604.2" x2="289.1" y2="578.0" stroke="#555" stroke-width="0.9"/>
<line x1="191.8" y1="387.5" x2="196.7" y2="385.0" stroke="#2dd72d" stroke-width="3.9"/>
<line x1="144.0" y1="386.8" x2="163.2" y2="387.8" stroke="#e61919" stroke-width="3.9"/>
<circle cx="238.7" cy="549.1" r="11.8" fill="url(#gG0)"/>
<circle cx="188.3" cy="441.6" r="7.0" fill="url(#gR0)"/>
<line x1="238.7" y1="538.3" x2="238.7" y2="522.9" stroke="#2dd72d" stroke-width="3.9"/>
<line x1="289.1" y1="578.0" x2="289.2" y2="551.9" stroke="#555" stroke-width="0.9"/>
<line x1="188.4" y1="389.3" x2="213.7" y2="390.7" stroke="#555" stroke-width="0.9"/>
<line x1="280.4" y1="408.6" x2="289.3" y2="401.0" stroke="#be8223" stroke-width="3.9"/>
<line x1="188.3" y1="435.2" x2="188.4" y2="415.4" stroke="#e61919" stroke-width="3.9"/>
<line x1="291.2" y1="550.9" x2="297.5" y2="547.7" stroke="#e61919" stroke-width="3.9"/>
<line x1="249.0" y1="549.6" x2="263.9" y2="550.5" stroke="#2dd72d" stroke-width="3.9"/>
<circle cx="272.4" cy="415.4" r="11.8" fill="url(#gB0)"/>
<line x1="178.1" y1="388.7" x2="163.2" y2="387.8" stroke="#2dd72d" stroke-width="3.9"/>
<line x1="289.2" y1="551.9" x2="289.2" y2="525.7" stroke="#555" stroke-width="0.9"/>
<line x1="238.7" y1="503.1" x2="238.7" y2="522.9" stroke="#e61919" stroke-width="3.9"/>
<line x1="188.4" y1="400.0" x2="188.4" y2="415.4" stroke="#2dd72d" stroke-width="3.9"/>
<circle cx="238.8" cy="496.7" r="7.0" fill="url(#gR0)"/>
<circle cx="188.4" cy="389.3" r="11.8" fill="url(#gG0)"/>
<line x1="213.7" y1="390.7" x2="238.9" y2="392.1" stroke="#555" stroke-width="0.9"/>
<line x1="264.5" y1="409.9" x2="255.7" y2="403.8" stroke="#be8223" stroke-width="3.9"/>
<line x1="289.2" y1="525.7" x2="289.2" y2="499.6" stroke="#555" stroke-width="0.9"/>
<line x1="283.1" y1="551.5" x2="263.9" y2="550.5" stroke="#e61919" stroke-width="3.9"/>
<line x1="276.4" y1="422.9" x2="280.9" y2="431.3" stroke="#694813" stroke-width="3.9"/>
<line x1="292.7" y1="497.8" x2="297.6" y2="495.3" stroke="#2dd72d" stroke-width="3.9"/>
<line x1="244.9" y1="497.1" x2="264.0" y2="498.1" stroke="#e61919" stroke-width="3.9"/>
<line x1="198.7" y1="389.8" x2="213.7" y2="390.7" stroke="#2dd72d" stroke-width="3.9"/>
<line x1="289.2" y1="499.6" x2="289.3" y2="473.4" stroke="#555" stroke-width="0.9"/>
<circle cx="289.2" cy="551.9" r="7.0" fill="url(#gR0)"/>
<line x1="289.2" y1="545.5" x2="289.2" y2="525.7" stroke="#e61919" stroke-width="3.9"/>
<line x1="297.7" y1="390.7" x2="289.4" y2="394.9" stroke="#555" stroke-width="0.9"/>
<line x1="238.9" y1="392.1" x2="264.2" y2="393.5" stroke="#555" stroke-width="0.9"/>
<line x1="289.3" y1="473.4" x2="289.3" y2="447.2" stroke="#555" stroke-width="0.9"/>
<line x1="278.9" y1="499.0" x2="264.0" y2="498.1" stroke="#2dd72d" stroke-width="3.9"/>
<line x1="243.6" y1="395.3" x2="255.7" y2="403.8" stroke="#e61919" stroke-width="3.9"/>
<line x1="232.8" y1="391.7" x2="213.7" y2="390.7" stroke="#e61919" stroke-width="3.9"/>
<line x1="289.2" y1="510.3" x2="289.2" y2="525.7" stroke="#2dd72d" stroke-width="3.9"/>
<line x1="289.3" y1="447.2" x2="289.4" y2="421.1" stroke="#555" stroke-width="0.9"/>
<circle cx="289.2" cy="499.6" r="11.8" fill="url(#gG0)"/>
<circle cx="238.9" cy="392.1" r="7.0" fill="url(#gR0)"/>
<line x1="287.0" y1="442.8" x2="280.9" y2="431.3" stroke="#e61919" stroke-width="3.9"/>
<line x1="264.2" y1="393.5" x2="289.4" y2="394.9" stroke="#555" stroke-width="0.9"/>
<line x1="289.3" y1="488.8" x2="289.3" y2="473.4" stroke="#2dd72d" stroke-width="3.9"/>
<line x1="289.4" y1="421.1" x2="289.4" y2="394.9" stroke="#555" stroke-width="0.9"/>
<line x1="289.3" y1="453.6" x2="289.3" y2="473.4" stroke="#e61919" stroke-width="3.9"/>
<circle cx="289.3" cy="447.2" r="7.0" fill="url(#gR0)"/>
<text x="17.5" y="366" class="pl">(c)</text>
<line x1="20.3" y1="562" x2="20.3" y2="538" stroke="#1010f0" stroke-width="3.6"/>
<path d="M15.4,539 L25.4,539 L20.3,525.5 Z" fill="#1010f0"/>
<line x1="21" y1="565.6" x2="46" y2="565.6" stroke="#22dd22" stroke-width="3.4"/>
<path d="M45,561 L45,570.4 L57,565.6 Z" fill="#22dd22"/>
<line x1="12.4" y1="568.2" x2="20.3" y2="564.2" stroke="#c01010" stroke-width="2.5"/>
<circle cx="12.4" cy="568.2" r="4.6" fill="url(#gR0)"/>
<circle cx="20.3" cy="564.2" r="3.6" fill="#f4f4f4" stroke="#999" stroke-width="0.9"/>
<text x="21.1" y="521" class="ai" text-anchor="middle">c</text>
<text x="65.5" y="570" class="ai" text-anchor="middle">b</text>
<text x="6.2" y="575" class="ai" text-anchor="middle">a</text>
<line x1="424.7" y1="346.2" x2="657.8" y2="359.0" stroke="#555" stroke-width="0.9"/>
<line x1="424.7" y1="346.2" x2="401.9" y2="357.8" stroke="#555" stroke-width="0.9"/>
<line x1="401.9" y1="357.8" x2="635.0" y2="370.6" stroke="#555" stroke-width="0.9"/>
<line x1="657.8" y1="359.0" x2="657.8" y2="600.6" stroke="#555" stroke-width="0.9"/>
<line x1="657.8" y1="359.0" x2="635.0" y2="370.6" stroke="#555" stroke-width="0.9"/>
<line x1="635.0" y1="370.6" x2="635.0" y2="612.2" stroke="#555" stroke-width="0.9"/>
<line x1="657.8" y1="600.6" x2="424.7" y2="587.8" stroke="#555" stroke-width="0.9"/>
<line x1="657.8" y1="600.6" x2="635.0" y2="612.2" stroke="#555" stroke-width="0.9"/>
<line x1="635.0" y1="612.2" x2="401.9" y2="599.4" stroke="#555" stroke-width="0.9"/>
<line x1="424.7" y1="587.8" x2="424.7" y2="346.2" stroke="#555" stroke-width="0.9"/>
<line x1="424.7" y1="587.8" x2="401.9" y2="599.4" stroke="#555" stroke-width="0.9"/>
<line x1="401.9" y1="599.4" x2="401.9" y2="357.8" stroke="#555" stroke-width="0.9"/>
<line x1="419.7" y1="373.6" x2="428.1" y2="394.9" stroke="#e61919" stroke-width="3.9"/>
<line x1="436.5" y1="416.1" x2="428.1" y2="394.9" stroke="#7ddc32" stroke-width="3.9"/>
<line x1="436.5" y1="416.1" x2="458.2" y2="414.1" stroke="#7ddc32" stroke-width="3.9"/>
<line x1="480.0" y1="412.2" x2="458.2" y2="414.1" stroke="#e61919" stroke-width="3.9"/>
<line x1="436.5" y1="416.1" x2="428.1" y2="431.5" stroke="#7ddc32" stroke-width="3.9"/>
<line x1="419.7" y1="446.8" x2="428.1" y2="431.5" stroke="#e61919" stroke-width="3.9"/>
<line x1="480.0" y1="412.2" x2="494.6" y2="393.7" stroke="#e61919" stroke-width="3.9"/>
<line x1="509.3" y1="375.2" x2="494.6" y2="393.7" stroke="#be8223" stroke-width="3.9"/>
<line x1="480.0" y1="412.2" x2="494.6" y2="432.4" stroke="#e61919" stroke-width="3.9"/>
<line x1="509.3" y1="452.7" x2="494.6" y2="432.4" stroke="#be8223" stroke-width="3.9"/>
<line x1="471.1" y1="354.8" x2="490.2" y2="365.0" stroke="#e61919" stroke-width="3.9"/>
<line x1="509.3" y1="375.2" x2="490.2" y2="365.0" stroke="#be8223" stroke-width="3.9"/>
<line x1="509.3" y1="375.2" x2="517.9" y2="379.9" stroke="#be8223" stroke-width="3.9"/>
<line x1="526.5" y1="384.5" x2="517.9" y2="379.9" stroke="#e61919" stroke-width="3.9"/>
<line x1="526.5" y1="384.5" x2="545.5" y2="401.3" stroke="#e61919" stroke-width="3.9"/>
<line x1="564.5" y1="418.1" x2="545.5" y2="401.3" stroke="#7ddc32" stroke-width="3.9"/>
<line x1="588.3" y1="360.8" x2="601.6" y2="374.1" stroke="#e61919" stroke-width="3.9"/>
<line x1="615.0" y1="387.5" x2="601.6" y2="374.1" stroke="#be8223" stroke-width="3.9"/>
<line x1="615.0" y1="387.5" x2="598.6" y2="406.2" stroke="#be8223" stroke-width="3.9"/>
<line x1="582.3" y1="425.0" x2="598.6" y2="406.2" stroke="#e61919" stroke-width="3.9"/>
<line x1="564.5" y1="418.1" x2="573.4" y2="421.6" stroke="#7ddc32" stroke-width="3.9"/>
<line x1="582.3" y1="425.0" x2="573.4" y2="421.6" stroke="#e61919" stroke-width="3.9"/>
<line x1="564.5" y1="418.1" x2="545.5" y2="437.4" stroke="#7ddc32" stroke-width="3.9"/>
<line x1="526.5" y1="456.7" x2="545.5" y2="437.4" stroke="#e61919" stroke-width="3.9"/>
<line x1="582.3" y1="425.0" x2="598.6" y2="444.8" stroke="#e61919" stroke-width="3.9"/>
<line x1="615.0" y1="464.5" x2="598.6" y2="444.8" stroke="#be8223" stroke-width="3.9"/>
<line x1="509.3" y1="452.7" x2="517.9" y2="454.7" stroke="#be8223" stroke-width="3.9"/>
<line x1="526.5" y1="456.7" x2="517.9" y2="454.7" stroke="#e61919" stroke-width="3.9"/>
<line x1="419.7" y1="446.8" x2="432.0" y2="469.7" stroke="#e61919" stroke-width="3.9"/>
<line x1="444.4" y1="492.6" x2="432.0" y2="469.7" stroke="#be8223" stroke-width="3.9"/>
<line x1="471.1" y1="475.8" x2="457.8" y2="484.2" stroke="#e61919" stroke-width="3.9"/>
<line x1="444.4" y1="492.6" x2="457.8" y2="484.2" stroke="#be8223" stroke-width="3.9"/>
<line x1="471.1" y1="475.8" x2="490.2" y2="464.2" stroke="#e61919" stroke-width="3.9"/>
<line x1="509.3" y1="452.7" x2="490.2" y2="464.2" stroke="#be8223" stroke-width="3.9"/>
<line x1="444.4" y1="492.6" x2="460.8" y2="512.9" stroke="#be8223" stroke-width="3.9"/>
<line x1="477.1" y1="533.2" x2="460.8" y2="512.9" stroke="#e61919" stroke-width="3.9"/>
<line x1="477.1" y1="533.2" x2="486.3" y2="536.7" stroke="#e61919" stroke-width="3.9"/>
<line x1="495.5" y1="540.1" x2="486.3" y2="536.7" stroke="#7ddc32" stroke-width="3.9"/>
<line x1="477.1" y1="533.2" x2="460.8" y2="552.0" stroke="#e61919" stroke-width="3.9"/>
<line x1="444.4" y1="570.7" x2="460.8" y2="552.0" stroke="#be8223" stroke-width="3.9"/>
<line x1="495.5" y1="540.1" x2="513.5" y2="520.3" stroke="#7ddc32" stroke-width="3.9"/>
<line x1="531.4" y1="500.5" x2="513.5" y2="520.3" stroke="#e61919" stroke-width="3.9"/>
<line x1="495.5" y1="540.1" x2="513.7" y2="556.9" stroke="#7ddc32" stroke-width="3.9"/>
<line x1="531.9" y1="573.7" x2="513.7" y2="556.9" stroke="#e61919" stroke-width="3.9"/>
<line x1="444.4" y1="570.7" x2="457.8" y2="583.5" stroke="#be8223" stroke-width="3.9"/>
<line x1="471.1" y1="596.4" x2="457.8" y2="583.5" stroke="#e61919" stroke-width="3.9"/>
<line x1="531.4" y1="500.5" x2="520.4" y2="476.6" stroke="#e61919" stroke-width="3.9"/>
<line x1="509.3" y1="452.7" x2="520.4" y2="476.6" stroke="#be8223" stroke-width="3.9"/>
<line x1="549.7" y1="504.5" x2="569.0" y2="493.6" stroke="#be8223" stroke-width="3.9"/>
<line x1="588.3" y1="482.7" x2="569.0" y2="493.6" stroke="#e61919" stroke-width="3.9"/>
<line x1="588.3" y1="482.7" x2="601.6" y2="473.6" stroke="#e61919" stroke-width="3.9"/>
<line x1="615.0" y1="464.5" x2="601.6" y2="473.6" stroke="#be8223" stroke-width="3.9"/>
<line x1="549.7" y1="504.5" x2="564.5" y2="525.2" stroke="#be8223" stroke-width="3.9"/>
<line x1="579.4" y1="546.0" x2="564.5" y2="525.2" stroke="#e61919" stroke-width="3.9"/>
<line x1="526.5" y1="456.7" x2="538.1" y2="480.6" stroke="#e61919" stroke-width="3.9"/>
<line x1="549.7" y1="504.5" x2="538.1" y2="480.6" stroke="#be8223" stroke-width="3.9"/>
<line x1="615.0" y1="464.5" x2="627.1" y2="488.1" stroke="#be8223" stroke-width="3.9"/>
<line x1="639.3" y1="511.8" x2="627.1" y2="488.1" stroke="#e61919" stroke-width="3.9"/>
<line x1="639.3" y1="511.8" x2="631.1" y2="527.0" stroke="#e61919" stroke-width="3.9"/>
<line x1="622.9" y1="542.1" x2="631.1" y2="527.0" stroke="#7ddc32" stroke-width="3.9"/>
<line x1="579.4" y1="546.0" x2="601.1" y2="544.0" stroke="#e61919" stroke-width="3.9"/>
<line x1="622.9" y1="542.1" x2="601.1" y2="544.0" stroke="#7ddc32" stroke-width="3.9"/>
<line x1="622.9" y1="542.1" x2="631.1" y2="563.4" stroke="#7ddc32" stroke-width="3.9"/>
<line x1="639.3" y1="584.6" x2="631.1" y2="563.4" stroke="#e61919" stroke-width="3.9"/>
<line x1="579.4" y1="546.0" x2="564.5" y2="564.3" stroke="#e61919" stroke-width="3.9"/>
<line x1="549.7" y1="582.6" x2="564.5" y2="564.3" stroke="#be8223" stroke-width="3.9"/>
<line x1="549.7" y1="582.6" x2="569.0" y2="592.5" stroke="#be8223" stroke-width="3.9"/>
<line x1="588.3" y1="602.4" x2="569.0" y2="592.5" stroke="#e61919" stroke-width="3.9"/>
<line x1="549.7" y1="582.6" x2="540.8" y2="578.2" stroke="#be8223" stroke-width="3.9"/>
<line x1="531.9" y1="573.7" x2="540.8" y2="578.2" stroke="#e61919" stroke-width="3.9"/>
<circle cx="509.3" cy="375.2" r="12.3" fill="url(#gB0)"/>
<circle cx="615.0" cy="387.5" r="12.3" fill="url(#gB0)"/>
<circle cx="509.3" cy="452.7" r="12.3" fill="url(#gB0)"/>
<circle cx="615.0" cy="464.5" r="12.3" fill="url(#gB0)"/>
<circle cx="444.4" cy="492.6" r="12.3" fill="url(#gB0)"/>
<circle cx="549.7" cy="504.5" r="12.3" fill="url(#gB0)"/>
<circle cx="444.4" cy="570.7" r="12.3" fill="url(#gB0)"/>
<circle cx="549.7" cy="582.6" r="12.3" fill="url(#gB0)"/>
<circle cx="436.5" cy="416.1" r="12.3" fill="url(#gL0)"/>
<circle cx="564.5" cy="418.1" r="12.3" fill="url(#gL0)"/>
<circle cx="495.5" cy="540.1" r="12.3" fill="url(#gL0)"/>
<circle cx="622.9" cy="542.1" r="12.3" fill="url(#gL0)"/>
<circle cx="419.7" cy="373.6" r="7.1" fill="url(#gR0)"/>
<circle cx="471.1" cy="354.8" r="7.1" fill="url(#gR0)"/>
<circle cx="526.5" cy="384.5" r="7.1" fill="url(#gR0)"/>
<circle cx="480.0" cy="412.2" r="7.1" fill="url(#gR0)"/>
<circle cx="588.3" cy="360.8" r="7.1" fill="url(#gR0)"/>
<circle cx="582.3" cy="425.0" r="7.1" fill="url(#gR0)"/>
<circle cx="419.7" cy="446.8" r="7.1" fill="url(#gR0)"/>
<circle cx="526.5" cy="456.7" r="7.1" fill="url(#gR0)"/>
<circle cx="471.1" cy="475.8" r="7.1" fill="url(#gR0)"/>
<circle cx="588.3" cy="482.7" r="7.1" fill="url(#gR0)"/>
<circle cx="531.4" cy="500.5" r="7.1" fill="url(#gR0)"/>
<circle cx="639.3" cy="511.8" r="7.1" fill="url(#gR0)"/>
<circle cx="477.1" cy="533.2" r="7.1" fill="url(#gR0)"/>
<circle cx="579.4" cy="546.0" r="7.1" fill="url(#gR0)"/>
<circle cx="531.9" cy="573.7" r="7.1" fill="url(#gR0)"/>
<circle cx="639.3" cy="584.6" r="7.1" fill="url(#gR0)"/>
<circle cx="471.1" cy="596.4" r="7.1" fill="url(#gR0)"/>
<circle cx="588.3" cy="602.4" r="7.1" fill="url(#gR0)"/>
<text x="372.4" y="366" class="pl">(d)</text>
<defs><radialGradient id="fege"><stop offset="0" stop-color="#fffbe0"/><stop offset="0.3" stop-color="#fbe8b8"/><stop offset="0.75" stop-color="#f6c49a"/><stop offset="0.92" stop-color="#efae90"/><stop offset="1" stop-color="#d9a0a8"/></radialGradient><radialGradient id="fegf"><stop offset="0" stop-color="#fffbe0"/><stop offset="0.3" stop-color="#fbe8b8"/><stop offset="0.75" stop-color="#f6c49a"/><stop offset="0.92" stop-color="#efae90"/><stop offset="1" stop-color="#d9a0a8"/></radialGradient><radialGradient id="halo"><stop offset="0.6" stop-color="#8080e0"/><stop offset="0.75" stop-color="#a8a8f0" stop-opacity="0.8"/><stop offset="1" stop-color="#e0e4fa" stop-opacity="0"/></radialGradient><clipPath id="cpe"><rect x="48.5" y="654.7" width="203.7" height="204.1"/></clipPath><clipPath id="cpf"><rect x="412.4" y="654.7" width="203.7" height="204.1"/></clipPath></defs>
<g clip-path="url(#cpe)"><circle cx="48.5" cy="756.8" r="17.3" fill="url(#halo)"/>
<circle cx="48.5" cy="756.8" r="12.3" fill="url(#fege)"/>
<circle cx="99.4" cy="705.7" r="17.3" fill="url(#halo)"/>
<circle cx="99.4" cy="705.7" r="12.3" fill="url(#fege)"/>
<circle cx="150.3" cy="858.8" r="17.3" fill="url(#halo)"/>
<circle cx="150.3" cy="858.8" r="12.3" fill="url(#fege)"/>
<circle cx="150.3" cy="654.7" r="17.3" fill="url(#halo)"/>
<circle cx="150.3" cy="654.7" r="12.3" fill="url(#fege)"/>
<circle cx="201.3" cy="807.8" r="17.3" fill="url(#halo)"/>
<circle cx="201.3" cy="807.8" r="12.3" fill="url(#fege)"/>
<circle cx="252.2" cy="756.8" r="17.3" fill="url(#halo)"/>
<circle cx="252.2" cy="756.8" r="12.3" fill="url(#fege)"/>
<path d="M162.7,858.8 161.9,854.1 159.2,850.0 155.5,847.5 150.8,846.4 146.2,847.1 141.5,850.1 138.8,854.1 137.8,858.8M203.8,795.3 199.2,795.3 194.5,797.1 191.2,800.1 188.9,804.7 188.6,809.4 190.2,814.1 193.6,818.0 198.3,820.2 203.8,820.3 208.5,818.2 211.7,815.0 213.7,810.3 213.8,805.7 212.0,801.0 208.5,797.3 203.8,795.3M48.5,769.3 53.2,768.3 57.2,765.6 60.1,760.9 60.9,756.3 59.8,751.6 57.2,747.9 53.2,745.2 48.5,744.3M252.2,744.3 247.5,745.3 243.5,747.9 240.5,752.6 239.7,757.2 240.7,761.9 243.2,765.6 247.5,768.4 252.2,769.3M103.4,693.7 97.8,693.2 93.1,694.7 89.4,697.9 87.2,702.2 86.7,706.9 88.1,711.5 90.9,715.3 95.0,717.7 100.6,718.4 105.2,717.0 109.0,714.1 111.4,709.7 112.1,705.0 110.9,700.4 108.0,696.4 103.4,693.7M137.8,654.7 138.7,659.4 141.5,663.7 145.2,666.2 149.9,667.2 154.5,666.4 159.2,663.4 161.8,659.4 162.7,654.7" fill="none" stroke="#5a5ad6" stroke-width="1.3"/>
<path d="M163.3,858.8 162.5,854.1 159.5,849.5 155.5,846.8 150.8,845.8 146.2,846.5 141.3,849.5 138.2,854.1 137.2,858.8M205.7,795.2 200.1,794.5 195.5,795.8 191.2,799.2 188.6,803.8 188.0,809.4 189.4,814.1 192.4,817.8 196.4,820.3 202.0,821.1 206.6,820.0 211.0,816.9 213.8,812.2 214.5,806.6 213.2,802.0 210.3,798.0 205.7,795.2M48.5,769.9 53.2,769.0 57.8,765.8 60.8,760.9 61.5,756.3 60.5,751.6 57.8,747.6 53.2,744.6 48.5,743.7M252.2,743.7 247.5,744.6 242.9,747.7 239.8,752.6 239.1,757.2 240.0,761.9 242.9,766.2 247.5,769.1 252.2,769.9M102.4,692.8 96.9,692.7 92.2,694.6 88.3,698.5 86.3,703.2 86.2,707.8 87.9,712.5 91.3,716.4 95.9,718.7 101.5,718.9 106.2,717.2 110.2,713.4 112.3,708.8 112.5,703.2 110.6,698.5 107.1,694.8 102.4,692.8M137.2,654.7 138.0,659.4 141.0,664.0 145.2,666.9 149.9,667.8 154.5,667.1 159.4,664.0 162.4,659.4 163.3,654.7" fill="none" stroke="#6a6af0" stroke-width="1.3"/>
<path d="M164.0,858.8 163.2,854.1 160.1,849.2 155.5,846.1 150.8,845.1 145.2,846.2 140.6,849.3 137.5,854.1 136.6,858.8M205.7,794.5 200.1,793.8 195.5,795.1 191.1,798.2 188.2,802.9 187.2,808.5 188.7,814.1 191.7,818.2 196.4,821.0 202.0,821.8 207.6,820.3 211.9,816.9 214.5,812.2 215.2,806.6 213.6,801.0 210.3,797.1 205.7,794.5M48.5,770.6 53.2,769.7 58.0,766.5 61.1,761.9 62.1,756.3 61.2,751.6 58.1,747.0 53.2,743.9 48.5,743.1M252.2,743.1 247.5,744.0 242.7,747.0 239.5,751.6 238.4,757.2 239.7,762.8 242.3,766.5 246.6,769.5 252.2,770.6M101.5,691.9 95.9,692.2 91.3,694.4 87.4,698.5 85.5,704.1 85.9,709.7 88.2,714.3 92.2,717.9 96.9,719.6 102.4,719.5 107.1,717.4 111.1,713.4 113.2,707.8 113.0,702.2 110.8,697.6 107.1,694.0 101.5,691.9M136.6,654.7 137.6,660.3 140.6,664.6 144.3,667.2 149.9,668.5 155.5,667.4 160.1,664.2 163.1,659.4 164.0,654.7" fill="none" stroke="#9c8ef0" stroke-width="1.3"/>
<path d="M164.7,858.8 163.6,853.2 160.6,848.5 156.4,845.7 150.8,844.4 145.2,845.4 140.3,848.5 137.1,853.2 135.8,858.8M204.8,793.4 199.2,793.2 193.6,795.2 189.3,799.2 186.8,804.7 186.6,810.3 188.8,815.9 192.7,820.0 197.3,822.2 202.9,822.5 208.5,820.7 212.9,816.9 215.6,811.3 215.9,805.7 213.9,800.1 210.3,796.0 204.8,793.4M48.5,771.3 54.1,770.1 58.7,766.8 61.9,761.9 62.9,756.3 61.6,750.7 58.7,746.5 54.1,743.4 48.5,742.4M252.2,742.4 246.6,743.5 242.0,746.7 238.7,751.6 237.6,757.2 238.8,762.8 242.0,767.4 246.6,770.3 252.2,771.3M100.6,691.0 95.0,691.7 89.6,694.8 86.0,699.4 84.6,705.0 85.3,710.6 87.9,715.3 92.2,718.8 97.8,720.5 101.5,720.4 104.3,719.7 109.0,717.0 112.5,712.5 114.1,706.9 113.5,701.3 110.8,696.2 106.2,692.5 100.6,691.0M135.8,654.7 136.8,660.3 139.8,665.0 144.3,668.1 149.9,669.3 155.5,668.2 160.4,665.0 163.5,660.3 164.7,654.7" fill="none" stroke="#cfc2f6" stroke-width="1.3"/>
<path d="M165.6,858.8 165.2,855.1 164.2,852.3 161.0,847.8 156.4,844.7 150.8,843.6 145.2,844.5 139.7,848.1 136.1,853.2 134.9,858.8M199.2,852.8 197.3,852.6 196.6,853.2 196.6,854.1 198.2,855.1 199.2,854.8 199.9,854.1 199.8,853.2 199.2,852.8M204.8,792.4 198.3,792.4 192.7,794.7 188.1,799.2 185.8,804.7 185.6,810.3 187.6,815.9 191.7,820.6 197.3,823.2 203.8,823.4 209.4,821.2 214.0,816.9 216.5,811.3 216.7,804.7 214.5,799.2 210.3,794.8 204.8,792.4M155.5,809.0 154.5,809.5 154.2,811.3 154.5,812.1 155.5,812.5 156.4,812.1 156.6,811.3 156.4,809.9 155.5,809.0M48.5,772.2 54.1,771.0 59.2,767.5 62.8,761.9 63.7,756.3 62.6,750.7 59.5,746.0 55.0,742.9 52.2,741.9 48.5,741.5M252.2,741.5 246.6,742.6 241.5,746.0 237.8,751.6 236.7,757.2 237.8,762.8 241.0,767.8 245.7,771.0 248.5,771.9 252.2,772.2M96.9,750.5 95.0,750.8 95.1,752.6 95.9,752.9 97.7,752.6 98.2,751.6 96.9,750.5M100.6,690.1 95.0,690.7 89.2,693.8 85.4,698.5 84.3,701.3 83.6,705.0 84.3,710.6 87.4,716.2 92.2,719.9 97.8,721.5 103.4,721.0 109.1,718.1 113.1,713.4 114.3,710.6 115.0,706.9 114.2,700.4 111.7,695.7 109.0,693.1 106.2,691.4 100.6,690.1M54.1,707.2 53.2,707.1 52.2,708.7 53.2,710.4 54.1,710.4 54.7,709.7 54.1,707.2M134.9,654.7 135.2,658.4 136.1,661.2 139.3,665.9 144.3,669.1 149.9,670.2 155.5,669.2 161.0,665.4 164.4,660.3 165.6,654.7" fill="none" stroke="#5c9ef0" stroke-width="1.3"/>
<path d="M110.8,858.8 109.3,853.2 108.0,850.7 106.2,849.0 103.4,848.4 99.7,849.4 96.2,851.3 92.2,855.1 89.8,858.8M166.6,858.8 165.4,852.3 162.0,847.1 156.4,843.5 150.8,842.5 144.3,843.8 138.7,847.6 135.4,852.3 133.8,858.8M215.0,858.8 216.1,856.0 216.3,853.2 215.4,850.4 213.6,848.5 208.5,846.8 197.3,845.8 192.7,846.6 189.9,849.4 189.2,853.2 190.2,858.8M206.6,791.7 200.1,791.0 193.6,792.8 190.8,794.6 188.1,797.3 185.0,802.9 184.2,808.5 185.7,815.0 187.2,817.8 189.7,820.6 195.5,824.0 202.0,824.8 208.5,823.1 211.3,821.4 214.0,818.7 217.2,813.1 218.1,806.6 216.5,800.1 214.8,797.3 212.2,794.6 206.6,791.7M158.3,793.3 155.5,792.7 151.3,793.6 148.0,795.4 144.2,799.2 141.5,804.6 139.8,810.3 140.0,813.1 142.0,815.9 146.1,817.8 155.5,819.8 159.2,819.4 162.0,817.3 163.0,815.0 163.3,812.2 162.4,801.0 161.0,796.2 158.3,793.3M252.2,796.4 246.6,795.5 242.9,796.3 240.8,798.2 239.9,802.0 242.0,813.1 243.8,817.1 245.7,818.5 247.5,818.8 252.2,817.4M48.5,817.4 52.2,815.0 55.9,811.0 57.9,807.5 58.9,803.8 58.3,801.0 56.6,799.2 54.1,797.9 48.5,796.4M48.5,773.4 55.0,771.7 59.7,768.4 63.5,762.8 64.8,756.3 63.7,750.7 60.2,745.1 55.0,741.7 48.5,740.5M252.2,740.5 245.7,741.9 241.0,745.1 237.0,750.7 235.6,757.2 236.8,763.7 240.1,768.7 242.9,770.9 245.7,772.3 252.2,773.4M207.6,746.7 204.8,746.3 202.0,747.1 198.3,749.2 194.5,752.5 191.7,756.6 190.4,760.0 190.4,762.8 191.7,765.0 195.5,766.8 205.7,769.0 209.4,768.7 212.2,766.9 213.5,763.7 213.0,758.1 210.5,749.8 209.4,748.1 207.6,746.7M100.6,744.1 95.0,743.8 91.3,744.4 88.9,746.0 87.6,748.8 87.6,753.5 89.7,761.9 91.3,765.1 94.1,767.1 98.7,766.9 107.1,763.5 111.7,759.1 114.1,754.4 114.2,749.8 112.4,747.0 108.0,745.0 100.6,744.1M102.4,689.1 98.7,688.9 95.0,689.5 89.4,692.2 85.2,696.6 83.3,700.4 82.6,703.2 82.8,709.7 85.1,715.3 89.4,719.8 92.2,721.4 95.9,722.5 102.4,722.5 106.2,721.3 109.0,719.7 113.3,715.3 114.8,712.5 116.0,708.8 116.0,702.2 114.8,698.5 113.2,695.7 109.0,691.6 105.2,689.7 102.4,689.1M48.5,716.9 54.1,717.8 57.8,717.1 60.6,714.3 61.5,709.7 60.5,698.5 58.7,693.4 56.9,691.5 54.1,690.6 51.3,690.9 48.5,691.9M148.0,693.8 144.3,693.4 141.5,694.0 139.3,695.7 138.2,698.5 138.4,703.2 140.6,712.5 142.4,715.6 145.2,716.8 149.0,716.0 154.6,712.5 158.5,707.8 160.7,702.2 160.4,699.4 158.3,697.0 155.5,695.7 148.0,693.8M252.2,691.9 248.2,694.8 245.2,698.5 242.5,705.0 241.6,709.7 242.5,712.5 244.6,714.3 252.2,716.9M133.8,654.7 134.8,661.2 136.2,664.0 138.5,666.8 143.4,670.1 149.9,671.3 156.4,669.9 162.0,665.9 165.1,661.2 166.6,654.7M89.8,654.7 88.4,659.4 88.7,661.2 90.1,663.1 94.1,665.0 105.2,667.0 109.0,666.1 110.9,664.0 111.7,660.3 110.8,654.7M190.2,654.7 192.7,662.3 194.5,664.4 197.3,665.3 202.0,664.4 208.5,661.7 212.2,658.7 215.0,654.7" fill="none" stroke="#a4c8f2" stroke-width="1.3"/>
<path d="M114.4,858.8 112.7,850.4 110.8,846.4 108.0,843.8 103.4,842.9 95.0,844.2 89.4,846.9 85.8,851.3 83.5,858.8M168.0,858.8 167.0,852.3 165.2,848.5 162.9,845.8 157.3,842.3 150.8,841.1 144.3,842.4 140.6,844.4 137.8,846.7 133.9,852.3 132.2,858.8M220.9,858.8 221.9,855.1 222.1,851.3 221.1,848.5 219.3,846.7 215.6,844.8 211.3,843.7 196.4,842.5 190.8,843.5 188.7,844.8 187.2,846.7 186.0,851.3 186.8,858.8M205.7,789.6 202.0,789.3 198.3,789.6 191.7,792.0 188.5,794.5 186.0,797.3 183.0,803.8 182.6,811.3 184.9,817.8 189.0,822.6 191.7,824.5 195.5,825.9 199.2,826.6 202.9,826.5 206.6,825.7 210.3,824.0 213.6,821.5 216.1,818.7 219.1,812.2 219.7,807.5 219.5,803.8 217.0,797.3 214.9,794.5 212.2,792.3 205.7,789.6M252.2,792.8 245.7,792.0 241.0,792.9 238.7,794.5 237.5,796.4 236.5,801.0 238.2,815.4 240.5,821.5 242.2,823.4 244.8,824.5 247.5,824.6 252.2,823.7M48.5,823.7 55.9,821.4 60.4,817.8 63.0,812.2 64.4,803.8 63.5,799.2 60.9,796.4 56.9,794.5 48.5,792.8M158.3,787.0 152.7,787.4 147.1,789.6 142.4,793.2 138.7,797.4 135.7,803.8 134.3,811.3 135.3,815.9 137.8,818.7 143.4,821.0 156.4,823.1 161.2,822.5 164.9,819.7 166.1,816.9 166.6,813.1 165.3,797.3 162.9,790.4 161.0,788.2 158.3,787.0M252.2,739.1 248.5,739.6 244.8,741.0 239.2,745.1 237.0,747.9 235.2,751.6 234.0,758.1 235.3,764.7 236.7,767.5 239.2,770.4 244.8,773.8 248.5,774.8 252.2,774.9M48.5,774.9 55.0,773.2 60.6,769.3 62.9,766.5 64.9,762.8 66.1,756.3 65.0,749.8 61.5,744.2 58.7,741.9 55.0,740.0 48.5,739.1M107.1,741.3 95.0,740.5 91.3,740.7 87.6,742.2 85.1,745.1 84.3,747.9 84.1,750.7 86.0,762.8 87.9,768.4 91.3,771.8 94.1,772.7 97.8,772.6 102.4,771.7 106.3,770.3 112.1,766.5 115.6,762.8 118.1,759.1 120.2,751.6 119.5,747.0 118.0,745.1 114.9,743.2 107.1,741.3M208.5,741.2 203.8,740.9 196.4,742.3 192.2,744.2 189.1,747.0 186.7,751.6 184.5,760.9 185.0,765.6 187.1,768.2 192.7,770.5 206.6,772.5 212.2,771.7 215.3,769.3 216.7,766.5 217.0,762.8 215.0,750.0 212.6,744.2 210.8,742.3 208.5,741.2M101.5,687.3 97.8,687.4 94.1,688.1 90.4,689.7 87.6,691.6 83.2,696.6 80.8,703.2 80.6,706.9 81.1,710.6 82.3,714.3 83.9,717.1 86.4,719.9 89.4,722.2 95.9,724.4 103.4,724.1 109.9,721.0 112.7,718.6 115.1,715.3 116.9,711.5 117.7,707.8 117.9,704.1 117.3,700.4 116.0,696.6 114.2,693.8 111.7,691.3 109.0,689.4 105.2,687.9 101.5,687.3M146.2,690.1 141.5,690.1 137.8,691.6 135.4,694.8 134.6,698.5 136.1,711.5 137.4,717.1 138.7,719.7 140.6,721.5 144.3,722.6 148.0,722.2 155.5,720.4 158.5,719.0 161.0,717.1 162.9,714.8 164.5,711.5 166.2,702.2 165.6,697.6 164.4,695.7 162.0,693.8 157.1,692.0 146.2,690.1M48.5,720.3 55.9,721.1 60.6,719.8 62.5,718.3 63.8,716.2 64.7,710.6 63.6,695.7 62.5,691.4 60.6,687.7 58.7,685.8 55.9,684.9 52.2,685.1 48.5,686.1M252.2,686.1 246.6,689.1 241.0,694.8 237.4,702.2 236.2,709.7 237.3,714.1 240.1,717.0 244.8,718.9 252.2,720.3M132.2,654.7 132.4,658.4 133.3,662.2 136.7,667.7 139.7,670.2 142.4,671.6 149.0,672.9 155.5,671.8 159.2,669.9 162.0,667.7 166.1,662.2 167.5,658.4 168.0,654.7M186.8,654.7 188.2,662.2 190.1,666.8 192.9,669.6 197.3,670.7 204.8,669.5 212.2,665.9 217.9,660.3 220.9,654.7M83.5,654.7 82.6,659.4 82.7,662.2 83.8,664.7 85.7,666.5 91.9,668.7 106.2,670.5 110.8,669.5 112.7,668.2 114.3,665.9 115.2,661.2 114.4,654.7" fill="none" stroke="#d6e6f8" stroke-width="1.3"/>
<path d="M117.5,858.8 115.7,849.5 113.1,843.0 109.9,839.4 108.0,838.5 105.2,838.2 93.1,839.9 89.4,841.2 86.5,843.0 83.8,845.4 81.7,848.5 78.1,858.8M170.1,858.8 170.0,854.1 169.1,850.4 167.9,847.6 165.7,844.4 162.9,842.0 160.1,840.5 156.4,839.4 151.7,838.9 144.3,840.3 140.6,842.2 137.1,844.8 134.5,847.6 132.1,851.3 129.7,858.8M252.2,789.6 245.7,788.5 241.0,788.7 236.6,790.8 233.8,794.5 232.9,798.2 233.0,802.0 236.9,827.1 236.4,829.9 235.0,831.8 226.2,838.2 220.6,840.6 215.9,840.8 194.5,838.8 190.8,839.3 188.0,840.5 184.5,843.9 183.0,847.6 182.8,852.3 183.8,858.8M237.1,858.8 237.2,855.1 238.1,851.3 243.8,840.2 245.6,833.6 248.3,830.8 252.2,829.1M209.4,787.0 201.0,786.5 196.4,787.3 192.7,788.6 186.2,792.9 183.8,795.4 181.5,799.2 180.0,802.9 179.1,807.5 179.1,812.2 179.9,816.9 181.4,820.6 183.3,823.4 186.2,826.1 189.0,827.9 193.6,829.5 198.3,830.0 202.9,829.8 207.6,828.6 211.3,826.9 215.0,824.0 218.0,820.6 220.2,816.9 221.8,812.2 222.6,806.6 222.3,801.0 221.1,796.4 219.0,792.6 216.9,790.4 213.1,788.1 209.4,787.0M48.5,829.1 58.7,825.6 61.9,823.4 64.3,820.7 67.3,814.1 69.1,802.0 68.7,799.2 67.8,797.3 64.3,794.1 57.8,791.5 48.5,789.6M142.4,686.4 138.7,686.7 135.0,688.5 132.7,691.0 131.3,694.8 131.2,700.4 135.1,724.6 134.8,727.4 133.6,729.3 123.8,736.4 118.3,738.7 114.5,738.7 94.1,736.8 90.4,736.9 87.6,737.7 83.8,740.3 81.9,743.2 81.0,747.0 81.1,751.6 83.1,763.7 84.8,769.6 87.6,774.4 91.3,777.0 96.9,777.7 104.3,776.0 111.7,771.7 117.3,767.5 120.1,766.3 122.0,766.2 123.8,766.8 127.6,769.7 138.2,780.5 140.3,783.3 140.9,785.2 140.1,788.9 133.6,798.2 130.8,803.8 129.4,811.3 130.5,816.9 133.9,820.6 139.7,823.2 154.5,826.0 160.1,826.2 162.9,825.7 165.7,824.3 168.4,821.5 169.7,818.7 170.3,813.1 168.3,792.6 168.4,788.9 170.7,783.3 177.4,774.0 179.6,772.3 181.5,772.0 207.6,776.0 213.1,775.7 216.5,774.0 219.1,771.2 220.4,767.5 220.5,762.8 217.7,747.9 215.0,741.0 213.1,738.5 211.3,737.1 208.5,736.2 205.7,736.1 193.6,738.3 189.9,739.9 187.1,741.9 183.3,747.0 178.7,759.8 175.9,763.2 169.4,765.0 160.1,769.9 153.6,771.8 149.9,771.9 146.2,771.1 143.4,769.9 140.0,767.5 137.8,764.7 136.0,760.9 135.3,757.2 135.3,753.5 137.2,747.0 142.1,737.6 143.9,731.1 147.3,728.3 160.1,723.8 165.2,719.9 167.7,716.2 169.1,712.5 171.0,700.4 170.7,697.6 169.4,694.8 164.8,691.3 157.3,688.9 142.4,686.4M107.1,788.7 105.2,788.5 105.0,789.8 108.1,794.5 115.5,801.3 117.3,802.2 118.6,802.0 118.0,799.2 115.2,795.4 110.8,791.2 107.1,788.7M48.5,777.5 55.9,775.1 59.7,772.6 62.5,770.0 65.1,766.5 66.9,762.8 68.3,755.4 67.9,750.7 66.8,747.0 65.2,744.2 62.8,741.4 59.7,739.1 56.9,737.9 53.2,737.1 48.5,736.9M252.2,736.9 244.8,738.9 241.0,741.1 237.6,744.2 234.7,747.9 232.8,751.6 231.6,756.3 231.3,760.0 231.6,764.7 232.7,768.4 234.1,771.2 236.7,774.0 239.2,775.7 242.9,777.1 247.5,777.7 252.2,777.5M104.3,684.5 95.9,684.9 88.5,687.8 82.4,692.9 78.6,699.4 77.6,703.2 77.2,707.8 77.5,712.5 78.5,716.2 80.4,719.9 82.8,722.7 85.7,725.1 89.4,726.9 94.1,727.8 98.7,728.0 103.4,727.3 107.1,726.0 110.8,723.9 114.5,720.6 117.1,717.1 119.3,712.5 120.4,707.8 120.7,702.2 120.0,696.6 118.6,692.9 115.9,689.2 112.7,686.8 109.0,685.2 104.3,684.5M48.5,723.2 55.0,724.2 59.7,724.0 63.4,722.5 66.8,719.0 68.0,716.2 68.4,712.5 66.5,691.0 66.6,686.4 69.1,680.8 75.5,672.0 77.3,670.5 80.1,670.0 105.2,673.9 109.0,674.0 112.7,673.1 116.4,670.3 118.5,665.9 118.7,661.2 117.5,654.7M183.8,654.7 185.3,663.1 187.1,668.7 189.9,672.9 193.6,675.1 198.3,675.7 205.7,674.1 213.1,670.0 219.6,665.2 222.4,664.1 224.3,664.2 226.2,665.0 233.2,671.5 241.3,679.9 242.8,683.6 241.7,687.3 237.0,693.8 232.8,701.3 231.2,708.8 232.2,714.3 234.1,717.1 238.3,719.9 243.8,721.8 252.2,723.2M207.6,686.3 206.7,687.3 207.0,688.3 211.2,693.8 217.8,699.5 219.6,700.3 220.6,699.7 219.5,696.6 215.8,692.0 211.3,688.0 207.6,686.3M129.7,654.7 129.5,659.4 130.1,664.0 131.4,667.7 133.1,670.3 135.9,672.8 138.7,674.3 142.4,675.3 147.1,675.7 150.8,675.3 155.5,674.1 159.2,672.2 162.9,669.4 166.0,665.9 168.2,662.2 170.1,654.7M78.1,654.7 76.4,658.7 73.6,661.3 67.1,663.1 55.9,668.8 52.2,669.7 48.5,669.9M252.2,669.9 246.6,668.5 242.0,665.5 238.8,661.2 237.1,654.7" fill="none" stroke="#52def0" stroke-width="1.3"/>
<path d="M48.5,846.9 53.2,846.8 55.9,847.9 57.8,849.4 60.2,853.2 60.7,856.0 60.4,858.8M175.1,858.8 176.9,856.1 177.8,856.3 179.4,858.8M243.2,858.8 243.6,855.1 245.4,851.3 248.5,848.4 252.2,846.9M134.7,825.2 150.9,829.9 153.1,831.8 152.7,832.7 143.4,836.9 137.8,840.4 131.0,846.7 124.8,854.8 122.9,855.7 122.0,855.0 120.1,851.5 117.2,842.0 116.6,837.4 117.7,832.7 120.8,828.0 124.8,825.3 129.4,824.4 134.7,825.2M75.5,828.0 77.3,829.0 78.9,830.8 79.4,832.7 79.2,834.6 78.2,836.4 76.4,837.8 72.7,838.0 69.7,835.5 69.1,833.6 69.2,831.8 70.1,829.9 71.8,828.4 73.6,827.8 75.5,828.0M174.5,831.8 176.2,832.7 177.3,834.6 177.1,836.4 175.9,837.4 173.1,836.1 171.7,833.6 172.2,832.4 174.5,831.8M229.0,815.9 230.3,819.7 229.6,824.3 226.2,828.1 222.4,829.6 221.8,829.0 222.2,827.1 226.2,818.6 228.0,815.9 229.0,815.9M100.7,794.5 105.2,797.0 110.1,802.0 112.7,806.6 113.1,810.3 111.4,815.0 109.2,817.8 107.1,819.4 102.4,821.3 96.9,821.5 91.3,819.5 87.8,815.9 85.9,811.3 85.8,805.7 87.8,800.1 91.3,796.4 95.9,794.3 100.7,794.5M121.9,773.1 124.8,775.0 130.4,780.5 132.9,783.3 134.4,786.1 134.4,788.0 133.6,789.8 131.3,793.4 129.4,794.7 126.6,794.8 123.8,793.2 115.5,785.1 112.3,780.5 112.5,777.7 114.5,775.3 119.2,772.7 121.9,773.1M76.0,754.4 78.3,758.6 82.7,775.9 82.6,780.5 80.2,785.2 75.5,789.0 69.9,790.5 61.4,788.9 55.8,787.0 52.2,785.2 51.6,784.2 52.5,782.4 60.6,776.1 66.9,769.3 70.4,763.7 73.6,755.8 74.5,754.4 75.5,754.0 76.0,754.4M189.2,778.7 192.7,779.6 193.4,780.5 192.8,781.4 181.5,787.0 179.6,787.1 180.2,784.2 183.1,780.5 186.2,778.9 189.2,778.7M156.0,745.1 159.3,747.0 161.9,750.7 162.5,754.4 161.5,759.1 158.7,762.8 155.5,764.9 150.8,765.8 147.1,764.9 144.1,762.8 141.8,759.1 141.3,755.4 142.2,751.6 144.3,748.4 148.0,745.6 151.7,744.6 156.0,745.1M252.2,732.0 244.8,735.1 239.2,738.7 234.2,743.2 227.1,752.2 225.2,753.6 223.4,752.4 221.5,748.2 219.2,740.4 218.5,735.8 219.4,731.1 221.5,727.3 225.2,724.0 228.9,722.5 234.5,722.7 252.2,727.6M178.5,726.5 180.9,729.3 181.3,731.1 180.9,733.0 179.5,734.8 177.8,735.9 175.9,736.2 174.1,735.7 172.2,734.3 171.0,732.1 170.9,730.2 171.6,728.3 173.1,726.7 175.0,725.9 178.5,726.5M73.8,730.2 75.6,733.0 74.9,734.8 73.6,735.3 71.2,733.9 69.9,731.1 70.5,730.2 71.8,729.7 73.8,730.2M48.5,727.6 51.0,729.3 51.2,730.2 48.5,732.0M127.5,714.3 128.5,719.0 127.6,722.7 123.8,726.3 122.0,727.3 120.1,727.4 120.2,725.5 124.8,715.7 126.6,713.7 127.5,714.3M203.8,692.9 208.5,696.1 213.0,701.3 214.7,705.0 214.6,709.7 212.3,714.3 208.5,717.6 202.9,719.5 197.3,719.2 192.7,717.1 189.3,713.4 187.5,707.8 187.9,702.2 190.7,696.6 194.5,693.4 199.2,692.0 203.8,692.9M224.6,671.5 232.7,678.9 236.1,683.6 236.4,685.5 235.5,687.8 233.3,691.0 230.8,692.8 228.0,692.6 224.5,690.1 216.2,681.7 214.1,678.0 214.6,675.2 217.6,672.4 221.5,670.6 224.6,671.5M179.4,654.7 184.3,672.4 184.5,678.0 183.0,681.7 179.7,685.5 175.9,687.6 171.3,688.5 166.6,687.8 158.9,685.5 154.7,683.6 153.5,681.7 154.9,679.9 163.8,672.8 168.4,667.7 172.0,662.2 175.1,654.7M89.7,677.1 91.4,678.0 91.3,678.9 90.3,679.9 80.1,684.7 78.3,685.2 77.7,684.5 79.2,680.8 82.0,677.9 85.7,676.6 89.7,677.1M60.4,654.7 58.8,658.4 55.9,661.5 52.2,663.4 48.5,663.7M252.2,663.7 248.5,662.6 245.7,660.5 243.9,657.5 243.2,654.7" fill="none" stroke="#7ce6f0" stroke-width="1.3"/>
<path d="M48.5,854.1 50.4,854.1 52.2,855.1 53.2,856.9 53.2,858.8M249.2,858.8 249.7,856.0 252.2,854.1M133.2,831.8 134.4,832.7 134.5,833.6 131.9,837.4 127.6,840.5 125.7,840.9 124.8,840.2 124.7,837.4 126.6,834.1 130.4,831.8 133.2,831.8M100.3,801.0 102.9,802.0 104.9,803.8 105.9,805.7 106.2,808.5 105.3,811.3 103.6,813.1 101.5,814.3 98.7,814.5 95.9,813.6 94.1,812.0 92.8,809.4 92.7,806.6 93.3,804.7 95.0,802.6 97.8,801.1 100.3,801.0M75.0,773.1 75.5,774.0 75.5,776.5 73.6,780.0 70.2,782.4 67.1,782.4 66.4,780.5 69.0,776.3 72.7,773.0 73.6,772.6 75.0,773.1M153.4,752.6 154.5,753.7 155.1,755.4 154.4,758.1 151.7,759.8 149.0,759.2 147.9,758.1 147.3,756.3 148.0,753.7 150.8,752.0 153.4,752.6M235.9,730.2 236.2,732.1 233.2,735.8 228.9,738.7 227.0,738.6 226.4,737.6 226.4,735.8 227.1,733.9 228.9,731.6 232.7,729.7 235.9,730.2M203.9,699.4 206.4,701.3 207.6,703.2 208.1,706.0 207.4,708.8 206.0,710.6 203.8,712.0 201.0,712.5 198.3,711.8 196.4,710.5 194.8,707.8 194.5,705.0 195.0,703.2 196.4,701.0 198.6,699.4 201.0,698.9 203.9,699.4M176.0,670.5 177.1,671.5 177.5,673.3 175.9,677.4 172.2,680.3 170.3,680.6 168.5,679.9 168.4,678.0 170.3,674.8 174.1,671.2 176.0,670.5M53.2,654.7 51.3,657.2 48.5,657.7M252.2,657.7 250.1,656.6 249.2,654.7" fill="none" stroke="#a2eef6" stroke-width="1.3"/></g>
<g clip-path="url(#cpf)"><circle cx="412.4" cy="756.8" r="18.6" fill="url(#halo)"/>
<circle cx="412.4" cy="756.8" r="13.6" fill="url(#fegf)"/>
<circle cx="463.3" cy="705.7" r="18.6" fill="url(#halo)"/>
<circle cx="463.3" cy="705.7" r="13.6" fill="url(#fegf)"/>
<circle cx="514.2" cy="858.8" r="18.6" fill="url(#halo)"/>
<circle cx="514.2" cy="858.8" r="13.6" fill="url(#fegf)"/>
<circle cx="514.2" cy="654.7" r="18.6" fill="url(#halo)"/>
<circle cx="514.2" cy="654.7" r="13.6" fill="url(#fegf)"/>
<circle cx="565.2" cy="807.8" r="18.6" fill="url(#halo)"/>
<circle cx="565.2" cy="807.8" r="13.6" fill="url(#fegf)"/>
<circle cx="616.1" cy="756.8" r="18.6" fill="url(#halo)"/>
<circle cx="616.1" cy="756.8" r="13.6" fill="url(#fegf)"/>
<path d="M527.4,858.8 526.5,854.1 523.5,849.5 519.4,846.7 513.8,845.6 509.1,846.7 505.1,849.5 502.1,854.1 501.4,858.8M566.8,795.4 562.2,795.6 557.5,797.7 553.9,802.0 552.6,806.6 553.0,811.3 555.6,815.9 559.4,819.0 564.0,820.4 568.7,820.0 572.9,817.8 576.1,814.1 577.6,809.4 577.2,804.7 574.9,800.1 571.5,797.1 566.8,795.4M412.4,769.6 417.1,768.9 421.7,766.0 424.5,761.9 425.5,757.2 424.5,751.6 421.7,747.5 417.1,744.4 412.4,743.6M616.1,743.6 611.4,744.4 606.8,747.6 604.2,751.6 603.2,756.3 604.0,760.9 607.0,765.6 611.4,768.6 616.1,769.6M466.3,693.6 460.8,693.4 456.1,695.3 452.9,698.5 450.9,703.2 450.9,707.8 452.7,712.5 456.1,716.1 460.8,718.1 465.4,718.2 470.1,716.5 473.4,713.4 475.5,708.8 475.7,704.1 474.0,699.4 471.0,696.0 466.3,693.6M501.4,654.7 502.4,659.4 505.4,663.9 510.1,666.8 514.7,667.6 519.4,666.6 523.4,664.0 526.5,659.4 527.4,654.7" fill="none" stroke="#f6b2a0" stroke-width="1.3"/>
<path d="M528.1,858.8 526.9,853.2 524.0,849.0 519.4,845.9 513.8,844.9 509.1,845.9 504.5,849.1 501.8,853.2 500.7,858.8M568.7,795.1 563.1,794.7 558.4,796.3 554.2,800.1 552.2,804.7 552.1,810.3 554.0,815.0 557.5,818.6 562.2,820.8 567.7,820.9 572.4,819.0 575.7,815.9 577.9,811.3 578.1,805.7 576.4,801.0 573.0,797.3 568.7,795.1M412.4,770.3 418.0,769.2 422.1,766.5 425.2,761.9 426.2,757.2 425.2,751.6 422.2,747.0 418.0,744.1 412.4,742.9M616.1,742.9 610.5,744.1 606.4,747.0 603.5,751.6 602.6,756.3 603.7,761.9 606.8,766.4 611.4,769.3 616.1,770.3M465.4,692.8 459.8,693.0 455.2,695.2 451.5,699.4 450.1,704.1 450.6,709.7 453.2,714.3 457.0,717.5 461.7,719.0 466.3,718.8 471.0,716.7 474.7,712.6 476.3,707.8 475.9,702.2 473.8,697.9 470.1,694.5 465.4,692.8M500.7,654.7 501.7,659.4 504.7,664.0 509.1,667.1 514.7,668.2 519.4,667.4 524.0,664.4 526.9,660.3 528.1,654.7" fill="none" stroke="#ef9080" stroke-width="1.3"/>
<path d="M528.8,858.8 527.7,853.2 524.5,848.5 519.4,845.2 513.8,844.2 508.2,845.6 504.0,848.5 501.0,853.2 500.1,858.8M568.7,794.4 563.1,794.0 557.5,796.1 553.4,800.1 551.4,804.7 551.4,810.3 553.2,815.0 557.5,819.5 562.2,821.5 567.7,821.6 572.4,819.9 576.6,815.9 578.6,811.3 578.8,805.7 577.1,801.0 573.3,796.7 568.7,794.4M412.4,771.0 418.0,770.0 422.6,767.0 425.6,762.8 426.9,757.2 426.0,751.6 422.6,746.4 418.0,743.3 412.4,742.2M616.1,742.2 610.5,743.3 605.9,746.5 603.1,750.7 601.9,756.3 603.0,761.9 606.0,766.5 610.5,769.7 616.1,771.0M464.5,691.9 458.9,692.5 454.3,695.0 450.7,699.4 449.3,705.0 450.2,710.6 453.1,715.3 457.0,718.2 462.6,719.8 468.2,718.9 472.7,716.2 476.0,711.5 477.1,706.9 476.4,701.3 473.8,696.8 469.1,693.3 464.5,691.9M500.1,654.7 501.3,660.3 504.5,664.8 509.1,667.8 514.7,668.9 520.3,667.7 524.5,665.0 527.7,660.3 528.8,654.7" fill="none" stroke="#5a5ad6" stroke-width="1.3"/>
<path d="M529.5,858.8 528.4,853.2 524.9,847.9 522.2,845.7 519.4,844.4 513.8,843.5 508.2,844.8 503.6,848.0 500.3,853.2 499.3,858.8M567.7,793.5 562.2,793.5 556.6,795.8 552.5,800.1 550.5,805.7 550.9,811.3 553.6,816.9 557.5,820.3 563.1,822.4 568.7,822.2 574.0,819.7 577.4,815.9 579.5,810.3 579.3,804.7 577.0,799.6 573.3,795.9 567.7,793.5M412.4,771.7 418.0,770.8 423.2,767.5 426.4,762.8 427.7,757.2 426.8,751.6 425.4,748.8 423.2,746.0 418.0,742.5 412.4,741.4M616.1,741.4 610.5,742.5 605.3,746.0 602.3,750.7 601.2,756.3 602.2,761.9 603.7,764.7 605.9,767.3 610.5,770.4 616.1,771.7M467.3,691.8 461.7,691.2 456.1,692.9 451.7,696.6 448.9,702.2 448.7,707.8 450.8,713.4 454.3,717.3 459.8,720.1 465.4,720.4 471.0,718.4 475.3,714.3 477.4,709.7 477.7,704.1 475.8,698.5 471.9,694.1 467.3,691.8M499.3,654.7 500.6,660.3 503.7,665.0 506.3,667.2 509.1,668.6 514.7,669.6 520.3,668.5 524.9,665.5 528.5,660.3 529.5,654.7" fill="none" stroke="#6a6af0" stroke-width="1.3"/>
<path d="M530.3,858.8 529.3,853.2 525.7,847.6 520.3,843.9 513.8,842.7 508.2,843.9 502.8,847.6 499.5,853.2 498.6,858.8M566.8,792.6 561.2,792.9 555.6,795.6 551.6,800.1 550.4,802.9 549.7,806.6 550.4,812.2 553.4,817.8 558.4,821.7 564.0,823.3 569.6,822.7 575.2,819.7 578.8,815.0 580.4,809.4 579.8,803.8 576.9,798.2 572.4,794.4 566.8,792.6M412.4,772.4 418.0,771.6 423.6,768.2 427.3,762.8 428.4,757.2 427.2,750.7 423.6,745.3 418.0,741.7 412.4,740.7M616.1,740.7 612.4,741.1 609.6,742.1 604.9,745.3 601.5,750.7 600.5,756.3 601.5,761.9 605.0,767.5 609.6,770.8 612.4,771.9 616.1,772.4M467.3,691.0 460.8,690.6 455.2,692.6 450.7,696.6 448.2,702.2 448.0,707.8 449.9,713.4 454.3,718.2 459.8,720.8 465.4,721.2 471.0,719.3 475.5,715.3 478.2,709.7 478.5,704.1 476.6,698.4 472.7,693.8 467.3,691.0M498.6,654.7 500.2,661.2 503.6,665.8 509.1,669.4 514.7,670.4 520.3,669.3 525.7,665.9 528.9,661.2 529.9,658.4 530.3,654.7" fill="none" stroke="#9c8ef0" stroke-width="1.3"/>
<path d="M531.1,858.8 529.8,852.3 525.9,846.7 520.3,843.1 513.8,841.9 507.3,843.4 502.6,846.7 499.0,852.3 497.8,858.8M571.4,858.8 571.1,856.9 569.8,855.1 568.1,854.1 565.9,853.9 562.2,855.2 561.0,856.9 560.7,858.8M569.6,792.4 563.1,791.8 559.4,792.7 556.6,794.0 551.9,798.2 549.3,803.8 549.1,810.3 551.2,815.9 555.6,820.9 561.2,823.6 567.7,824.0 573.3,822.0 578.0,817.8 580.7,812.2 581.0,805.7 579.1,800.1 575.2,795.4 569.6,792.4M515.6,801.7 511.9,801.9 510.4,802.9 509.2,804.7 508.9,806.6 509.4,809.4 510.7,811.3 511.9,811.9 515.6,812.1 517.5,811.1 518.7,809.4 519.2,806.6 518.9,804.7 517.5,802.6 515.6,801.7M412.4,773.2 418.9,772.1 424.5,768.4 427.8,763.7 429.3,757.2 428.1,750.7 424.5,745.1 418.9,741.2 412.4,739.8M616.1,739.8 609.6,741.2 606.8,742.7 604.0,745.1 600.6,750.7 599.7,756.3 601.0,762.8 604.9,768.4 609.6,771.7 616.1,773.2M467.3,752.5 463.6,751.9 461.1,752.6 459.8,753.6 458.8,757.2 459.2,759.1 460.5,760.9 462.6,761.9 465.4,762.0 467.3,761.3 468.7,760.0 469.5,758.1 469.4,755.4 468.4,753.5 467.3,752.5M466.3,690.0 459.8,690.0 454.3,692.2 449.7,696.6 448.2,699.4 447.2,703.2 447.5,709.7 450.2,715.3 455.2,719.8 460.8,721.8 467.3,721.6 472.9,719.0 477.1,714.3 479.1,708.8 478.9,702.2 476.4,696.6 471.9,692.4 466.3,690.0M412.4,710.2 414.3,709.9 416.0,708.8 417.3,705.0 417.1,702.8 416.1,701.1 414.3,699.8 412.4,699.4M616.1,699.4 614.2,699.7 612.4,700.7 611.3,702.2 610.7,705.0 611.4,707.8 612.4,709.0 614.2,710.1 616.1,710.2M497.8,654.7 499.4,661.2 502.6,666.0 508.2,669.8 514.7,671.2 520.3,670.2 525.9,666.8 528.3,664.0 529.8,661.2 531.1,654.7M560.7,654.7 560.9,656.6 561.9,658.4 563.1,659.4 565.9,660.1 568.7,659.6 570.2,658.4 571.2,656.6 571.4,654.7" fill="none" stroke="#cfc2f6" stroke-width="1.3"/>
<path d="M467.6,858.8 467.6,856.9 466.7,855.1 465.4,854.1 463.6,853.8 461.7,854.0 460.1,855.1 459.0,856.9 458.8,858.8M532.0,858.8 530.7,852.3 526.8,846.4 521.2,842.5 517.5,841.3 513.8,841.0 507.3,842.4 501.7,846.4 499.4,849.5 498.0,852.3 497.0,858.8M575.7,858.8 574.9,855.1 573.3,853.0 570.5,851.3 566.8,850.6 563.1,851.0 560.3,852.3 558.1,855.1 557.3,858.8M569.6,791.6 563.1,791.0 556.6,793.0 551.5,797.3 548.6,802.9 548.1,809.4 550.2,815.9 554.7,821.2 557.5,823.0 561.2,824.5 567.7,824.8 571.5,823.9 574.2,822.4 578.9,818.0 581.5,812.2 581.8,805.7 579.5,799.2 575.2,794.4 569.6,791.6M514.7,797.3 511.0,797.7 508.3,799.2 506.3,801.6 505.3,804.7 505.4,809.1 506.6,812.2 509.1,814.5 511.9,815.5 516.6,815.4 519.4,814.1 521.2,811.9 522.3,808.5 522.3,804.7 521.1,801.0 518.4,798.3 514.7,797.3M412.4,812.3 414.3,812.1 416.1,811.0 417.1,809.4 417.4,807.5 417.1,805.7 416.1,804.4 414.3,803.5 412.4,803.5M616.1,803.5 613.3,804.7 612.2,807.5 612.3,809.4 613.3,811.1 616.1,812.3M412.4,774.0 418.9,773.0 421.7,771.7 424.8,769.3 428.7,763.7 430.2,757.2 429.8,753.5 428.7,749.8 424.8,744.2 418.9,740.3 412.4,738.9M616.1,738.9 609.6,740.2 604.0,743.8 601.5,747.0 600.1,749.8 598.8,756.3 600.1,762.8 604.0,768.7 609.6,772.5 616.1,774.0M467.3,748.8 464.5,748.6 460.8,749.1 458.0,750.6 456.4,752.6 455.5,756.3 455.8,760.0 457.2,762.8 459.8,764.9 464.5,765.8 468.2,765.3 471.0,763.7 473.0,760.9 473.8,757.2 472.9,752.7 471.0,750.5 467.3,748.8M567.7,752.3 565.9,751.7 564.0,751.9 561.5,753.5 560.7,755.4 560.7,757.2 562.2,759.8 564.0,760.6 565.9,760.6 568.6,759.1 569.5,755.4 568.9,753.5 567.7,752.3M465.4,689.0 458.9,689.3 453.1,692.0 448.7,696.6 447.3,699.4 446.3,703.2 446.7,709.7 448.1,713.4 449.9,716.2 455.2,720.7 461.7,722.8 468.2,722.3 473.8,719.4 478.1,714.3 480.1,707.8 479.5,701.3 476.6,695.6 471.9,691.4 465.4,689.0M412.4,713.6 416.1,712.9 418.9,710.6 420.1,707.8 420.5,704.1 419.9,700.4 418.2,697.6 416.1,696.0 412.4,695.2M616.1,695.2 612.4,695.8 609.6,697.6 607.8,700.4 607.0,704.1 607.7,708.8 609.6,711.5 612.4,713.1 616.1,713.6M517.5,702.0 515.6,701.4 513.8,701.5 511.1,703.2 510.4,706.9 511.9,709.4 513.8,710.2 515.6,710.2 518.4,708.4 519.3,705.0 518.7,703.2 517.5,702.0M497.0,654.7 498.5,661.2 502.3,666.8 508.2,670.7 514.7,672.0 521.2,670.8 524.0,669.3 527.1,666.8 530.8,661.2 532.0,654.7M557.3,654.7 557.8,658.4 559.4,661.2 562.2,663.1 566.8,663.8 570.5,663.0 573.3,661.2 575.1,658.4 575.7,654.7M458.8,654.7 460.0,657.5 461.7,658.5 463.6,658.6 466.4,657.5 467.6,654.7" fill="none" stroke="#5c9ef0" stroke-width="1.3"/>
<path d="M471.3,858.8 471.1,855.1 469.8,852.3 467.3,850.2 463.6,849.5 459.8,850.2 457.0,852.1 455.2,855.1 454.7,858.8M533.0,858.8 531.8,852.3 529.8,848.5 527.6,845.8 524.9,843.5 521.2,841.4 517.5,840.3 513.8,840.0 510.1,840.5 506.3,841.8 500.9,845.8 497.4,851.3 496.3,855.1 496.1,858.8M580.0,858.8 578.9,854.1 576.1,850.7 571.5,848.6 566.8,848.1 561.2,848.8 557.5,851.0 555.5,854.1 554.7,858.8M569.6,790.7 565.9,790.0 562.2,790.2 555.6,792.5 552.8,794.5 550.3,797.3 547.6,802.9 547.1,806.6 547.3,810.3 549.7,816.9 551.9,819.9 554.7,822.4 557.5,824.1 561.2,825.4 567.7,825.8 574.2,823.6 577.0,821.5 579.6,818.7 581.2,815.9 582.5,812.2 582.7,805.7 580.5,799.2 576.1,794.1 573.3,792.2 569.6,790.7M517.5,793.5 512.9,793.0 508.2,794.2 505.4,796.4 503.1,800.1 501.9,805.7 502.6,811.3 504.6,815.0 508.2,817.3 512.9,818.3 518.4,817.6 522.2,815.4 524.0,812.2 525.0,805.7 524.1,800.1 521.2,795.5 517.5,793.5M412.4,816.4 416.1,815.9 419.1,814.1 421.0,811.3 421.7,807.5 421.0,803.8 418.9,801.2 416.1,800.0 412.4,799.8M616.1,799.8 613.3,800.4 610.5,802.2 609.1,804.7 608.6,808.5 608.9,811.3 610.5,814.2 613.2,815.9 616.1,816.4M464.5,803.7 461.7,803.9 460.3,804.7 459.2,806.6 459.2,808.5 459.8,810.1 462.6,811.9 465.8,811.3 467.5,808.5 466.9,805.7 464.5,803.7M412.4,774.9 416.1,774.7 419.8,773.7 425.4,770.1 429.4,764.7 430.7,760.9 431.2,757.2 430.8,753.5 429.7,749.8 427.7,746.0 425.4,743.4 422.6,741.1 418.9,739.2 412.4,737.9M616.1,737.9 609.6,739.1 605.9,741.0 603.1,743.4 600.9,746.0 599.0,749.8 597.9,756.3 598.4,760.0 599.6,763.7 603.4,769.3 605.9,771.4 609.6,773.5 616.1,774.9M465.4,746.0 460.8,746.4 457.0,747.8 454.9,749.8 453.2,753.5 452.9,759.1 454.2,763.7 457.0,767.1 460.8,768.7 466.3,769.0 472.1,767.5 475.6,764.7 477.9,760.0 477.8,754.4 476.9,751.6 475.5,749.8 471.1,747.0 465.4,746.0M567.7,747.7 564.0,747.6 561.2,748.3 559.2,749.8 557.5,752.0 556.6,755.4 556.9,759.1 558.3,761.9 560.3,763.4 564.0,764.3 567.7,764.0 570.5,762.6 572.4,760.0 573.2,755.4 572.5,751.6 570.5,749.0 567.7,747.7M465.4,688.1 458.9,688.4 455.2,689.7 452.4,691.3 449.6,693.8 447.6,696.6 445.3,703.2 445.3,706.9 446.0,710.6 447.6,714.3 449.5,717.1 452.4,719.9 455.2,721.8 461.7,723.8 468.2,723.3 471.9,721.8 474.7,719.9 477.4,717.1 479.1,714.3 481.0,707.8 480.4,701.3 478.9,697.6 477.0,694.8 471.9,690.4 465.4,688.1M412.4,716.2 417.1,715.4 420.2,713.4 422.3,709.7 423.1,704.1 422.6,699.4 420.5,694.8 417.1,691.9 412.4,690.9M616.1,690.9 611.4,691.5 607.7,693.8 604.7,698.5 603.8,704.1 604.6,709.7 606.8,713.3 610.5,715.5 616.1,716.2M519.4,698.4 515.6,697.7 511.9,698.2 509.4,699.4 507.8,701.3 506.8,705.0 507.0,708.8 508.2,711.5 510.1,713.3 512.9,714.2 516.6,714.2 519.4,713.2 522.1,710.6 523.4,706.9 523.3,703.2 522.0,700.4 519.4,698.4M566.8,701.9 564.9,701.5 563.1,702.0 561.2,704.1 560.9,706.0 561.6,707.8 564.0,709.8 566.8,709.7 568.2,708.8 569.2,706.9 569.0,704.1 566.8,701.9M496.1,654.7 497.5,661.2 499.6,665.0 501.7,667.4 507.3,671.2 511.0,672.5 514.7,672.9 521.2,671.8 524.9,669.9 527.6,667.7 529.9,665.0 531.9,661.2 533.0,654.7M554.7,654.7 555.5,660.3 557.7,664.0 561.2,666.3 566.8,667.0 572.4,666.1 577.0,663.1 579.3,659.4 580.0,654.7M454.7,654.7 455.2,657.6 456.9,660.3 459.8,661.9 462.6,662.3 466.3,661.8 468.9,660.3 470.7,657.5 471.3,654.7" fill="none" stroke="#a4c8f2" stroke-width="1.3"/>
<path d="M474.0,858.8 473.7,853.2 471.9,849.1 469.1,846.8 464.5,845.8 458.9,846.5 455.2,848.7 452.1,853.2 451.1,858.8M534.2,858.8 533.8,855.1 532.7,851.3 530.6,847.6 528.3,844.8 522.2,840.6 517.5,839.1 513.8,838.8 510.1,839.2 506.3,840.4 502.6,842.6 500.2,844.8 497.4,848.5 496.2,851.3 495.2,855.1 495.0,858.8M587.2,858.8 585.1,853.2 581.8,849.5 575.2,846.5 567.7,845.5 561.2,846.2 556.2,848.5 553.4,852.3 552.1,858.8M569.6,789.7 565.9,789.1 562.2,789.2 555.6,791.2 552.2,793.6 549.6,796.4 547.9,799.2 546.5,802.9 545.9,806.6 546.2,810.3 547.2,814.1 549.0,817.8 551.9,821.4 554.7,823.6 561.2,826.5 564.9,827.0 568.7,826.8 575.2,824.3 580.2,819.7 583.3,813.1 583.9,809.4 583.7,805.7 582.8,802.0 581.0,798.2 576.1,792.9 569.6,789.7M515.6,786.1 511.9,785.4 509.1,785.6 506.3,786.8 504.5,788.3 501.7,792.8 499.1,802.9 498.8,810.3 500.2,815.0 501.7,816.9 504.2,818.7 510.1,820.7 516.6,820.7 522.2,818.9 525.1,815.9 527.1,810.3 527.3,802.0 524.9,793.5 523.1,790.5 521.2,788.7 515.6,786.1M412.4,820.0 418.0,819.0 422.5,815.9 424.6,812.2 425.3,806.6 424.4,802.0 422.1,799.2 418.0,797.4 412.4,797.1M616.1,797.1 611.4,798.1 608.5,800.1 606.4,803.8 605.9,808.5 606.4,813.1 608.7,817.3 611.4,819.2 616.1,820.0M466.3,801.8 463.6,801.1 460.8,801.5 458.6,802.9 457.2,804.7 456.7,806.6 457.0,809.4 458.7,812.2 460.8,813.8 463.6,814.5 465.9,814.1 468.2,812.5 469.6,810.3 470.0,808.5 469.7,805.7 468.2,803.2 466.3,801.8M412.4,776.0 416.1,775.8 419.8,774.9 422.6,773.6 426.4,770.9 428.6,768.4 430.7,764.7 431.9,760.9 432.4,757.2 432.1,753.5 430.6,748.8 426.4,742.7 423.6,740.4 419.8,738.3 416.1,737.1 412.4,736.7M616.1,736.7 612.4,737.0 608.7,738.2 604.9,740.2 602.5,742.3 600.2,745.1 598.2,748.8 597.1,752.6 596.9,756.3 597.3,760.0 598.5,763.7 600.6,767.5 603.0,770.3 605.9,772.6 609.6,774.6 616.1,776.0M471.9,744.1 466.3,743.5 459.8,744.1 455.2,745.9 452.3,748.8 450.4,754.4 450.5,760.9 452.4,766.8 454.2,769.3 456.1,770.8 461.7,772.3 471.0,771.4 480.2,768.4 484.3,764.7 485.5,761.9 485.6,758.1 484.7,754.4 483.0,750.7 479.3,747.0 471.9,744.1M568.7,744.0 564.0,743.9 560.3,744.7 556.7,747.0 554.6,749.8 553.1,754.4 553.3,760.0 554.7,763.2 557.6,765.6 562.2,766.9 568.7,766.6 572.4,764.8 574.6,761.9 576.0,755.4 575.2,749.8 572.4,745.6 568.7,744.0M465.4,687.2 461.7,687.0 458.0,687.6 454.3,688.9 451.0,691.0 448.1,693.8 446.3,696.6 444.8,700.4 444.1,704.1 444.3,707.8 445.1,711.5 448.9,718.1 451.5,720.6 455.2,723.0 458.9,724.4 462.6,725.0 469.1,724.2 472.9,722.6 475.6,720.6 479.8,715.3 481.3,711.5 482.0,707.8 481.9,704.1 481.1,700.4 477.5,693.9 471.9,689.3 465.4,687.2M412.4,718.8 418.9,717.6 422.6,714.7 424.9,709.7 425.7,703.2 424.6,695.7 421.7,689.1 418.0,685.7 412.4,683.7M616.1,683.7 612.4,683.4 609.6,684.0 606.8,685.8 604.9,688.1 603.1,692.1 601.8,696.6 600.6,706.0 601.4,711.5 604.0,715.3 609.6,718.1 616.1,718.8M521.2,695.7 516.6,694.9 511.9,695.3 508.2,696.7 505.6,699.4 504.1,704.1 504.2,709.7 505.5,713.4 508.2,716.5 512.9,717.9 518.4,717.4 522.2,715.8 525.4,712.5 527.0,707.8 526.7,701.3 524.9,698.0 521.2,695.7M566.8,699.2 564.0,699.1 561.2,700.2 559.4,702.2 558.6,704.1 558.7,706.9 559.5,708.8 561.2,710.8 564.0,712.2 566.8,712.3 568.7,711.5 570.7,709.7 571.8,706.9 571.7,704.1 570.9,702.2 569.2,700.4 566.8,699.2M495.0,654.7 496.5,661.2 498.4,665.0 500.8,667.8 503.6,670.2 507.3,672.3 511.0,673.5 514.7,674.0 518.4,673.7 522.2,672.6 525.9,670.7 528.7,668.4 530.7,665.9 532.8,662.2 533.9,658.4 534.2,654.7M552.1,654.7 552.8,661.2 555.6,666.8 559.4,669.4 564.9,670.3 574.2,669.0 578.8,667.7 582.8,665.9 585.0,664.0 586.9,661.2 587.5,658.4 587.2,654.7M451.1,654.7 451.9,659.4 453.8,662.2 458.0,664.4 462.6,665.0 467.3,664.4 471.0,662.3 473.0,659.4 474.0,654.7" fill="none" stroke="#d6e6f8" stroke-width="1.3"/>
<path d="M476.8,858.8 476.7,852.3 474.6,845.8 472.9,843.5 471.0,842.3 466.3,841.6 457.0,842.5 452.4,845.2 450.3,847.6 448.3,851.3 446.9,858.8M536.0,858.8 535.6,855.1 534.0,850.4 529.5,843.9 525.9,840.8 522.2,838.8 518.4,837.5 513.8,836.9 509.1,837.5 505.4,838.9 501.7,841.2 498.9,843.8 496.7,846.7 494.9,850.4 493.9,854.1 493.7,858.8M602.4,858.8 600.2,848.5 598.4,845.8 596.6,844.4 592.8,843.6 581.7,843.8 568.7,842.0 560.3,843.4 556.6,844.9 553.9,846.7 550.4,851.3 549.0,855.1 548.3,858.8M566.8,788.0 559.4,788.4 555.6,789.7 551.9,792.0 549.1,794.6 546.6,798.2 545.2,802.0 544.5,805.7 544.7,810.3 545.7,814.1 547.5,817.8 550.1,821.3 553.8,824.6 557.5,826.7 564.9,828.5 568.7,828.3 572.4,827.4 576.1,825.5 578.9,823.3 581.3,820.6 583.4,816.9 584.6,813.1 585.1,809.4 584.9,805.7 584.0,802.0 580.3,795.4 577.6,792.6 574.2,790.4 570.5,788.8 566.8,788.0M471.0,740.4 464.5,740.1 457.0,741.8 452.4,744.4 449.3,747.9 447.0,753.5 446.5,759.1 448.1,765.6 451.4,773.1 454.3,775.5 457.0,776.1 475.6,773.5 479.4,774.0 482.2,775.3 484.5,777.7 486.8,783.5 487.7,784.3 494.3,787.3 496.8,790.8 497.5,796.4 495.0,814.1 495.5,816.9 496.8,818.7 502.6,822.0 511.0,824.6 517.5,824.1 523.1,821.8 525.9,819.6 528.4,815.9 530.1,811.3 530.9,806.6 530.9,802.0 529.1,789.8 529.4,779.6 528.3,775.9 524.9,772.9 511.9,769.7 508.2,767.8 505.4,765.5 503.2,762.8 501.3,759.1 498.1,746.0 495.2,742.6 491.5,741.6 481.2,741.9 471.0,740.4M412.4,824.2 419.8,822.8 423.6,820.8 425.9,818.7 428.6,814.1 429.6,804.7 428.9,800.1 427.7,798.2 425.4,796.5 418.9,794.4 412.4,794.3M616.1,794.3 610.5,795.5 606.4,798.2 604.0,802.9 603.2,809.4 604.1,815.9 606.8,821.3 610.5,823.7 616.1,824.2M464.5,798.2 460.8,798.4 457.0,800.2 454.8,802.9 453.9,806.6 454.9,810.3 457.0,813.5 460.8,816.2 464.5,817.2 468.2,816.3 470.9,814.1 472.5,811.3 473.0,807.5 472.1,803.8 470.2,801.0 467.3,798.9 464.5,798.2M412.4,777.3 417.1,777.1 420.8,776.1 424.5,774.3 427.4,772.1 430.0,769.3 432.3,765.6 433.6,761.9 434.2,757.2 433.6,752.6 432.4,748.8 430.3,745.1 427.3,741.5 420.8,736.9 416.1,735.3 412.4,734.9M616.1,734.9 612.4,735.2 608.7,736.2 604.9,738.1 601.2,741.2 598.9,744.2 596.9,747.9 595.9,751.6 595.5,755.4 596.0,760.0 597.2,763.7 601.4,770.3 604.9,773.4 608.7,775.5 616.1,777.3M572.4,740.0 567.7,739.5 559.4,740.4 555.6,742.0 552.5,745.1 549.7,750.7 548.7,758.1 549.4,762.8 550.4,764.7 552.2,766.5 558.4,769.1 565.9,769.6 572.4,768.0 576.1,764.8 578.3,759.1 578.6,750.7 577.8,747.0 576.2,743.2 574.2,741.0 572.4,740.0M467.3,686.3 463.6,685.8 458.9,686.1 455.2,687.1 451.5,689.0 447.8,692.0 445.6,694.8 443.8,698.5 442.8,702.2 442.6,706.0 443.4,710.6 445.4,715.3 447.2,718.1 449.9,720.9 453.3,723.4 457.0,725.2 460.8,726.2 468.2,726.0 474.7,723.2 477.5,720.8 480.3,717.1 482.1,713.4 483.0,709.7 482.8,702.2 481.6,698.5 479.6,694.8 474.7,689.8 471.0,687.6 467.3,686.3M412.4,722.6 416.1,722.0 419.8,720.5 424.5,717.0 426.3,714.3 427.8,710.6 429.1,702.2 427.4,689.2 427.6,678.0 426.7,674.3 425.4,672.4 422.6,670.7 412.4,668.4M523.1,692.8 517.5,692.0 511.0,692.8 506.3,694.7 503.5,697.6 501.6,703.2 501.6,710.6 503.6,717.2 505.4,719.8 507.3,721.1 512.9,722.2 520.3,721.2 525.9,718.4 529.5,714.3 531.1,708.8 531.4,702.2 530.9,698.5 528.7,695.4 523.1,692.8M548.3,654.7 548.7,659.4 550.8,665.9 553.0,670.5 555.6,673.2 560.3,674.0 576.1,671.6 581.7,672.0 584.2,673.3 586.0,675.2 589.1,681.9 594.7,684.3 596.6,685.6 598.4,688.3 599.3,692.0 596.8,710.6 597.6,715.3 600.3,717.9 604.9,720.1 611.4,722.3 616.1,722.6M567.7,696.4 564.0,696.1 560.3,697.2 557.5,699.5 555.9,703.2 556.2,706.9 558.4,710.9 562.2,714.0 565.9,715.1 568.7,714.9 571.5,713.4 573.7,710.6 574.8,706.9 574.5,703.2 573.2,700.4 570.5,697.7 567.7,696.4M493.7,654.7 495.6,662.2 497.7,665.9 500.8,669.4 507.3,673.6 511.0,674.8 515.6,675.3 519.4,675.0 523.1,673.9 526.8,672.0 529.8,669.6 532.9,665.9 534.8,662.2 535.8,658.4 536.0,654.7M616.1,668.4 611.4,666.6 606.9,663.1 604.2,659.4 602.4,654.7M446.9,654.7 447.4,660.3 449.8,664.0 455.2,666.7 461.7,667.6 468.2,666.8 472.9,664.4 475.5,660.3 476.8,654.7" fill="none" stroke="#52def0" stroke-width="1.3"/>
<path d="M412.4,837.4 413.7,834.6 416.1,832.7 434.7,824.3 435.7,821.5 434.5,813.1 434.8,809.4 437.5,803.4 440.3,801.1 444.0,801.3 446.8,802.9 448.7,805.0 453.1,812.2 456.1,815.7 467.3,823.4 468.9,825.2 470.0,828.0 469.9,830.8 468.8,832.7 464.2,835.5 460.8,836.6 457.0,836.6 449.6,835.5 446.9,836.4 438.4,855.1 436.6,857.5 433.8,858.8M481.8,858.8 484.0,855.1 489.6,851.3 490.5,852.2 491.4,858.8M607.8,858.8 607.6,855.1 608.7,850.8 614.8,841.1 616.1,837.4M496.7,827.1 497.9,828.0 497.8,829.9 490.8,839.2 485.0,850.8 484.0,851.7 483.1,851.4 481.2,848.4 479.9,843.0 480.0,839.2 481.2,835.9 484.5,831.8 488.7,828.4 492.4,826.9 496.7,827.1M541.7,811.3 544.9,817.8 549.3,823.4 554.7,827.8 562.4,831.8 562.3,832.7 557.6,835.5 556.2,839.2 553.9,842.0 548.2,846.9 545.4,848.0 540.8,846.2 535.3,843.0 532.4,840.4 529.2,836.4 526.0,830.8 525.0,828.0 525.8,825.2 531.5,818.6 533.3,817.0 538.0,815.0 540.8,810.3 541.7,811.3M616.1,789.3 605.9,794.7 603.4,797.3 601.4,801.0 600.0,805.7 599.5,810.3 601.5,824.3 601.2,827.1 600.4,829.0 598.4,831.1 594.5,833.6 590.1,835.5 586.3,836.0 584.8,835.5 584.4,834.6 585.3,828.0 584.5,827.3 582.6,826.9 581.6,826.2 586.0,815.9 586.9,811.3 586.7,806.6 586.0,802.9 584.0,798.2 579.8,792.7 574.2,788.7 567.7,786.4 563.1,786.0 558.4,786.5 552.9,788.4 547.3,791.2 546.1,790.8 545.4,787.9 543.5,787.6 538.0,788.4 537.0,787.2 536.9,786.1 538.0,781.6 540.3,776.8 542.6,773.7 545.4,771.8 550.1,771.5 559.4,773.2 564.0,773.4 569.6,772.3 575.2,769.8 579.2,765.6 585.4,753.6 591.0,749.4 591.9,749.3 592.4,750.7 593.3,757.2 594.9,762.8 599.3,770.3 603.1,773.9 606.8,776.5 610.5,778.2 616.1,779.7M490.8,790.8 493.1,791.7 494.5,793.6 495.0,796.4 494.6,800.1 493.1,805.7 491.5,809.4 489.6,811.3 486.8,811.8 485.0,810.7 483.4,808.5 482.6,804.7 482.8,801.0 484.3,796.4 485.9,793.6 488.7,791.2 490.8,790.8M442.8,773.1 443.9,774.0 444.4,775.9 443.6,780.5 440.7,785.2 435.7,789.6 431.9,791.1 428.2,791.2 422.8,789.8 419.8,788.0 419.5,787.0 420.3,786.1 431.0,780.8 440.3,773.7 442.8,773.1M412.4,779.7 419.0,780.5 419.9,781.4 416.1,787.0 412.4,789.3M477.9,776.8 479.9,778.7 480.2,781.4 478.4,784.4 474.7,786.8 470.1,788.2 465.4,788.4 461.7,787.1 459.7,785.2 459.2,783.3 459.8,781.4 463.4,778.7 472.9,776.1 475.6,776.1 477.9,776.8M546.2,699.4 550.1,702.3 554.6,709.7 557.7,713.4 569.6,721.8 571.7,725.5 571.6,729.3 568.7,732.1 563.1,734.4 559.4,734.6 551.9,733.4 549.3,733.9 547.3,736.8 540.8,752.2 538.0,755.8 532.4,757.8 525.0,762.8 520.9,764.7 515.6,765.3 511.0,763.8 508.6,761.9 506.8,759.1 505.9,756.3 505.8,752.6 507.3,747.7 512.7,739.5 515.2,733.0 518.8,730.2 534.2,723.7 536.9,721.8 537.5,719.0 536.3,709.7 537.0,705.9 538.9,702.1 540.8,699.8 543.5,698.9 546.2,699.4M599.4,725.5 599.9,726.5 599.5,728.3 592.9,736.7 587.3,748.0 586.3,749.4 585.4,749.6 583.5,747.4 581.8,741.4 581.8,737.6 583.0,733.9 586.3,729.7 591.0,726.1 595.6,724.7 599.4,725.5M439.5,708.8 443.4,716.2 447.7,721.6 453.3,726.0 459.9,729.3 460.8,730.2 456.1,733.0 453.4,738.6 446.8,744.6 444.0,745.9 440.3,745.0 433.8,741.1 431.0,738.8 427.7,734.8 423.2,726.5 423.3,724.6 424.2,722.7 429.1,717.0 431.9,714.7 435.7,713.4 438.4,708.6 439.5,708.8M491.4,654.7 492.9,660.3 494.6,664.0 497.1,667.7 500.8,671.5 508.2,675.9 513.8,677.6 520.3,678.5 521.6,678.9 521.6,679.9 517.4,685.5 505.4,691.6 501.2,695.7 498.7,701.3 497.7,706.9 497.8,711.5 499.6,720.9 499.2,725.5 497.4,728.3 494.3,730.7 489.5,733.0 485.0,734.0 483.8,733.9 482.6,733.0 483.5,727.4 483.1,725.5 480.3,724.8 479.9,723.7 482.7,718.1 484.5,712.5 485.0,707.8 484.7,703.2 482.4,696.6 478.3,691.0 472.9,686.9 468.2,684.9 464.5,684.1 459.8,684.0 455.2,684.8 445.0,689.3 444.2,688.3 443.9,686.4 443.1,685.6 436.6,686.5 435.7,686.1 435.1,684.5 435.7,680.8 437.5,676.4 440.0,672.4 442.2,670.5 444.0,669.6 446.8,669.3 460.8,671.4 465.4,670.9 470.1,669.5 473.8,667.4 476.4,665.0 481.8,654.7M594.3,689.2 596.1,691.0 596.8,693.8 596.6,697.6 595.4,702.2 592.8,708.0 591.0,709.5 588.2,709.6 586.1,707.8 584.8,705.0 584.4,701.3 585.0,697.6 586.8,692.9 589.0,690.1 591.9,688.7 594.3,689.2M545.4,671.5 546.3,675.2 544.8,679.9 541.3,684.5 537.0,687.8 533.3,689.1 529.6,689.1 523.6,687.3 521.4,685.5 521.6,684.5 523.0,683.6 534.2,677.9 542.6,671.4 544.5,670.9 545.4,671.5M578.6,674.3 581.4,676.1 582.2,678.9 580.8,681.8 577.0,684.5 572.4,686.1 567.7,686.4 564.0,685.4 561.3,682.7 561.4,679.9 564.3,677.1 573.3,674.3 578.6,674.3M433.8,654.7 430.1,656.0 420.3,662.2 416.1,663.2 412.4,663.0M616.1,663.0 613.3,662.0 610.5,659.9 608.8,657.5 607.8,654.7" fill="none" stroke="#7ce6f0" stroke-width="1.3"/>
<path d="M412.4,852.1 415.2,851.7 418.0,853.1 419.5,856.0 419.1,858.8M613.0,858.8 613.1,855.1 614.2,853.4 616.1,852.1M536.5,825.2 540.8,828.0 546.1,833.6 548.0,837.4 547.3,840.2 545.4,841.0 542.6,840.2 538.0,836.5 533.8,831.8 532.2,829.0 532.4,826.4 534.2,825.0 536.5,825.2M447.7,811.3 459.8,823.4 460.7,826.2 459.8,827.8 458.0,829.6 455.2,829.8 451.5,827.7 445.1,821.5 442.2,817.8 441.2,815.0 442.2,812.3 445.0,810.4 447.7,811.3M491.8,796.4 492.1,798.2 491.5,800.8 489.6,803.0 488.7,802.5 488.2,801.0 488.7,797.3 490.5,795.5 491.8,796.4M587.2,768.4 593.4,772.1 597.5,775.4 600.8,779.6 604.7,786.1 605.0,788.9 604.1,790.8 599.4,796.1 596.6,797.8 587.3,796.0 576.7,785.2 576.5,782.4 575.1,777.7 575.7,774.9 582.6,768.5 584.5,767.8 587.2,768.4M475.2,779.6 475.6,780.5 475.1,781.4 472.9,782.7 469.1,782.6 468.1,781.4 468.7,780.5 471.0,779.3 473.8,779.0 475.2,779.6M517.5,749.8 519.5,750.7 520.9,752.6 521.1,756.3 520.1,758.1 518.4,759.5 514.7,760.0 512.8,759.1 511.3,757.2 511.1,753.5 512.2,751.6 513.8,750.3 515.6,749.7 517.5,749.8M435.7,723.7 440.5,727.4 445.2,733.0 446.2,735.8 445.9,737.4 445.0,738.5 442.2,738.7 439.4,737.2 434.7,733.0 431.0,728.3 430.2,725.5 431.0,723.7 432.9,722.9 435.7,723.7M548.7,708.8 551.9,711.2 562.0,721.8 562.4,724.6 560.0,727.4 557.5,727.8 553.8,726.0 548.2,720.8 544.3,716.2 543.1,713.4 543.5,710.9 546.3,708.5 548.7,708.8M593.2,693.8 593.8,694.8 593.7,697.6 592.8,699.7 591.9,700.8 591.0,700.9 590.1,699.3 590.4,695.7 591.9,693.6 593.2,693.8M484.0,665.9 490.9,669.6 495.6,673.3 498.9,677.4 503.0,684.5 503.2,686.4 501.9,689.2 498.0,693.6 495.2,695.6 493.3,695.8 488.7,694.4 485.9,694.2 475.9,684.5 474.7,682.7 474.5,679.9 473.2,675.2 473.6,673.3 475.9,670.5 480.3,666.7 482.2,665.9 484.0,665.9M576.3,677.1 577.3,678.0 577.3,678.9 576.1,680.1 572.4,680.9 570.0,679.9 570.1,678.9 571.5,677.9 574.2,676.9 576.3,677.1M419.1,654.7 417.8,656.6 416.1,657.7 412.4,657.8M616.1,657.8 614.1,656.6 613.0,654.7" fill="none" stroke="#a2eef6" stroke-width="1.3"/></g>
<rect x="48.5" y="654.7" width="203.7" height="204.1" fill="none" stroke="#8a8a8a" stroke-width="1.3"/>
<path d="M48.5,858.8v2.4M48.5,858.8h-2.4M68.9,858.8v2.4M48.5,838.4h-2.4M89.2,858.8v2.4M48.5,818.0h-2.4M109.6,858.8v2.4M48.5,797.6h-2.4M130.0,858.8v2.4M48.5,777.2h-2.4M150.3,858.8v2.4M48.5,756.8h-2.4M170.7,858.8v2.4M48.5,736.3h-2.4M191.1,858.8v2.4M48.5,715.9h-2.4M211.5,858.8v2.4M48.5,695.5h-2.4M231.8,858.8v2.4M48.5,675.1h-2.4M252.2,858.8v2.4M48.5,654.7h-2.4" stroke="#8a8a8a" stroke-width="1.1"/>
<text x="48.5" y="880.2" class="sf tl" text-anchor="middle">0</text>
<text x="43.5" y="862.0" class="sf tl" text-anchor="end">0</text>
<text x="68.9" y="880.2" class="sf tl" text-anchor="middle">.1</text>
<text x="43.5" y="841.6" class="sf tl" text-anchor="end">.1</text>
<text x="89.2" y="880.2" class="sf tl" text-anchor="middle">.2</text>
<text x="43.5" y="821.2" class="sf tl" text-anchor="end">.2</text>
<text x="109.6" y="880.2" class="sf tl" text-anchor="middle">.3</text>
<text x="43.5" y="800.8" class="sf tl" text-anchor="end">.3</text>
<text x="130.0" y="880.2" class="sf tl" text-anchor="middle">.4</text>
<text x="43.5" y="780.4" class="sf tl" text-anchor="end">.4</text>
<text x="150.3" y="880.2" class="sf tl" text-anchor="middle">.5</text>
<text x="43.5" y="760.0" class="sf tl" text-anchor="end">.5</text>
<text x="170.7" y="880.2" class="sf tl" text-anchor="middle">.6</text>
<text x="43.5" y="739.5" class="sf tl" text-anchor="end">.6</text>
<text x="191.1" y="880.2" class="sf tl" text-anchor="middle">.7</text>
<text x="43.5" y="719.1" class="sf tl" text-anchor="end">.7</text>
<text x="211.5" y="880.2" class="sf tl" text-anchor="middle">.8</text>
<text x="43.5" y="698.7" class="sf tl" text-anchor="end">.8</text>
<text x="231.8" y="880.2" class="sf tl" text-anchor="middle">.9</text>
<text x="43.5" y="678.3" class="sf tl" text-anchor="end">.9</text>
<text x="252.2" y="880.2" class="sf tl" text-anchor="middle">1</text>
<text x="43.5" y="657.9" class="sf tl" text-anchor="end">1</text>
<text x="150.3" y="892.4" class="sf tl" text-anchor="middle">x/a</text>
<text transform="translate(18.5,756.8) rotate(-90)" class="sf tl" text-anchor="middle">y/b</text>
<rect x="412.4" y="654.7" width="203.7" height="204.1" fill="none" stroke="#8a8a8a" stroke-width="1.3"/>
<path d="M412.4,858.8v2.4M412.4,858.8h-2.4M432.8,858.8v2.4M412.4,838.4h-2.4M453.1,858.8v2.4M412.4,818.0h-2.4M473.5,858.8v2.4M412.4,797.6h-2.4M493.9,858.8v2.4M412.4,777.2h-2.4M514.2,858.8v2.4M412.4,756.8h-2.4M534.6,858.8v2.4M412.4,736.3h-2.4M555.0,858.8v2.4M412.4,715.9h-2.4M575.4,858.8v2.4M412.4,695.5h-2.4M595.7,858.8v2.4M412.4,675.1h-2.4M616.1,858.8v2.4M412.4,654.7h-2.4" stroke="#8a8a8a" stroke-width="1.1"/>
<text x="412.4" y="880.2" class="sf tl" text-anchor="middle">0</text>
<text x="407.4" y="862.0" class="sf tl" text-anchor="end">0</text>
<text x="432.8" y="880.2" class="sf tl" text-anchor="middle">.1</text>
<text x="407.4" y="841.6" class="sf tl" text-anchor="end">.1</text>
<text x="453.1" y="880.2" class="sf tl" text-anchor="middle">.2</text>
<text x="407.4" y="821.2" class="sf tl" text-anchor="end">.2</text>
<text x="473.5" y="880.2" class="sf tl" text-anchor="middle">.3</text>
<text x="407.4" y="800.8" class="sf tl" text-anchor="end">.3</text>
<text x="493.9" y="880.2" class="sf tl" text-anchor="middle">.4</text>
<text x="407.4" y="780.4" class="sf tl" text-anchor="end">.4</text>
<text x="514.2" y="880.2" class="sf tl" text-anchor="middle">.5</text>
<text x="407.4" y="760.0" class="sf tl" text-anchor="end">.5</text>
<text x="534.6" y="880.2" class="sf tl" text-anchor="middle">.6</text>
<text x="407.4" y="739.5" class="sf tl" text-anchor="end">.6</text>
<text x="555.0" y="880.2" class="sf tl" text-anchor="middle">.7</text>
<text x="407.4" y="719.1" class="sf tl" text-anchor="end">.7</text>
<text x="575.4" y="880.2" class="sf tl" text-anchor="middle">.8</text>
<text x="407.4" y="698.7" class="sf tl" text-anchor="end">.8</text>
<text x="595.7" y="880.2" class="sf tl" text-anchor="middle">.9</text>
<text x="407.4" y="678.3" class="sf tl" text-anchor="end">.9</text>
<text x="616.1" y="880.2" class="sf tl" text-anchor="middle">1</text>
<text x="407.4" y="657.9" class="sf tl" text-anchor="end">1</text>
<text x="514.2" y="892.4" class="sf tl" text-anchor="middle">x/a</text>
<text transform="translate(382.4,756.8) rotate(-90)" class="sf tl" text-anchor="middle">y/b</text>
<line x1="282.3" y1="648.0" x2="296.3" y2="648.0" stroke="#fbf3a8" stroke-width="1.3"/>
<text x="325" y="651.6" class="sf lv" text-anchor="middle">23.416</text>
<line x1="282.3" y1="659.4" x2="296.3" y2="659.4" stroke="#f6e27a" stroke-width="1.3"/>
<text x="325" y="663.0" class="sf lv" text-anchor="middle">21.991</text>
<line x1="282.3" y1="670.9" x2="296.3" y2="670.9" stroke="#e8d77a" stroke-width="1.3"/>
<text x="325" y="674.5" class="sf lv" text-anchor="middle">20.566</text>
<line x1="282.3" y1="682.3" x2="296.3" y2="682.3" stroke="#f7d898" stroke-width="1.3"/>
<text x="325" y="685.9" class="sf lv" text-anchor="middle">19.140</text>
<line x1="282.3" y1="693.8" x2="296.3" y2="693.8" stroke="#f6d084" stroke-width="1.3"/>
<text x="325" y="697.4" class="sf lv" text-anchor="middle">17.715</text>
<line x1="282.3" y1="705.2" x2="296.3" y2="705.2" stroke="#efc877" stroke-width="1.3"/>
<text x="325" y="708.8" class="sf lv" text-anchor="middle">16.290</text>
<line x1="282.3" y1="716.6" x2="296.3" y2="716.6" stroke="#f6c2a4" stroke-width="1.3"/>
<text x="325" y="720.2" class="sf lv" text-anchor="middle">14.864</text>
<line x1="282.3" y1="728.1" x2="296.3" y2="728.1" stroke="#f5ad86" stroke-width="1.3"/>
<text x="325" y="731.7" class="sf lv" text-anchor="middle">13.439</text>
<line x1="282.3" y1="739.5" x2="296.3" y2="739.5" stroke="#f6b2a0" stroke-width="1.3"/>
<text x="325" y="743.1" class="sf lv" text-anchor="middle">12.014</text>
<line x1="282.3" y1="751.0" x2="296.3" y2="751.0" stroke="#ef9080" stroke-width="1.3"/>
<text x="325" y="754.6" class="sf lv" text-anchor="middle">10.588</text>
<line x1="282.3" y1="762.4" x2="296.3" y2="762.4" stroke="#5a5ad6" stroke-width="1.3"/>
<text x="325" y="766.0" class="sf lv" text-anchor="middle">9.163</text>
<line x1="282.3" y1="773.8" x2="296.3" y2="773.8" stroke="#6a6af0" stroke-width="1.3"/>
<text x="325" y="777.4" class="sf lv" text-anchor="middle">7.738</text>
<line x1="282.3" y1="785.3" x2="296.3" y2="785.3" stroke="#9c8ef0" stroke-width="1.3"/>
<text x="325" y="788.9" class="sf lv" text-anchor="middle">6.312</text>
<line x1="282.3" y1="796.7" x2="296.3" y2="796.7" stroke="#cfc2f6" stroke-width="1.3"/>
<text x="325" y="800.3" class="sf lv" text-anchor="middle">4.887</text>
<line x1="282.3" y1="808.2" x2="296.3" y2="808.2" stroke="#5c9ef0" stroke-width="1.3"/>
<text x="325" y="811.8" class="sf lv" text-anchor="middle">3.462</text>
<line x1="282.3" y1="819.6" x2="296.3" y2="819.6" stroke="#a4c8f2" stroke-width="1.3"/>
<text x="325" y="823.2" class="sf lv" text-anchor="middle">2.036</text>
<line x1="282.3" y1="831.0" x2="296.3" y2="831.0" stroke="#d6e6f8" stroke-width="1.3"/>
<text x="325" y="834.6" class="sf lv" text-anchor="middle">0.611</text>
<line x1="282.3" y1="842.5" x2="296.3" y2="842.5" stroke="#52def0" stroke-width="1.3"/>
<text x="325" y="846.1" class="sf lv" text-anchor="middle">-0.814</text>
<line x1="282.3" y1="853.9" x2="296.3" y2="853.9" stroke="#7ce6f0" stroke-width="1.3"/>
<text x="325" y="857.5" class="sf lv" text-anchor="middle">-2.239</text>
<line x1="282.3" y1="865.4" x2="296.3" y2="865.4" stroke="#a2eef6" stroke-width="1.3"/>
<text x="325" y="869.0" class="sf lv" text-anchor="middle">-3.665</text>
<line x1="646.3" y1="648.0" x2="660.3" y2="648.0" stroke="#fbf3a8" stroke-width="1.3"/>
<text x="689" y="651.6" class="sf lv" text-anchor="middle">16.772</text>
<line x1="646.3" y1="659.4" x2="660.3" y2="659.4" stroke="#f6e27a" stroke-width="1.3"/>
<text x="689" y="663.0" class="sf lv" text-anchor="middle">15.752</text>
<line x1="646.3" y1="670.9" x2="660.3" y2="670.9" stroke="#e8d77a" stroke-width="1.3"/>
<text x="689" y="674.5" class="sf lv" text-anchor="middle">14.733</text>
<line x1="646.3" y1="682.3" x2="660.3" y2="682.3" stroke="#f7d898" stroke-width="1.3"/>
<text x="689" y="685.9" class="sf lv" text-anchor="middle">13.714</text>
<line x1="646.3" y1="693.8" x2="660.3" y2="693.8" stroke="#f6d084" stroke-width="1.3"/>
<text x="689" y="697.4" class="sf lv" text-anchor="middle">12.695</text>
<line x1="646.3" y1="705.2" x2="660.3" y2="705.2" stroke="#efc877" stroke-width="1.3"/>
<text x="689" y="708.8" class="sf lv" text-anchor="middle">11.675</text>
<line x1="646.3" y1="716.6" x2="660.3" y2="716.6" stroke="#f6c2a4" stroke-width="1.3"/>
<text x="689" y="720.2" class="sf lv" text-anchor="middle">10.656</text>
<line x1="646.3" y1="728.1" x2="660.3" y2="728.1" stroke="#f5ad86" stroke-width="1.3"/>
<text x="689" y="731.7" class="sf lv" text-anchor="middle">9.637</text>
<line x1="646.3" y1="739.5" x2="660.3" y2="739.5" stroke="#f6b2a0" stroke-width="1.3"/>
<text x="689" y="743.1" class="sf lv" text-anchor="middle">8.618</text>
<line x1="646.3" y1="751.0" x2="660.3" y2="751.0" stroke="#ef9080" stroke-width="1.3"/>
<text x="689" y="754.6" class="sf lv" text-anchor="middle">7.598</text>
<line x1="646.3" y1="762.4" x2="660.3" y2="762.4" stroke="#5a5ad6" stroke-width="1.3"/>
<text x="689" y="766.0" class="sf lv" text-anchor="middle">6.579</text>
<line x1="646.3" y1="773.8" x2="660.3" y2="773.8" stroke="#6a6af0" stroke-width="1.3"/>
<text x="689" y="777.4" class="sf lv" text-anchor="middle">5.560</text>
<line x1="646.3" y1="785.3" x2="660.3" y2="785.3" stroke="#9c8ef0" stroke-width="1.3"/>
<text x="689" y="788.9" class="sf lv" text-anchor="middle">4.541</text>
<line x1="646.3" y1="796.7" x2="660.3" y2="796.7" stroke="#cfc2f6" stroke-width="1.3"/>
<text x="689" y="800.3" class="sf lv" text-anchor="middle">3.522</text>
<line x1="646.3" y1="808.2" x2="660.3" y2="808.2" stroke="#5c9ef0" stroke-width="1.3"/>
<text x="689" y="811.8" class="sf lv" text-anchor="middle">2.502</text>
<line x1="646.3" y1="819.6" x2="660.3" y2="819.6" stroke="#a4c8f2" stroke-width="1.3"/>
<text x="689" y="823.2" class="sf lv" text-anchor="middle">1.483</text>
<line x1="646.3" y1="831.0" x2="660.3" y2="831.0" stroke="#d6e6f8" stroke-width="1.3"/>
<text x="689" y="834.6" class="sf lv" text-anchor="middle">0.464</text>
<line x1="646.3" y1="842.5" x2="660.3" y2="842.5" stroke="#52def0" stroke-width="1.3"/>
<text x="689" y="846.1" class="sf lv" text-anchor="middle">-0.555</text>
<line x1="646.3" y1="853.9" x2="660.3" y2="853.9" stroke="#7ce6f0" stroke-width="1.3"/>
<text x="689" y="857.5" class="sf lv" text-anchor="middle">-1.575</text>
<line x1="646.3" y1="865.4" x2="660.3" y2="865.4" stroke="#a2eef6" stroke-width="1.3"/>
<text x="689" y="869.0" class="sf lv" text-anchor="middle">-2.594</text>
<text x="145.7" y="669.5" class="fe" text-anchor="middle">Fe2</text>
<text x="99.2" y="708.6" class="fe" text-anchor="middle">Fe2</text>
<text x="61.8" y="761.2" class="fe" text-anchor="middle">Fe2</text>
<text x="237.3" y="761.2" class="fe" text-anchor="middle">Fe2</text>
<text x="201.6" y="812.5" class="fe" text-anchor="middle">Fe2</text>
<text x="153.4" y="852.9" class="fe" text-anchor="middle">Fe2</text>
<text x="201.6" y="669.5" class="fe" text-anchor="middle">O</text>
<text x="150.6" y="708.0" class="fe" text-anchor="middle">O</text>
<text x="99.0" y="761.2" class="fe" text-anchor="middle">O</text>
<text x="201.6" y="761.0" class="fe" text-anchor="middle">O</text>
<text x="150.3" y="812.5" class="fe" text-anchor="middle">O</text>
<text x="106.8" y="855.4" class="fe" text-anchor="middle">O</text>
<text x="8.3" y="674.6" class="pl" style="font-size:16.8px">(e)</text>
<text x="362" y="674.6" class="pl" style="font-size:16.8px">(f)</text>
</svg></body></html>
